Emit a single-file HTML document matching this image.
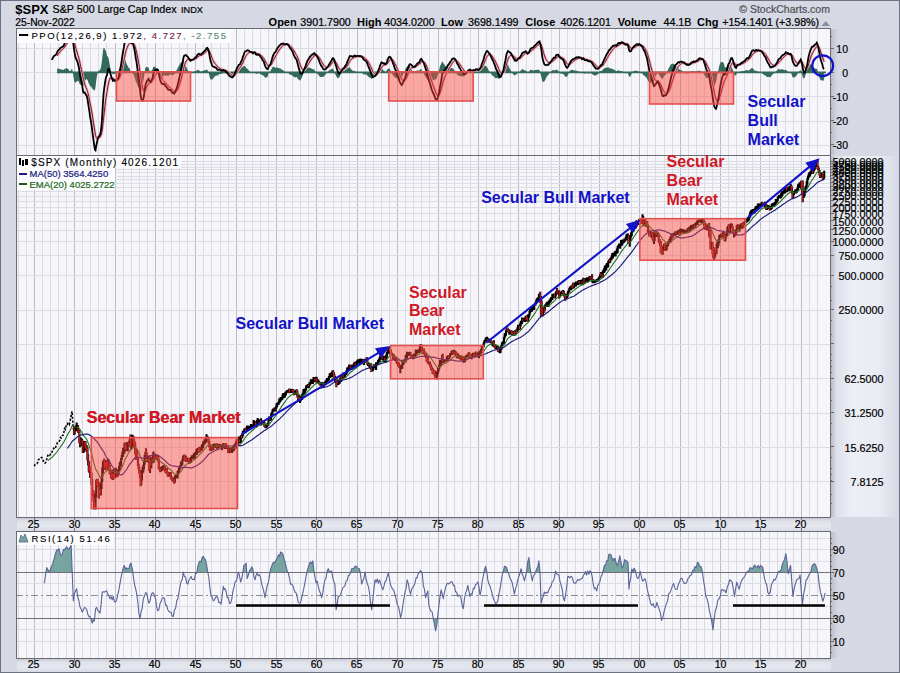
<!DOCTYPE html>
<html><head><meta charset="utf-8"><style>
html,body{margin:0;padding:0;background:#d8dbe5;}
svg{display:block;font-family:"Liberation Sans", sans-serif;}
</style></head><body>
<svg width="900" height="673" viewBox="0 0 900 673">
<defs><linearGradient id="gR" x1="0" x2="1" y1="0" y2="0"><stop offset="0" stop-color="#b8bcc8"/><stop offset="0.08" stop-color="#dfe1ea"/><stop offset="0.3" stop-color="#eceef5"/><stop offset="0.7" stop-color="#eaecf3"/><stop offset="1" stop-color="#d6d9e3"/></linearGradient><linearGradient id="gR2" x1="0" x2="1" y1="0" y2="0"><stop offset="0" stop-color="#bcbfcb"/><stop offset="0.1" stop-color="#d6d9e3"/><stop offset="1" stop-color="#d6d9e3"/></linearGradient><linearGradient id="gX" x1="0" x2="0" y1="0" y2="1"><stop offset="0" stop-color="#c8cbd6"/><stop offset="0.25" stop-color="#e0e2ea"/><stop offset="0.6" stop-color="#e6e8f0"/><stop offset="1" stop-color="#d8dbe5"/></linearGradient><clipPath id="c0"><rect x="17" y="29" width="813" height="126"/></clipPath><clipPath id="c1"><rect x="17" y="156" width="813" height="361"/></clipPath><clipPath id="c2"><rect x="17" y="532" width="813" height="126"/></clipPath><clipPath id="r70"><rect x="16" y="531" width="814" height="41.39999999999998"/></clipPath><clipPath id="r30"><rect x="16" y="618.2" width="814" height="39.799999999999955"/></clipPath></defs>
<rect x="0" y="0" width="900" height="673" fill="#d6d9e3"/>
<rect x="831" y="156" width="68" height="361" fill="url(#gR)"/>
<rect x="831" y="29" width="68" height="126" fill="url(#gR2)"/>
<rect x="831" y="532" width="68" height="126" fill="url(#gR2)"/>
<rect x="17" y="518" width="814" height="13" fill="url(#gX)"/>
<rect x="17" y="659" width="814" height="13" fill="url(#gX)"/>
<rect x="0.5" y="0.5" width="899" height="672" fill="none" stroke="#6e7180" stroke-width="1"/>
<rect x="16.5" y="28.5" width="814" height="127" fill="#f6f6fa"/>
<rect x="16.5" y="155.5" width="814" height="362" fill="#f6f6fa"/>
<rect x="16.5" y="531.5" width="814" height="127" fill="#f6f6fa"/>
<line x1="18.5" y1="28" x2="18.5" y2="155" stroke="#dadae2" stroke-width="1"/><line x1="26.5" y1="28" x2="26.5" y2="155" stroke="#dadae2" stroke-width="1"/><line x1="34.5" y1="28" x2="34.5" y2="155" stroke="#bcbcc4" stroke-width="1"/><line x1="42.5" y1="28" x2="42.5" y2="155" stroke="#dadae2" stroke-width="1"/><line x1="50.5" y1="28" x2="50.5" y2="155" stroke="#dadae2" stroke-width="1"/><line x1="58.5" y1="28" x2="58.5" y2="155" stroke="#dadae2" stroke-width="1"/><line x1="66.5" y1="28" x2="66.5" y2="155" stroke="#dadae2" stroke-width="1"/><line x1="74.5" y1="28" x2="74.5" y2="155" stroke="#bcbcc4" stroke-width="1"/><line x1="82.5" y1="28" x2="82.5" y2="155" stroke="#dadae2" stroke-width="1"/><line x1="90.5" y1="28" x2="90.5" y2="155" stroke="#dadae2" stroke-width="1"/><line x1="98.5" y1="28" x2="98.5" y2="155" stroke="#dadae2" stroke-width="1"/><line x1="106.5" y1="28" x2="106.5" y2="155" stroke="#dadae2" stroke-width="1"/><line x1="115.5" y1="28" x2="115.5" y2="155" stroke="#bcbcc4" stroke-width="1"/><line x1="123.5" y1="28" x2="123.5" y2="155" stroke="#dadae2" stroke-width="1"/><line x1="131.5" y1="28" x2="131.5" y2="155" stroke="#dadae2" stroke-width="1"/><line x1="139.5" y1="28" x2="139.5" y2="155" stroke="#dadae2" stroke-width="1"/><line x1="147.5" y1="28" x2="147.5" y2="155" stroke="#dadae2" stroke-width="1"/><line x1="155.5" y1="28" x2="155.5" y2="155" stroke="#bcbcc4" stroke-width="1"/><line x1="163.5" y1="28" x2="163.5" y2="155" stroke="#dadae2" stroke-width="1"/><line x1="171.5" y1="28" x2="171.5" y2="155" stroke="#dadae2" stroke-width="1"/><line x1="179.5" y1="28" x2="179.5" y2="155" stroke="#dadae2" stroke-width="1"/><line x1="187.5" y1="28" x2="187.5" y2="155" stroke="#dadae2" stroke-width="1"/><line x1="195.5" y1="28" x2="195.5" y2="155" stroke="#bcbcc4" stroke-width="1"/><line x1="203.5" y1="28" x2="203.5" y2="155" stroke="#dadae2" stroke-width="1"/><line x1="211.5" y1="28" x2="211.5" y2="155" stroke="#dadae2" stroke-width="1"/><line x1="220.5" y1="28" x2="220.5" y2="155" stroke="#dadae2" stroke-width="1"/><line x1="228.5" y1="28" x2="228.5" y2="155" stroke="#dadae2" stroke-width="1"/><line x1="236.5" y1="28" x2="236.5" y2="155" stroke="#bcbcc4" stroke-width="1"/><line x1="244.5" y1="28" x2="244.5" y2="155" stroke="#dadae2" stroke-width="1"/><line x1="252.5" y1="28" x2="252.5" y2="155" stroke="#dadae2" stroke-width="1"/><line x1="260.5" y1="28" x2="260.5" y2="155" stroke="#dadae2" stroke-width="1"/><line x1="268.5" y1="28" x2="268.5" y2="155" stroke="#dadae2" stroke-width="1"/><line x1="276.5" y1="28" x2="276.5" y2="155" stroke="#bcbcc4" stroke-width="1"/><line x1="284.5" y1="28" x2="284.5" y2="155" stroke="#dadae2" stroke-width="1"/><line x1="292.5" y1="28" x2="292.5" y2="155" stroke="#dadae2" stroke-width="1"/><line x1="300.5" y1="28" x2="300.5" y2="155" stroke="#dadae2" stroke-width="1"/><line x1="308.5" y1="28" x2="308.5" y2="155" stroke="#dadae2" stroke-width="1"/><line x1="316.5" y1="28" x2="316.5" y2="155" stroke="#bcbcc4" stroke-width="1"/><line x1="324.5" y1="28" x2="324.5" y2="155" stroke="#dadae2" stroke-width="1"/><line x1="333.5" y1="28" x2="333.5" y2="155" stroke="#dadae2" stroke-width="1"/><line x1="341.5" y1="28" x2="341.5" y2="155" stroke="#dadae2" stroke-width="1"/><line x1="349.5" y1="28" x2="349.5" y2="155" stroke="#dadae2" stroke-width="1"/><line x1="357.5" y1="28" x2="357.5" y2="155" stroke="#bcbcc4" stroke-width="1"/><line x1="365.5" y1="28" x2="365.5" y2="155" stroke="#dadae2" stroke-width="1"/><line x1="373.5" y1="28" x2="373.5" y2="155" stroke="#dadae2" stroke-width="1"/><line x1="381.5" y1="28" x2="381.5" y2="155" stroke="#dadae2" stroke-width="1"/><line x1="389.5" y1="28" x2="389.5" y2="155" stroke="#dadae2" stroke-width="1"/><line x1="397.5" y1="28" x2="397.5" y2="155" stroke="#bcbcc4" stroke-width="1"/><line x1="405.5" y1="28" x2="405.5" y2="155" stroke="#dadae2" stroke-width="1"/><line x1="413.5" y1="28" x2="413.5" y2="155" stroke="#dadae2" stroke-width="1"/><line x1="421.5" y1="28" x2="421.5" y2="155" stroke="#dadae2" stroke-width="1"/><line x1="429.5" y1="28" x2="429.5" y2="155" stroke="#dadae2" stroke-width="1"/><line x1="438.5" y1="28" x2="438.5" y2="155" stroke="#bcbcc4" stroke-width="1"/><line x1="446.5" y1="28" x2="446.5" y2="155" stroke="#dadae2" stroke-width="1"/><line x1="454.5" y1="28" x2="454.5" y2="155" stroke="#dadae2" stroke-width="1"/><line x1="462.5" y1="28" x2="462.5" y2="155" stroke="#dadae2" stroke-width="1"/><line x1="470.5" y1="28" x2="470.5" y2="155" stroke="#dadae2" stroke-width="1"/><line x1="478.5" y1="28" x2="478.5" y2="155" stroke="#bcbcc4" stroke-width="1"/><line x1="486.5" y1="28" x2="486.5" y2="155" stroke="#dadae2" stroke-width="1"/><line x1="494.5" y1="28" x2="494.5" y2="155" stroke="#dadae2" stroke-width="1"/><line x1="502.5" y1="28" x2="502.5" y2="155" stroke="#dadae2" stroke-width="1"/><line x1="510.5" y1="28" x2="510.5" y2="155" stroke="#dadae2" stroke-width="1"/><line x1="518.5" y1="28" x2="518.5" y2="155" stroke="#bcbcc4" stroke-width="1"/><line x1="526.5" y1="28" x2="526.5" y2="155" stroke="#dadae2" stroke-width="1"/><line x1="534.5" y1="28" x2="534.5" y2="155" stroke="#dadae2" stroke-width="1"/><line x1="542.5" y1="28" x2="542.5" y2="155" stroke="#dadae2" stroke-width="1"/><line x1="551.5" y1="28" x2="551.5" y2="155" stroke="#dadae2" stroke-width="1"/><line x1="559.5" y1="28" x2="559.5" y2="155" stroke="#bcbcc4" stroke-width="1"/><line x1="567.5" y1="28" x2="567.5" y2="155" stroke="#dadae2" stroke-width="1"/><line x1="575.5" y1="28" x2="575.5" y2="155" stroke="#dadae2" stroke-width="1"/><line x1="583.5" y1="28" x2="583.5" y2="155" stroke="#dadae2" stroke-width="1"/><line x1="591.5" y1="28" x2="591.5" y2="155" stroke="#dadae2" stroke-width="1"/><line x1="599.5" y1="28" x2="599.5" y2="155" stroke="#bcbcc4" stroke-width="1"/><line x1="607.5" y1="28" x2="607.5" y2="155" stroke="#dadae2" stroke-width="1"/><line x1="615.5" y1="28" x2="615.5" y2="155" stroke="#dadae2" stroke-width="1"/><line x1="623.5" y1="28" x2="623.5" y2="155" stroke="#dadae2" stroke-width="1"/><line x1="631.5" y1="28" x2="631.5" y2="155" stroke="#dadae2" stroke-width="1"/><line x1="639.5" y1="28" x2="639.5" y2="155" stroke="#bcbcc4" stroke-width="1"/><line x1="647.5" y1="28" x2="647.5" y2="155" stroke="#dadae2" stroke-width="1"/><line x1="655.5" y1="28" x2="655.5" y2="155" stroke="#dadae2" stroke-width="1"/><line x1="664.5" y1="28" x2="664.5" y2="155" stroke="#dadae2" stroke-width="1"/><line x1="672.5" y1="28" x2="672.5" y2="155" stroke="#dadae2" stroke-width="1"/><line x1="680.5" y1="28" x2="680.5" y2="155" stroke="#bcbcc4" stroke-width="1"/><line x1="688.5" y1="28" x2="688.5" y2="155" stroke="#dadae2" stroke-width="1"/><line x1="696.5" y1="28" x2="696.5" y2="155" stroke="#dadae2" stroke-width="1"/><line x1="704.5" y1="28" x2="704.5" y2="155" stroke="#dadae2" stroke-width="1"/><line x1="712.5" y1="28" x2="712.5" y2="155" stroke="#dadae2" stroke-width="1"/><line x1="720.5" y1="28" x2="720.5" y2="155" stroke="#bcbcc4" stroke-width="1"/><line x1="728.5" y1="28" x2="728.5" y2="155" stroke="#dadae2" stroke-width="1"/><line x1="736.5" y1="28" x2="736.5" y2="155" stroke="#dadae2" stroke-width="1"/><line x1="744.5" y1="28" x2="744.5" y2="155" stroke="#dadae2" stroke-width="1"/><line x1="752.5" y1="28" x2="752.5" y2="155" stroke="#dadae2" stroke-width="1"/><line x1="760.5" y1="28" x2="760.5" y2="155" stroke="#bcbcc4" stroke-width="1"/><line x1="769.5" y1="28" x2="769.5" y2="155" stroke="#dadae2" stroke-width="1"/><line x1="777.5" y1="28" x2="777.5" y2="155" stroke="#dadae2" stroke-width="1"/><line x1="785.5" y1="28" x2="785.5" y2="155" stroke="#dadae2" stroke-width="1"/><line x1="793.5" y1="28" x2="793.5" y2="155" stroke="#dadae2" stroke-width="1"/><line x1="801.5" y1="28" x2="801.5" y2="155" stroke="#bcbcc4" stroke-width="1"/><line x1="809.5" y1="28" x2="809.5" y2="155" stroke="#dadae2" stroke-width="1"/><line x1="817.5" y1="28" x2="817.5" y2="155" stroke="#dadae2" stroke-width="1"/><line x1="18.5" y1="155" x2="18.5" y2="517" stroke="#dadae2" stroke-width="1"/><line x1="26.5" y1="155" x2="26.5" y2="517" stroke="#dadae2" stroke-width="1"/><line x1="34.5" y1="155" x2="34.5" y2="517" stroke="#bcbcc4" stroke-width="1"/><line x1="42.5" y1="155" x2="42.5" y2="517" stroke="#dadae2" stroke-width="1"/><line x1="50.5" y1="155" x2="50.5" y2="517" stroke="#dadae2" stroke-width="1"/><line x1="58.5" y1="155" x2="58.5" y2="517" stroke="#dadae2" stroke-width="1"/><line x1="66.5" y1="155" x2="66.5" y2="517" stroke="#dadae2" stroke-width="1"/><line x1="74.5" y1="155" x2="74.5" y2="517" stroke="#bcbcc4" stroke-width="1"/><line x1="82.5" y1="155" x2="82.5" y2="517" stroke="#dadae2" stroke-width="1"/><line x1="90.5" y1="155" x2="90.5" y2="517" stroke="#dadae2" stroke-width="1"/><line x1="98.5" y1="155" x2="98.5" y2="517" stroke="#dadae2" stroke-width="1"/><line x1="106.5" y1="155" x2="106.5" y2="517" stroke="#dadae2" stroke-width="1"/><line x1="115.5" y1="155" x2="115.5" y2="517" stroke="#bcbcc4" stroke-width="1"/><line x1="123.5" y1="155" x2="123.5" y2="517" stroke="#dadae2" stroke-width="1"/><line x1="131.5" y1="155" x2="131.5" y2="517" stroke="#dadae2" stroke-width="1"/><line x1="139.5" y1="155" x2="139.5" y2="517" stroke="#dadae2" stroke-width="1"/><line x1="147.5" y1="155" x2="147.5" y2="517" stroke="#dadae2" stroke-width="1"/><line x1="155.5" y1="155" x2="155.5" y2="517" stroke="#bcbcc4" stroke-width="1"/><line x1="163.5" y1="155" x2="163.5" y2="517" stroke="#dadae2" stroke-width="1"/><line x1="171.5" y1="155" x2="171.5" y2="517" stroke="#dadae2" stroke-width="1"/><line x1="179.5" y1="155" x2="179.5" y2="517" stroke="#dadae2" stroke-width="1"/><line x1="187.5" y1="155" x2="187.5" y2="517" stroke="#dadae2" stroke-width="1"/><line x1="195.5" y1="155" x2="195.5" y2="517" stroke="#bcbcc4" stroke-width="1"/><line x1="203.5" y1="155" x2="203.5" y2="517" stroke="#dadae2" stroke-width="1"/><line x1="211.5" y1="155" x2="211.5" y2="517" stroke="#dadae2" stroke-width="1"/><line x1="220.5" y1="155" x2="220.5" y2="517" stroke="#dadae2" stroke-width="1"/><line x1="228.5" y1="155" x2="228.5" y2="517" stroke="#dadae2" stroke-width="1"/><line x1="236.5" y1="155" x2="236.5" y2="517" stroke="#bcbcc4" stroke-width="1"/><line x1="244.5" y1="155" x2="244.5" y2="517" stroke="#dadae2" stroke-width="1"/><line x1="252.5" y1="155" x2="252.5" y2="517" stroke="#dadae2" stroke-width="1"/><line x1="260.5" y1="155" x2="260.5" y2="517" stroke="#dadae2" stroke-width="1"/><line x1="268.5" y1="155" x2="268.5" y2="517" stroke="#dadae2" stroke-width="1"/><line x1="276.5" y1="155" x2="276.5" y2="517" stroke="#bcbcc4" stroke-width="1"/><line x1="284.5" y1="155" x2="284.5" y2="517" stroke="#dadae2" stroke-width="1"/><line x1="292.5" y1="155" x2="292.5" y2="517" stroke="#dadae2" stroke-width="1"/><line x1="300.5" y1="155" x2="300.5" y2="517" stroke="#dadae2" stroke-width="1"/><line x1="308.5" y1="155" x2="308.5" y2="517" stroke="#dadae2" stroke-width="1"/><line x1="316.5" y1="155" x2="316.5" y2="517" stroke="#bcbcc4" stroke-width="1"/><line x1="324.5" y1="155" x2="324.5" y2="517" stroke="#dadae2" stroke-width="1"/><line x1="333.5" y1="155" x2="333.5" y2="517" stroke="#dadae2" stroke-width="1"/><line x1="341.5" y1="155" x2="341.5" y2="517" stroke="#dadae2" stroke-width="1"/><line x1="349.5" y1="155" x2="349.5" y2="517" stroke="#dadae2" stroke-width="1"/><line x1="357.5" y1="155" x2="357.5" y2="517" stroke="#bcbcc4" stroke-width="1"/><line x1="365.5" y1="155" x2="365.5" y2="517" stroke="#dadae2" stroke-width="1"/><line x1="373.5" y1="155" x2="373.5" y2="517" stroke="#dadae2" stroke-width="1"/><line x1="381.5" y1="155" x2="381.5" y2="517" stroke="#dadae2" stroke-width="1"/><line x1="389.5" y1="155" x2="389.5" y2="517" stroke="#dadae2" stroke-width="1"/><line x1="397.5" y1="155" x2="397.5" y2="517" stroke="#bcbcc4" stroke-width="1"/><line x1="405.5" y1="155" x2="405.5" y2="517" stroke="#dadae2" stroke-width="1"/><line x1="413.5" y1="155" x2="413.5" y2="517" stroke="#dadae2" stroke-width="1"/><line x1="421.5" y1="155" x2="421.5" y2="517" stroke="#dadae2" stroke-width="1"/><line x1="429.5" y1="155" x2="429.5" y2="517" stroke="#dadae2" stroke-width="1"/><line x1="438.5" y1="155" x2="438.5" y2="517" stroke="#bcbcc4" stroke-width="1"/><line x1="446.5" y1="155" x2="446.5" y2="517" stroke="#dadae2" stroke-width="1"/><line x1="454.5" y1="155" x2="454.5" y2="517" stroke="#dadae2" stroke-width="1"/><line x1="462.5" y1="155" x2="462.5" y2="517" stroke="#dadae2" stroke-width="1"/><line x1="470.5" y1="155" x2="470.5" y2="517" stroke="#dadae2" stroke-width="1"/><line x1="478.5" y1="155" x2="478.5" y2="517" stroke="#bcbcc4" stroke-width="1"/><line x1="486.5" y1="155" x2="486.5" y2="517" stroke="#dadae2" stroke-width="1"/><line x1="494.5" y1="155" x2="494.5" y2="517" stroke="#dadae2" stroke-width="1"/><line x1="502.5" y1="155" x2="502.5" y2="517" stroke="#dadae2" stroke-width="1"/><line x1="510.5" y1="155" x2="510.5" y2="517" stroke="#dadae2" stroke-width="1"/><line x1="518.5" y1="155" x2="518.5" y2="517" stroke="#bcbcc4" stroke-width="1"/><line x1="526.5" y1="155" x2="526.5" y2="517" stroke="#dadae2" stroke-width="1"/><line x1="534.5" y1="155" x2="534.5" y2="517" stroke="#dadae2" stroke-width="1"/><line x1="542.5" y1="155" x2="542.5" y2="517" stroke="#dadae2" stroke-width="1"/><line x1="551.5" y1="155" x2="551.5" y2="517" stroke="#dadae2" stroke-width="1"/><line x1="559.5" y1="155" x2="559.5" y2="517" stroke="#bcbcc4" stroke-width="1"/><line x1="567.5" y1="155" x2="567.5" y2="517" stroke="#dadae2" stroke-width="1"/><line x1="575.5" y1="155" x2="575.5" y2="517" stroke="#dadae2" stroke-width="1"/><line x1="583.5" y1="155" x2="583.5" y2="517" stroke="#dadae2" stroke-width="1"/><line x1="591.5" y1="155" x2="591.5" y2="517" stroke="#dadae2" stroke-width="1"/><line x1="599.5" y1="155" x2="599.5" y2="517" stroke="#bcbcc4" stroke-width="1"/><line x1="607.5" y1="155" x2="607.5" y2="517" stroke="#dadae2" stroke-width="1"/><line x1="615.5" y1="155" x2="615.5" y2="517" stroke="#dadae2" stroke-width="1"/><line x1="623.5" y1="155" x2="623.5" y2="517" stroke="#dadae2" stroke-width="1"/><line x1="631.5" y1="155" x2="631.5" y2="517" stroke="#dadae2" stroke-width="1"/><line x1="639.5" y1="155" x2="639.5" y2="517" stroke="#bcbcc4" stroke-width="1"/><line x1="647.5" y1="155" x2="647.5" y2="517" stroke="#dadae2" stroke-width="1"/><line x1="655.5" y1="155" x2="655.5" y2="517" stroke="#dadae2" stroke-width="1"/><line x1="664.5" y1="155" x2="664.5" y2="517" stroke="#dadae2" stroke-width="1"/><line x1="672.5" y1="155" x2="672.5" y2="517" stroke="#dadae2" stroke-width="1"/><line x1="680.5" y1="155" x2="680.5" y2="517" stroke="#bcbcc4" stroke-width="1"/><line x1="688.5" y1="155" x2="688.5" y2="517" stroke="#dadae2" stroke-width="1"/><line x1="696.5" y1="155" x2="696.5" y2="517" stroke="#dadae2" stroke-width="1"/><line x1="704.5" y1="155" x2="704.5" y2="517" stroke="#dadae2" stroke-width="1"/><line x1="712.5" y1="155" x2="712.5" y2="517" stroke="#dadae2" stroke-width="1"/><line x1="720.5" y1="155" x2="720.5" y2="517" stroke="#bcbcc4" stroke-width="1"/><line x1="728.5" y1="155" x2="728.5" y2="517" stroke="#dadae2" stroke-width="1"/><line x1="736.5" y1="155" x2="736.5" y2="517" stroke="#dadae2" stroke-width="1"/><line x1="744.5" y1="155" x2="744.5" y2="517" stroke="#dadae2" stroke-width="1"/><line x1="752.5" y1="155" x2="752.5" y2="517" stroke="#dadae2" stroke-width="1"/><line x1="760.5" y1="155" x2="760.5" y2="517" stroke="#bcbcc4" stroke-width="1"/><line x1="769.5" y1="155" x2="769.5" y2="517" stroke="#dadae2" stroke-width="1"/><line x1="777.5" y1="155" x2="777.5" y2="517" stroke="#dadae2" stroke-width="1"/><line x1="785.5" y1="155" x2="785.5" y2="517" stroke="#dadae2" stroke-width="1"/><line x1="793.5" y1="155" x2="793.5" y2="517" stroke="#dadae2" stroke-width="1"/><line x1="801.5" y1="155" x2="801.5" y2="517" stroke="#bcbcc4" stroke-width="1"/><line x1="809.5" y1="155" x2="809.5" y2="517" stroke="#dadae2" stroke-width="1"/><line x1="817.5" y1="155" x2="817.5" y2="517" stroke="#dadae2" stroke-width="1"/><line x1="18.5" y1="531" x2="18.5" y2="658" stroke="#dadae2" stroke-width="1"/><line x1="26.5" y1="531" x2="26.5" y2="658" stroke="#dadae2" stroke-width="1"/><line x1="34.5" y1="531" x2="34.5" y2="658" stroke="#bcbcc4" stroke-width="1"/><line x1="42.5" y1="531" x2="42.5" y2="658" stroke="#dadae2" stroke-width="1"/><line x1="50.5" y1="531" x2="50.5" y2="658" stroke="#dadae2" stroke-width="1"/><line x1="58.5" y1="531" x2="58.5" y2="658" stroke="#dadae2" stroke-width="1"/><line x1="66.5" y1="531" x2="66.5" y2="658" stroke="#dadae2" stroke-width="1"/><line x1="74.5" y1="531" x2="74.5" y2="658" stroke="#bcbcc4" stroke-width="1"/><line x1="82.5" y1="531" x2="82.5" y2="658" stroke="#dadae2" stroke-width="1"/><line x1="90.5" y1="531" x2="90.5" y2="658" stroke="#dadae2" stroke-width="1"/><line x1="98.5" y1="531" x2="98.5" y2="658" stroke="#dadae2" stroke-width="1"/><line x1="106.5" y1="531" x2="106.5" y2="658" stroke="#dadae2" stroke-width="1"/><line x1="115.5" y1="531" x2="115.5" y2="658" stroke="#bcbcc4" stroke-width="1"/><line x1="123.5" y1="531" x2="123.5" y2="658" stroke="#dadae2" stroke-width="1"/><line x1="131.5" y1="531" x2="131.5" y2="658" stroke="#dadae2" stroke-width="1"/><line x1="139.5" y1="531" x2="139.5" y2="658" stroke="#dadae2" stroke-width="1"/><line x1="147.5" y1="531" x2="147.5" y2="658" stroke="#dadae2" stroke-width="1"/><line x1="155.5" y1="531" x2="155.5" y2="658" stroke="#bcbcc4" stroke-width="1"/><line x1="163.5" y1="531" x2="163.5" y2="658" stroke="#dadae2" stroke-width="1"/><line x1="171.5" y1="531" x2="171.5" y2="658" stroke="#dadae2" stroke-width="1"/><line x1="179.5" y1="531" x2="179.5" y2="658" stroke="#dadae2" stroke-width="1"/><line x1="187.5" y1="531" x2="187.5" y2="658" stroke="#dadae2" stroke-width="1"/><line x1="195.5" y1="531" x2="195.5" y2="658" stroke="#bcbcc4" stroke-width="1"/><line x1="203.5" y1="531" x2="203.5" y2="658" stroke="#dadae2" stroke-width="1"/><line x1="211.5" y1="531" x2="211.5" y2="658" stroke="#dadae2" stroke-width="1"/><line x1="220.5" y1="531" x2="220.5" y2="658" stroke="#dadae2" stroke-width="1"/><line x1="228.5" y1="531" x2="228.5" y2="658" stroke="#dadae2" stroke-width="1"/><line x1="236.5" y1="531" x2="236.5" y2="658" stroke="#bcbcc4" stroke-width="1"/><line x1="244.5" y1="531" x2="244.5" y2="658" stroke="#dadae2" stroke-width="1"/><line x1="252.5" y1="531" x2="252.5" y2="658" stroke="#dadae2" stroke-width="1"/><line x1="260.5" y1="531" x2="260.5" y2="658" stroke="#dadae2" stroke-width="1"/><line x1="268.5" y1="531" x2="268.5" y2="658" stroke="#dadae2" stroke-width="1"/><line x1="276.5" y1="531" x2="276.5" y2="658" stroke="#bcbcc4" stroke-width="1"/><line x1="284.5" y1="531" x2="284.5" y2="658" stroke="#dadae2" stroke-width="1"/><line x1="292.5" y1="531" x2="292.5" y2="658" stroke="#dadae2" stroke-width="1"/><line x1="300.5" y1="531" x2="300.5" y2="658" stroke="#dadae2" stroke-width="1"/><line x1="308.5" y1="531" x2="308.5" y2="658" stroke="#dadae2" stroke-width="1"/><line x1="316.5" y1="531" x2="316.5" y2="658" stroke="#bcbcc4" stroke-width="1"/><line x1="324.5" y1="531" x2="324.5" y2="658" stroke="#dadae2" stroke-width="1"/><line x1="333.5" y1="531" x2="333.5" y2="658" stroke="#dadae2" stroke-width="1"/><line x1="341.5" y1="531" x2="341.5" y2="658" stroke="#dadae2" stroke-width="1"/><line x1="349.5" y1="531" x2="349.5" y2="658" stroke="#dadae2" stroke-width="1"/><line x1="357.5" y1="531" x2="357.5" y2="658" stroke="#bcbcc4" stroke-width="1"/><line x1="365.5" y1="531" x2="365.5" y2="658" stroke="#dadae2" stroke-width="1"/><line x1="373.5" y1="531" x2="373.5" y2="658" stroke="#dadae2" stroke-width="1"/><line x1="381.5" y1="531" x2="381.5" y2="658" stroke="#dadae2" stroke-width="1"/><line x1="389.5" y1="531" x2="389.5" y2="658" stroke="#dadae2" stroke-width="1"/><line x1="397.5" y1="531" x2="397.5" y2="658" stroke="#bcbcc4" stroke-width="1"/><line x1="405.5" y1="531" x2="405.5" y2="658" stroke="#dadae2" stroke-width="1"/><line x1="413.5" y1="531" x2="413.5" y2="658" stroke="#dadae2" stroke-width="1"/><line x1="421.5" y1="531" x2="421.5" y2="658" stroke="#dadae2" stroke-width="1"/><line x1="429.5" y1="531" x2="429.5" y2="658" stroke="#dadae2" stroke-width="1"/><line x1="438.5" y1="531" x2="438.5" y2="658" stroke="#bcbcc4" stroke-width="1"/><line x1="446.5" y1="531" x2="446.5" y2="658" stroke="#dadae2" stroke-width="1"/><line x1="454.5" y1="531" x2="454.5" y2="658" stroke="#dadae2" stroke-width="1"/><line x1="462.5" y1="531" x2="462.5" y2="658" stroke="#dadae2" stroke-width="1"/><line x1="470.5" y1="531" x2="470.5" y2="658" stroke="#dadae2" stroke-width="1"/><line x1="478.5" y1="531" x2="478.5" y2="658" stroke="#bcbcc4" stroke-width="1"/><line x1="486.5" y1="531" x2="486.5" y2="658" stroke="#dadae2" stroke-width="1"/><line x1="494.5" y1="531" x2="494.5" y2="658" stroke="#dadae2" stroke-width="1"/><line x1="502.5" y1="531" x2="502.5" y2="658" stroke="#dadae2" stroke-width="1"/><line x1="510.5" y1="531" x2="510.5" y2="658" stroke="#dadae2" stroke-width="1"/><line x1="518.5" y1="531" x2="518.5" y2="658" stroke="#bcbcc4" stroke-width="1"/><line x1="526.5" y1="531" x2="526.5" y2="658" stroke="#dadae2" stroke-width="1"/><line x1="534.5" y1="531" x2="534.5" y2="658" stroke="#dadae2" stroke-width="1"/><line x1="542.5" y1="531" x2="542.5" y2="658" stroke="#dadae2" stroke-width="1"/><line x1="551.5" y1="531" x2="551.5" y2="658" stroke="#dadae2" stroke-width="1"/><line x1="559.5" y1="531" x2="559.5" y2="658" stroke="#bcbcc4" stroke-width="1"/><line x1="567.5" y1="531" x2="567.5" y2="658" stroke="#dadae2" stroke-width="1"/><line x1="575.5" y1="531" x2="575.5" y2="658" stroke="#dadae2" stroke-width="1"/><line x1="583.5" y1="531" x2="583.5" y2="658" stroke="#dadae2" stroke-width="1"/><line x1="591.5" y1="531" x2="591.5" y2="658" stroke="#dadae2" stroke-width="1"/><line x1="599.5" y1="531" x2="599.5" y2="658" stroke="#bcbcc4" stroke-width="1"/><line x1="607.5" y1="531" x2="607.5" y2="658" stroke="#dadae2" stroke-width="1"/><line x1="615.5" y1="531" x2="615.5" y2="658" stroke="#dadae2" stroke-width="1"/><line x1="623.5" y1="531" x2="623.5" y2="658" stroke="#dadae2" stroke-width="1"/><line x1="631.5" y1="531" x2="631.5" y2="658" stroke="#dadae2" stroke-width="1"/><line x1="639.5" y1="531" x2="639.5" y2="658" stroke="#bcbcc4" stroke-width="1"/><line x1="647.5" y1="531" x2="647.5" y2="658" stroke="#dadae2" stroke-width="1"/><line x1="655.5" y1="531" x2="655.5" y2="658" stroke="#dadae2" stroke-width="1"/><line x1="664.5" y1="531" x2="664.5" y2="658" stroke="#dadae2" stroke-width="1"/><line x1="672.5" y1="531" x2="672.5" y2="658" stroke="#dadae2" stroke-width="1"/><line x1="680.5" y1="531" x2="680.5" y2="658" stroke="#bcbcc4" stroke-width="1"/><line x1="688.5" y1="531" x2="688.5" y2="658" stroke="#dadae2" stroke-width="1"/><line x1="696.5" y1="531" x2="696.5" y2="658" stroke="#dadae2" stroke-width="1"/><line x1="704.5" y1="531" x2="704.5" y2="658" stroke="#dadae2" stroke-width="1"/><line x1="712.5" y1="531" x2="712.5" y2="658" stroke="#dadae2" stroke-width="1"/><line x1="720.5" y1="531" x2="720.5" y2="658" stroke="#bcbcc4" stroke-width="1"/><line x1="728.5" y1="531" x2="728.5" y2="658" stroke="#dadae2" stroke-width="1"/><line x1="736.5" y1="531" x2="736.5" y2="658" stroke="#dadae2" stroke-width="1"/><line x1="744.5" y1="531" x2="744.5" y2="658" stroke="#dadae2" stroke-width="1"/><line x1="752.5" y1="531" x2="752.5" y2="658" stroke="#dadae2" stroke-width="1"/><line x1="760.5" y1="531" x2="760.5" y2="658" stroke="#bcbcc4" stroke-width="1"/><line x1="769.5" y1="531" x2="769.5" y2="658" stroke="#dadae2" stroke-width="1"/><line x1="777.5" y1="531" x2="777.5" y2="658" stroke="#dadae2" stroke-width="1"/><line x1="785.5" y1="531" x2="785.5" y2="658" stroke="#dadae2" stroke-width="1"/><line x1="793.5" y1="531" x2="793.5" y2="658" stroke="#dadae2" stroke-width="1"/><line x1="801.5" y1="531" x2="801.5" y2="658" stroke="#bcbcc4" stroke-width="1"/><line x1="809.5" y1="531" x2="809.5" y2="658" stroke="#dadae2" stroke-width="1"/><line x1="817.5" y1="531" x2="817.5" y2="658" stroke="#dadae2" stroke-width="1"/>
<line x1="16" y1="48.5" x2="830" y2="48.5" stroke="#dcdce4"/><line x1="16" y1="72.5" x2="830" y2="72.5" stroke="#dcdce4"/><line x1="16" y1="96.5" x2="830" y2="96.5" stroke="#dcdce4"/><line x1="16" y1="121.5" x2="830" y2="121.5" stroke="#dcdce4"/><line x1="16" y1="145.5" x2="830" y2="145.5" stroke="#dcdce4"/><line x1="16" y1="161.5" x2="830" y2="161.5" stroke="#dcdce4"/><line x1="16" y1="164.5" x2="830" y2="164.5" stroke="#dcdce4"/><line x1="16" y1="167.5" x2="830" y2="167.5" stroke="#dcdce4"/><line x1="16" y1="169.5" x2="830" y2="169.5" stroke="#dcdce4"/><line x1="16" y1="172.5" x2="830" y2="172.5" stroke="#dcdce4"/><line x1="16" y1="176.5" x2="830" y2="176.5" stroke="#dcdce4"/><line x1="16" y1="179.5" x2="830" y2="179.5" stroke="#dcdce4"/><line x1="16" y1="183.5" x2="830" y2="183.5" stroke="#dcdce4"/><line x1="16" y1="187.5" x2="830" y2="187.5" stroke="#dcdce4"/><line x1="16" y1="191.5" x2="830" y2="191.5" stroke="#dcdce4"/><line x1="16" y1="196.5" x2="830" y2="196.5" stroke="#dcdce4"/><line x1="16" y1="201.5" x2="830" y2="201.5" stroke="#dcdce4"/><line x1="16" y1="207.5" x2="830" y2="207.5" stroke="#dcdce4"/><line x1="16" y1="213.5" x2="830" y2="213.5" stroke="#dcdce4"/><line x1="16" y1="221.5" x2="830" y2="221.5" stroke="#dcdce4"/><line x1="16" y1="230.5" x2="830" y2="230.5" stroke="#dcdce4"/><line x1="16" y1="241.5" x2="830" y2="241.5" stroke="#dcdce4"/><line x1="16" y1="255.5" x2="830" y2="255.5" stroke="#dcdce4"/><line x1="16" y1="275.5" x2="830" y2="275.5" stroke="#dcdce4"/><line x1="16" y1="310.5" x2="830" y2="310.5" stroke="#dcdce4"/><line x1="16" y1="378.5" x2="830" y2="378.5" stroke="#dcdce4"/><line x1="16" y1="413.5" x2="830" y2="413.5" stroke="#dcdce4"/><line x1="16" y1="447.5" x2="830" y2="447.5" stroke="#dcdce4"/><line x1="16" y1="481.5" x2="830" y2="481.5" stroke="#dcdce4"/><line x1="16" y1="344.5" x2="830" y2="344.5" stroke="#dcdce4"/><line x1="16" y1="538.5" x2="830" y2="538.5" stroke="#dcdce4"/><line x1="16" y1="549.5" x2="830" y2="549.5" stroke="#dcdce4"/><line x1="16" y1="561.5" x2="830" y2="561.5" stroke="#dcdce4"/><line x1="16" y1="583.5" x2="830" y2="583.5" stroke="#dcdce4"/><line x1="16" y1="606.5" x2="830" y2="606.5" stroke="#dcdce4"/><line x1="16" y1="629.5" x2="830" y2="629.5" stroke="#dcdce4"/><line x1="16" y1="641.5" x2="830" y2="641.5" stroke="#dcdce4"/>
<g clip-path="url(#c0)">
<path d="M57.2,72.4 L57.2,68.8 L57.8,68.4 L58.5,68.5 L59.2,68.9 L59.9,69.2 L60.5,68.9 L61.2,69.4 L61.9,69.6 L62.6,69.7 L63.2,70.1 L63.9,69.7 L64.6,68.7 L65.3,68.9 L65.9,68.5 L66.6,68.0 L67.3,68.4 L67.9,68.7 L68.6,69.5 L69.3,70.9 L70.0,71.3 L70.6,70.8 L71.3,69.8 L72.0,68.4 L72.7,71.3 L73.3,76.1 L74.0,80.2 L74.7,82.0 L75.3,82.7 L76.0,82.2 L76.7,81.4 L77.4,80.8 L78.0,81.2 L78.7,81.3 L79.4,83.2 L80.1,84.8 L80.7,85.1 L81.4,84.4 L82.1,84.3 L82.7,85.6 L83.4,85.8 L84.1,83.0 L84.8,81.0 L85.4,80.5 L86.1,79.6 L86.8,79.0 L87.5,80.1 L88.1,81.8 L88.8,83.5 L89.5,84.8 L90.1,86.2 L90.8,86.4 L91.5,87.0 L92.2,88.6 L92.8,89.2 L93.5,89.7 L94.2,90.3 L94.9,90.3 L95.5,87.2 L96.2,80.9 L96.9,76.6 L97.5,73.5 L98.2,71.1 L98.9,70.9 L99.6,70.1 L100.2,69.7 L100.9,67.5 L101.6,63.3 L102.3,57.5 L102.9,51.4 L103.6,47.8 L104.3,48.1 L104.9,49.5 L105.6,50.5 L106.3,52.7 L107.0,55.8 L107.6,56.4 L108.3,57.2 L109.0,60.4 L109.7,64.6 L110.3,67.8 L111.0,70.5 L111.7,73.1 L112.3,73.5 L113.0,74.6 L113.7,73.7 L114.4,74.0 L115.0,73.8 L115.7,73.2 L116.4,72.6 L117.1,72.7 L117.7,72.1 L118.4,71.0 L119.1,69.3 L119.7,67.2 L120.4,65.5 L121.1,63.6 L121.8,61.5 L122.4,60.3 L123.1,59.4 L123.8,59.2 L124.5,58.3 L125.1,59.4 L125.8,61.4 L126.5,63.5 L127.2,65.2 L127.8,65.9 L128.5,67.5 L129.2,68.5 L129.8,68.2 L130.5,71.2 L131.2,73.0 L131.9,73.1 L132.5,72.9 L133.2,73.5 L133.9,75.6 L134.6,77.4 L135.2,79.5 L135.9,82.1 L136.6,82.8 L137.2,84.4 L137.9,86.5 L138.6,88.1 L139.3,89.2 L139.9,89.9 L140.6,91.4 L141.3,90.9 L142.0,88.0 L142.6,85.4 L143.3,81.7 L144.0,77.1 L144.6,72.6 L145.3,68.0 L146.0,66.9 L146.7,66.7 L147.3,67.1 L148.0,67.4 L148.7,67.7 L149.4,70.7 L150.0,71.0 L150.7,71.8 L151.4,70.5 L152.0,70.3 L152.7,68.7 L153.4,66.8 L154.1,66.6 L154.7,66.8 L155.4,67.2 L156.1,68.0 L156.8,68.9 L157.4,69.3 L158.1,70.7 L158.8,73.9 L159.4,75.9 L160.1,77.7 L160.8,78.1 L161.5,78.2 L162.1,77.7 L162.8,76.8 L163.5,75.8 L164.2,75.1 L164.8,75.4 L165.5,75.7 L166.2,75.4 L166.8,75.5 L167.5,75.7 L168.2,75.9 L168.9,75.3 L169.5,74.9 L170.2,74.3 L170.9,74.7 L171.6,74.8 L172.2,75.2 L172.9,75.0 L173.6,74.5 L174.2,74.5 L174.9,73.2 L175.6,71.7 L176.3,70.5 L176.9,69.9 L177.6,68.1 L178.3,66.7 L179.0,65.7 L179.6,64.5 L180.3,63.4 L181.0,62.2 L181.7,62.2 L182.3,61.6 L183.0,61.0 L183.7,60.7 L184.3,62.0 L185.0,64.0 L185.7,65.4 L186.4,67.1 L187.0,68.8 L187.7,69.9 L188.4,71.1 L189.1,72.6 L189.7,73.1 L190.4,73.7 L191.1,73.1 L191.7,72.6 L192.4,72.5 L193.1,72.3 L193.8,71.7 L194.4,71.5 L195.1,71.0 L195.8,71.1 L196.5,70.8 L197.1,70.2 L197.8,69.8 L198.5,70.2 L199.1,70.2 L199.8,71.0 L200.5,71.4 L201.2,71.9 L201.8,71.1 L202.5,71.0 L203.2,70.7 L203.9,70.4 L204.5,70.2 L205.2,70.3 L205.9,70.1 L206.5,69.4 L207.2,69.7 L207.9,71.0 L208.6,72.8 L209.2,75.1 L209.9,77.7 L210.6,79.4 L211.3,79.5 L211.9,79.6 L212.6,79.3 L213.3,78.2 L213.9,77.3 L214.6,76.7 L215.3,75.9 L216.0,75.4 L216.6,75.5 L217.3,75.7 L218.0,75.4 L218.7,74.5 L219.3,74.1 L220.0,74.0 L220.7,73.9 L221.3,74.0 L222.0,73.5 L222.7,73.4 L223.4,72.8 L224.0,73.2 L224.7,72.9 L225.4,73.1 L226.1,73.8 L226.7,73.7 L227.4,73.8 L228.1,74.7 L228.7,75.1 L229.4,74.9 L230.1,75.0 L230.8,74.7 L231.4,74.5 L232.1,74.4 L232.8,73.9 L233.5,72.7 L234.1,71.6 L234.8,70.5 L235.5,70.3 L236.1,69.1 L236.8,68.0 L237.5,67.9 L238.2,68.1 L238.8,67.7 L239.5,68.6 L240.2,68.9 L240.9,67.9 L241.5,68.0 L242.2,67.5 L242.9,66.5 L243.6,66.3 L244.2,66.0 L244.9,66.1 L245.6,67.1 L246.2,67.9 L246.9,68.6 L247.6,69.0 L248.3,69.7 L248.9,70.5 L249.6,71.5 L250.3,72.1 L251.0,72.1 L251.6,72.3 L252.3,72.8 L253.0,73.3 L253.6,72.5 L254.3,72.3 L255.0,72.4 L255.7,73.7 L256.3,73.8 L257.0,73.7 L257.7,73.2 L258.4,73.2 L259.0,73.4 L259.7,73.5 L260.4,74.3 L261.0,74.3 L261.7,74.7 L262.4,75.5 L263.1,75.6 L263.7,75.6 L264.4,76.7 L265.1,77.5 L265.8,77.8 L266.4,77.6 L267.1,77.0 L267.8,76.2 L268.4,74.1 L269.1,72.4 L269.8,71.7 L270.5,71.3 L271.1,69.7 L271.8,68.4 L272.5,67.2 L273.2,66.6 L273.8,66.9 L274.5,66.9 L275.2,67.7 L275.8,67.9 L276.5,67.6 L277.2,67.4 L277.9,67.7 L278.5,68.0 L279.2,68.2 L279.9,68.4 L280.6,68.6 L281.2,69.0 L281.9,69.7 L282.6,69.9 L283.2,70.3 L283.9,71.0 L284.6,71.6 L285.3,71.7 L285.9,71.9 L286.6,71.9 L287.3,72.1 L288.0,72.5 L288.6,73.2 L289.3,74.2 L290.0,74.6 L290.6,74.7 L291.3,75.0 L292.0,75.5 L292.7,75.8 L293.3,76.5 L294.0,77.3 L294.7,77.3 L295.4,77.4 L296.0,76.9 L296.7,76.9 L297.4,78.2 L298.1,79.3 L298.7,79.6 L299.4,80.2 L300.1,80.4 L300.7,79.9 L301.4,78.5 L302.1,76.8 L302.8,75.3 L303.4,73.4 L304.1,71.9 L304.8,71.0 L305.5,70.0 L306.1,68.8 L306.8,68.0 L307.5,67.4 L308.1,67.8 L308.8,67.8 L309.5,67.7 L310.2,68.1 L310.8,68.2 L311.5,68.5 L312.2,68.8 L312.9,69.5 L313.5,69.3 L314.2,69.6 L314.9,70.6 L315.5,71.7 L316.2,72.0 L316.9,73.2 L317.6,74.0 L318.2,74.6 L318.9,75.5 L319.6,76.5 L320.3,77.0 L320.9,77.1 L321.6,76.9 L322.3,76.8 L322.9,77.0 L323.6,76.7 L324.3,76.0 L325.0,75.3 L325.6,74.4 L326.3,73.6 L327.0,72.4 L327.7,71.9 L328.3,71.3 L329.0,70.4 L329.7,70.1 L330.3,69.6 L331.0,69.5 L331.7,69.1 L332.4,68.4 L333.0,68.7 L333.7,70.1 L334.4,71.8 L335.1,74.0 L335.7,75.0 L336.4,76.4 L337.1,77.5 L337.7,78.2 L338.4,78.0 L339.1,77.7 L339.8,76.2 L340.4,74.5 L341.1,73.7 L341.8,72.6 L342.5,71.4 L343.1,71.1 L343.8,71.0 L344.5,70.6 L345.1,70.1 L345.8,69.8 L346.5,69.2 L347.2,68.6 L347.8,68.1 L348.5,67.7 L349.2,67.3 L349.9,67.3 L350.5,68.4 L351.2,69.2 L351.9,70.0 L352.6,70.7 L353.2,70.8 L353.9,70.9 L354.6,70.8 L355.2,71.4 L355.9,71.9 L356.6,71.8 L357.3,71.8 L357.9,71.9 L358.6,72.0 L359.3,72.4 L360.0,72.3 L360.6,72.3 L361.3,72.6 L362.0,73.0 L362.6,73.3 L363.3,74.3 L364.0,74.5 L364.7,74.2 L365.3,74.4 L366.0,74.4 L366.7,74.7 L367.4,75.7 L368.0,76.4 L368.7,77.0 L369.4,77.3 L370.0,77.5 L370.7,78.0 L371.4,78.7 L372.1,78.8 L372.7,78.2 L373.4,77.0 L374.1,75.7 L374.8,74.8 L375.4,74.1 L376.1,73.0 L376.8,71.9 L377.4,71.1 L378.1,70.1 L378.8,69.2 L379.5,68.4 L380.1,67.5 L380.8,67.4 L381.5,67.1 L382.2,68.3 L382.8,69.4 L383.5,70.5 L384.2,70.7 L384.8,71.7 L385.5,71.9 L386.2,71.3 L386.9,70.5 L387.5,69.1 L388.2,68.7 L388.9,68.3 L389.6,68.8 L390.2,69.7 L390.9,71.0 L391.6,72.5 L392.2,73.7 L392.9,75.2 L393.6,75.8 L394.3,76.9 L394.9,77.6 L395.6,77.5 L396.3,78.0 L397.0,78.5 L397.6,78.6 L398.3,78.9 L399.0,79.3 L399.6,79.4 L400.3,79.2 L401.0,78.8 L401.7,78.2 L402.3,76.4 L403.0,74.3 L403.7,72.9 L404.4,71.5 L405.0,70.3 L405.7,68.6 L406.4,67.8 L407.0,66.7 L407.7,66.1 L408.4,66.0 L409.1,66.1 L409.7,66.4 L410.4,67.5 L411.1,69.1 L411.8,70.1 L412.4,71.2 L413.1,72.1 L413.8,72.0 L414.5,71.8 L415.1,71.9 L415.8,71.0 L416.5,70.8 L417.1,70.4 L417.8,70.5 L418.5,70.4 L419.2,70.7 L419.8,69.7 L420.5,68.9 L421.2,69.3 L421.9,70.5 L422.5,72.1 L423.2,72.6 L423.9,73.8 L424.5,75.0 L425.2,76.2 L425.9,77.2 L426.6,78.4 L427.2,79.0 L427.9,80.0 L428.6,80.3 L429.3,80.3 L429.9,80.2 L430.6,80.4 L431.3,80.7 L431.9,80.6 L432.6,80.7 L433.3,80.0 L434.0,79.6 L434.6,79.6 L435.3,79.7 L436.0,79.3 L436.7,78.2 L437.3,76.4 L438.0,74.0 L438.7,71.4 L439.3,69.0 L440.0,66.2 L440.7,64.8 L441.4,63.5 L442.0,61.3 L442.7,62.0 L443.4,63.0 L444.1,63.9 L444.7,65.0 L445.4,65.9 L446.1,66.7 L446.7,67.0 L447.4,67.2 L448.1,67.0 L448.8,67.7 L449.4,68.0 L450.1,67.9 L450.8,68.0 L451.5,68.1 L452.1,67.9 L452.8,68.6 L453.5,69.1 L454.1,69.8 L454.8,70.7 L455.5,71.7 L456.2,72.7 L456.8,74.1 L457.5,74.9 L458.2,75.2 L458.9,75.8 L459.5,76.1 L460.2,76.1 L460.9,76.5 L461.5,76.5 L462.2,76.0 L462.9,76.2 L463.6,76.4 L464.2,76.2 L464.9,75.2 L465.6,74.3 L466.3,73.2 L466.9,72.6 L467.6,71.9 L468.3,71.1 L469.0,71.2 L469.6,71.0 L470.3,71.3 L471.0,72.3 L471.6,72.3 L472.3,72.3 L473.0,72.1 L473.7,71.9 L474.3,72.3 L475.0,72.2 L475.7,71.5 L476.4,71.5 L477.0,71.8 L477.7,72.2 L478.4,72.5 L479.0,72.3 L479.7,71.5 L480.4,71.0 L481.1,70.3 L481.7,68.8 L482.4,68.2 L483.1,67.8 L483.8,66.9 L484.4,65.9 L485.1,65.7 L485.8,65.9 L486.4,66.2 L487.1,67.0 L487.8,68.6 L488.5,69.9 L489.1,71.2 L489.8,72.1 L490.5,73.1 L491.2,74.1 L491.8,75.1 L492.5,75.6 L493.2,75.9 L493.8,76.7 L494.5,77.1 L495.2,77.9 L495.9,78.3 L496.5,78.3 L497.2,78.0 L497.9,78.3 L498.6,78.5 L499.2,78.5 L499.9,78.3 L500.6,76.9 L501.2,75.3 L501.9,73.2 L502.6,71.5 L503.3,70.2 L503.9,68.3 L504.6,66.3 L505.3,65.0 L506.0,63.5 L506.6,62.7 L507.3,63.3 L508.0,64.2 L508.6,66.1 L509.3,67.8 L510.0,69.2 L510.7,70.1 L511.3,71.4 L512.0,72.5 L512.7,73.7 L513.4,74.5 L514.0,74.7 L514.7,75.6 L515.4,74.8 L516.0,74.7 L516.7,74.1 L517.4,73.3 L518.1,72.1 L518.7,71.7 L519.4,71.9 L520.1,71.2 L520.8,70.5 L521.4,70.0 L522.1,69.1 L522.8,69.3 L523.4,69.8 L524.1,70.0 L524.8,70.4 L525.5,70.3 L526.1,71.2 L526.8,71.8 L527.5,73.0 L528.2,72.4 L528.8,71.9 L529.5,71.0 L530.2,69.8 L530.9,69.7 L531.5,69.9 L532.2,70.1 L532.9,70.4 L533.5,70.6 L534.2,70.2 L534.9,70.0 L535.6,70.0 L536.2,70.0 L536.9,69.8 L537.6,69.7 L538.3,70.0 L538.9,69.8 L539.6,70.2 L540.3,72.7 L540.9,74.9 L541.6,78.0 L542.3,81.5 L543.0,82.0 L543.6,81.8 L544.3,81.7 L545.0,80.2 L545.7,78.9 L546.3,77.5 L547.0,76.3 L547.7,75.4 L548.3,75.0 L549.0,73.7 L549.7,72.8 L550.4,72.2 L551.0,71.4 L551.7,70.9 L552.4,70.2 L553.1,70.1 L553.7,69.9 L554.4,70.5 L555.1,70.4 L555.7,69.9 L556.4,69.4 L557.1,69.8 L557.8,70.4 L558.4,70.7 L559.1,72.5 L559.8,73.3 L560.5,73.4 L561.1,73.7 L561.8,73.6 L562.5,73.9 L563.1,73.8 L563.8,74.6 L564.5,75.7 L565.2,76.6 L565.8,76.8 L566.5,76.9 L567.2,76.3 L567.9,74.9 L568.5,73.7 L569.2,72.1 L569.9,70.9 L570.5,70.3 L571.2,69.8 L571.9,70.1 L572.6,69.8 L573.2,70.2 L573.9,70.4 L574.6,70.5 L575.3,70.6 L575.9,70.5 L576.6,70.7 L577.3,71.2 L577.9,71.4 L578.6,71.2 L579.3,71.7 L580.0,72.1 L580.6,72.2 L581.3,72.5 L582.0,73.4 L582.7,72.9 L583.3,72.4 L584.0,73.4 L584.7,73.7 L585.4,73.6 L586.0,73.3 L586.7,73.0 L587.4,73.2 L588.0,73.6 L588.7,73.5 L589.4,73.0 L590.1,73.2 L590.7,73.4 L591.4,73.3 L592.1,74.1 L592.8,74.5 L593.4,75.1 L594.1,75.2 L594.8,75.4 L595.4,75.5 L596.1,75.3 L596.8,74.8 L597.5,74.5 L598.1,73.9 L598.8,73.2 L599.5,72.4 L600.2,71.3 L600.8,71.1 L601.5,70.7 L602.2,71.0 L602.8,69.6 L603.5,69.1 L604.2,68.6 L604.9,67.9 L605.5,68.0 L606.2,67.6 L606.9,67.3 L607.6,67.8 L608.2,67.7 L608.9,67.3 L609.6,68.2 L610.2,68.2 L610.9,68.4 L611.6,68.6 L612.3,68.9 L612.9,68.9 L613.6,69.5 L614.3,69.7 L615.0,70.4 L615.6,70.6 L616.3,71.1 L617.0,71.2 L617.6,70.5 L618.3,70.3 L619.0,70.4 L619.7,70.9 L620.3,71.1 L621.0,71.1 L621.7,71.1 L622.4,71.5 L623.0,71.9 L623.7,72.7 L624.4,72.7 L625.0,73.0 L625.7,73.4 L626.4,73.0 L627.1,72.9 L627.7,72.9 L628.4,74.7 L629.1,76.7 L629.8,76.8 L630.4,75.9 L631.1,75.0 L631.8,73.1 L632.4,71.8 L633.1,71.5 L633.8,70.9 L634.5,70.8 L635.1,70.9 L635.8,70.7 L636.5,70.4 L637.2,71.0 L637.8,71.2 L638.5,71.8 L639.2,71.3 L639.8,72.0 L640.5,72.2 L641.2,73.2 L641.9,73.6 L642.5,73.3 L643.2,74.9 L643.9,75.6 L644.6,75.7 L645.2,76.3 L645.9,77.5 L646.6,77.8 L647.3,78.9 L647.9,80.7 L648.6,81.4 L649.3,82.7 L649.9,82.8 L650.6,83.0 L651.3,82.8 L652.0,82.0 L652.6,81.6 L653.3,81.7 L654.0,81.3 L654.7,79.2 L655.3,76.7 L656.0,75.5 L656.7,74.0 L657.3,72.9 L658.0,72.6 L658.7,74.1 L659.4,75.3 L660.0,76.2 L660.7,77.2 L661.4,78.1 L662.1,79.4 L662.7,79.0 L663.4,77.6 L664.1,75.9 L664.7,75.4 L665.4,75.0 L666.1,74.2 L666.8,72.6 L667.4,71.3 L668.1,69.4 L668.8,68.2 L669.5,66.8 L670.1,65.7 L670.8,64.5 L671.5,63.9 L672.1,64.1 L672.8,63.6 L673.5,63.7 L674.2,64.3 L674.8,64.9 L675.5,65.2 L676.2,66.2 L676.9,67.0 L677.5,67.4 L678.2,67.8 L678.9,68.5 L679.5,69.8 L680.2,69.9 L680.9,70.1 L681.6,70.6 L682.2,71.1 L682.9,71.4 L683.6,71.9 L684.3,72.5 L684.9,73.0 L685.6,73.2 L686.3,73.3 L686.9,73.6 L687.6,73.2 L688.3,73.3 L689.0,72.7 L689.6,72.6 L690.3,72.1 L691.0,71.3 L691.7,71.1 L692.3,71.3 L693.0,71.2 L693.7,71.1 L694.3,71.6 L695.0,71.8 L695.7,71.5 L696.4,71.4 L697.0,71.3 L697.7,71.0 L698.4,70.8 L699.1,70.6 L699.7,70.7 L700.4,71.2 L701.1,71.5 L701.8,71.9 L702.4,72.2 L703.1,72.6 L703.8,73.9 L704.4,75.1 L705.1,76.1 L705.8,77.4 L706.5,78.1 L707.1,78.1 L707.8,78.1 L708.5,77.1 L709.2,79.1 L709.8,80.5 L710.5,82.5 L711.2,83.3 L711.8,83.4 L712.5,85.3 L713.2,86.5 L713.9,86.8 L714.5,86.0 L715.2,83.9 L715.9,82.3 L716.6,79.0 L717.2,75.4 L717.9,72.2 L718.6,69.4 L719.2,66.3 L719.9,64.1 L720.6,62.5 L721.3,61.9 L721.9,62.3 L722.6,62.1 L723.3,62.5 L724.0,63.8 L724.6,66.4 L725.3,67.5 L726.0,67.4 L726.6,67.0 L727.3,66.0 L728.0,64.7 L728.7,64.9 L729.3,65.8 L730.0,65.8 L730.7,65.4 L731.4,65.8 L732.0,67.2 L732.7,69.5 L733.4,72.0 L734.0,73.8 L734.7,75.1 L735.4,75.7 L736.1,75.2 L736.7,73.5 L737.4,72.1 L738.1,72.0 L738.8,72.1 L739.4,71.9 L740.1,71.9 L740.8,71.2 L741.4,71.1 L742.1,71.4 L742.8,70.9 L743.5,71.0 L744.1,70.9 L744.8,70.7 L745.5,70.5 L746.2,70.1 L746.8,70.0 L747.5,70.3 L748.2,70.7 L748.8,70.5 L749.5,70.1 L750.2,69.4 L750.9,68.8 L751.5,68.2 L752.2,68.1 L752.9,68.6 L753.6,69.3 L754.2,70.4 L754.9,70.8 L755.6,70.8 L756.3,70.8 L756.9,71.2 L757.6,71.7 L758.3,71.7 L758.9,72.0 L759.6,72.2 L760.3,72.4 L761.0,72.8 L761.6,72.8 L762.3,73.5 L763.0,74.1 L763.7,74.7 L764.3,75.2 L765.0,75.2 L765.7,75.4 L766.3,76.4 L767.0,77.0 L767.7,77.1 L768.4,77.1 L769.0,76.8 L769.7,77.3 L770.4,77.2 L771.1,76.4 L771.7,75.2 L772.4,74.4 L773.1,74.0 L773.7,73.5 L774.4,73.0 L775.1,72.6 L775.8,71.4 L776.4,71.0 L777.1,70.6 L777.8,69.5 L778.5,69.0 L779.1,69.0 L779.8,69.5 L780.5,69.7 L781.1,69.3 L781.8,69.3 L782.5,69.2 L783.2,69.6 L783.8,69.9 L784.5,70.3 L785.2,69.9 L785.9,69.5 L786.5,70.5 L787.2,71.0 L787.9,71.4 L788.5,72.1 L789.2,72.6 L789.9,72.7 L790.6,72.3 L791.2,73.2 L791.9,75.0 L792.6,77.3 L793.3,77.6 L793.9,77.6 L794.6,77.3 L795.3,77.0 L795.9,76.1 L796.6,75.4 L797.3,74.2 L798.0,73.0 L798.6,72.0 L799.3,71.0 L800.0,70.7 L800.7,70.0 L801.3,71.5 L802.0,74.3 L802.7,76.8 L803.3,78.4 L804.0,78.5 L804.7,77.4 L805.4,75.3 L806.0,73.5 L806.7,71.3 L807.4,68.4 L808.1,66.2 L808.7,64.7 L809.4,64.1 L810.1,64.1 L810.7,64.4 L811.4,64.6 L812.1,65.2 L812.8,66.8 L813.4,67.4 L814.1,68.1 L814.8,68.2 L815.5,68.7 L816.1,69.0 L816.8,68.8 L817.5,70.8 L818.2,73.1 L818.8,75.5 L819.5,77.8 L820.2,79.6 L820.8,80.4 L821.5,80.3 L822.2,80.2 L822.9,81.0 L823.5,80.6 L824.2,78.8 L824.2,72.4 Z" fill="#346a5a" stroke="none"/>
<line x1="57" y1="72.4" x2="826" y2="72.4" stroke="#346a5a" stroke-width="1.6"/>
<path d="M57.2,55.9 L57.8,54.9 L58.5,53.9 L59.2,53.0 L59.9,52.2 L60.5,51.3 L61.2,50.6 L61.9,49.9 L62.6,49.2 L63.2,48.6 L63.9,48.0 L64.6,47.0 L65.3,46.2 L65.9,45.2 L66.6,44.1 L67.3,43.1 L67.9,42.1 L68.6,41.4 L69.3,41.1 L70.0,40.8 L70.6,40.4 L71.3,39.7 L72.0,38.7 L72.7,38.4 L73.3,39.4 L74.0,41.3 L74.7,43.7 L75.3,46.3 L76.0,48.7 L76.7,51.0 L77.4,53.1 L78.0,55.3 L78.7,57.5 L79.4,60.2 L80.1,63.3 L80.7,66.5 L81.4,69.5 L82.1,72.5 L82.7,75.8 L83.4,79.1 L84.1,81.7 L84.8,83.9 L85.4,85.9 L86.1,87.7 L86.8,89.4 L87.5,91.3 L88.1,93.7 L88.8,96.4 L89.5,99.5 L90.1,103.0 L90.8,106.5 L91.5,110.1 L92.2,114.2 L92.8,118.4 L93.5,122.7 L94.2,127.2 L94.9,131.6 L95.5,135.3 L96.2,137.5 L96.9,138.5 L97.5,138.8 L98.2,138.5 L98.9,138.1 L99.6,137.5 L100.2,136.9 L100.9,135.7 L101.6,133.4 L102.3,129.7 L102.9,124.4 L103.6,118.3 L104.3,112.2 L104.9,106.5 L105.6,101.0 L106.3,96.0 L107.0,91.9 L107.6,87.9 L108.3,84.1 L109.0,81.1 L109.7,79.1 L110.3,78.0 L111.0,77.5 L111.7,77.7 L112.3,78.0 L113.0,78.5 L113.7,78.8 L114.4,79.2 L115.0,79.6 L115.7,79.8 L116.4,79.8 L117.1,79.9 L117.7,79.8 L118.4,79.5 L119.1,78.7 L119.7,77.4 L120.4,75.7 L121.1,73.4 L121.8,70.7 L122.4,67.7 L123.1,64.5 L123.8,61.2 L124.5,57.6 L125.1,54.4 L125.8,51.6 L126.5,49.4 L127.2,47.6 L127.8,46.0 L128.5,44.8 L129.2,43.8 L129.8,42.7 L130.5,42.4 L131.2,42.6 L131.9,42.8 L132.5,42.9 L133.2,43.2 L133.9,44.0 L134.6,45.3 L135.2,47.0 L135.9,49.5 L136.6,52.1 L137.2,55.1 L137.9,58.6 L138.6,62.5 L139.3,66.7 L139.9,71.1 L140.6,75.8 L141.3,80.5 L142.0,84.4 L142.6,87.6 L143.3,89.9 L144.0,91.1 L144.6,91.2 L145.3,90.1 L146.0,88.7 L146.7,87.2 L147.3,85.9 L148.0,84.7 L148.7,83.5 L149.4,83.1 L150.0,82.7 L150.7,82.6 L151.4,82.1 L152.0,81.6 L152.7,80.6 L153.4,79.2 L154.1,77.8 L154.7,76.4 L155.4,75.1 L156.1,74.0 L156.8,73.1 L157.4,72.3 L158.1,71.9 L158.8,72.3 L159.4,73.2 L160.1,74.5 L160.8,75.9 L161.5,77.3 L162.1,78.7 L162.8,79.8 L163.5,80.6 L164.2,81.3 L164.8,82.0 L165.5,82.9 L166.2,83.6 L166.8,84.4 L167.5,85.2 L168.2,86.1 L168.9,86.8 L169.5,87.5 L170.2,87.9 L170.9,88.5 L171.6,89.1 L172.2,89.8 L172.9,90.5 L173.6,91.0 L174.2,91.5 L174.9,91.7 L175.6,91.6 L176.3,91.1 L176.9,90.5 L177.6,89.4 L178.3,88.0 L179.0,86.3 L179.6,84.3 L180.3,82.1 L181.0,79.5 L181.7,77.0 L182.3,74.3 L183.0,71.5 L183.7,68.5 L184.3,65.9 L185.0,63.8 L185.7,62.1 L186.4,60.8 L187.0,59.9 L187.7,59.2 L188.4,58.9 L189.1,59.0 L189.7,59.1 L190.4,59.5 L191.1,59.6 L191.7,59.7 L192.4,59.7 L193.1,59.7 L193.8,59.5 L194.4,59.3 L195.1,59.0 L195.8,58.7 L196.5,58.2 L197.1,57.7 L197.8,57.0 L198.5,56.5 L199.1,55.9 L199.8,55.6 L200.5,55.3 L201.2,55.2 L201.8,54.9 L202.5,54.5 L203.2,54.1 L203.9,53.6 L204.5,53.1 L205.2,52.5 L205.9,51.9 L206.5,51.2 L207.2,50.5 L207.9,50.2 L208.6,50.3 L209.2,50.9 L209.9,52.3 L210.6,54.0 L211.3,55.8 L211.9,57.6 L212.6,59.3 L213.3,60.8 L213.9,62.0 L214.6,63.0 L215.3,63.9 L216.0,64.7 L216.6,65.5 L217.3,66.3 L218.0,67.0 L218.7,67.5 L219.3,68.0 L220.0,68.4 L220.7,68.7 L221.3,69.1 L222.0,69.4 L222.7,69.7 L223.4,69.8 L224.0,70.0 L224.7,70.1 L225.4,70.3 L226.1,70.6 L226.7,70.9 L227.4,71.3 L228.1,71.9 L228.7,72.5 L229.4,73.2 L230.1,73.8 L230.8,74.4 L231.4,74.9 L232.1,75.4 L232.8,75.8 L233.5,75.9 L234.1,75.7 L234.8,75.2 L235.5,74.7 L236.1,73.8 L236.8,72.7 L237.5,71.6 L238.2,70.5 L238.8,69.4 L239.5,68.4 L240.2,67.5 L240.9,66.4 L241.5,65.3 L242.2,64.1 L242.9,62.6 L243.6,61.1 L244.2,59.5 L244.9,58.0 L245.6,56.6 L246.2,55.5 L246.9,54.5 L247.6,53.7 L248.3,53.0 L248.9,52.6 L249.6,52.3 L250.3,52.2 L251.0,52.2 L251.6,52.1 L252.3,52.2 L253.0,52.5 L253.6,52.5 L254.3,52.5 L255.0,52.5 L255.7,52.8 L256.3,53.2 L257.0,53.5 L257.7,53.7 L258.4,53.9 L259.0,54.1 L259.7,54.4 L260.4,54.9 L261.0,55.3 L261.7,55.9 L262.4,56.7 L263.1,57.5 L263.7,58.3 L264.4,59.4 L265.1,60.7 L265.8,62.0 L266.4,63.3 L267.1,64.4 L267.8,65.4 L268.4,65.8 L269.1,65.8 L269.8,65.7 L270.5,65.4 L271.1,64.7 L271.8,63.7 L272.5,62.4 L273.2,60.9 L273.8,59.6 L274.5,58.2 L275.2,57.0 L275.8,55.9 L276.5,54.7 L277.2,53.5 L277.9,52.3 L278.5,51.2 L279.2,50.1 L279.9,49.1 L280.6,48.2 L281.2,47.3 L281.9,46.7 L282.6,46.0 L283.2,45.5 L283.9,45.2 L284.6,45.0 L285.3,44.8 L285.9,44.7 L286.6,44.6 L287.3,44.5 L288.0,44.5 L288.6,44.7 L289.3,45.1 L290.0,45.7 L290.6,46.3 L291.3,46.9 L292.0,47.7 L292.7,48.6 L293.3,49.6 L294.0,50.8 L294.7,52.0 L295.4,53.3 L296.0,54.4 L296.7,55.5 L297.4,57.0 L298.1,58.7 L298.7,60.5 L299.4,62.4 L300.1,64.4 L300.7,66.3 L301.4,67.8 L302.1,68.9 L302.8,69.6 L303.4,69.9 L304.1,69.8 L304.8,69.4 L305.5,68.8 L306.1,67.9 L306.8,66.8 L307.5,65.6 L308.1,64.4 L308.8,63.3 L309.5,62.1 L310.2,61.0 L310.8,60.0 L311.5,59.0 L312.2,58.1 L312.9,57.4 L313.5,56.7 L314.2,55.9 L314.9,55.5 L315.5,55.3 L316.2,55.2 L316.9,55.4 L317.6,55.8 L318.2,56.4 L318.9,57.2 L319.6,58.2 L320.3,59.3 L320.9,60.5 L321.6,61.6 L322.3,62.8 L322.9,63.9 L323.6,65.0 L324.3,65.9 L325.0,66.6 L325.6,67.1 L326.3,67.4 L327.0,67.4 L327.7,67.3 L328.3,67.0 L329.0,66.5 L329.7,66.0 L330.3,65.2 L331.0,64.5 L331.7,63.7 L332.4,62.7 L333.0,61.8 L333.7,61.2 L334.4,61.0 L335.1,61.4 L335.7,62.1 L336.4,63.1 L337.1,64.3 L337.7,65.8 L338.4,67.2 L339.1,68.5 L339.8,69.5 L340.4,70.0 L341.1,70.3 L341.8,70.4 L342.5,70.1 L343.1,69.8 L343.8,69.4 L344.5,69.0 L345.1,68.4 L345.8,67.8 L346.5,67.0 L347.2,66.0 L347.8,65.0 L348.5,63.8 L349.2,62.5 L349.9,61.2 L350.5,60.2 L351.2,59.4 L351.9,58.8 L352.6,58.4 L353.2,58.0 L353.9,57.6 L354.6,57.2 L355.2,57.0 L355.9,56.8 L356.6,56.7 L357.3,56.5 L357.9,56.4 L358.6,56.3 L359.3,56.3 L360.0,56.3 L360.6,56.2 L361.3,56.3 L362.0,56.4 L362.6,56.7 L363.3,57.1 L364.0,57.7 L364.7,58.1 L365.3,58.6 L366.0,59.1 L366.7,59.7 L367.4,60.5 L368.0,61.5 L368.7,62.7 L369.4,63.9 L370.0,65.2 L370.7,66.6 L371.4,68.1 L372.1,69.7 L372.7,71.2 L373.4,72.3 L374.1,73.2 L374.8,73.8 L375.4,74.2 L376.1,74.3 L376.8,74.2 L377.4,73.9 L378.1,73.3 L378.8,72.5 L379.5,71.5 L380.1,70.3 L380.8,69.0 L381.5,67.7 L382.2,66.7 L382.8,65.9 L383.5,65.5 L384.2,65.1 L384.8,64.9 L385.5,64.7 L386.2,64.5 L386.9,64.0 L387.5,63.2 L388.2,62.2 L388.9,61.2 L389.6,60.3 L390.2,59.6 L390.9,59.3 L391.6,59.3 L392.2,59.6 L392.9,60.3 L393.6,61.2 L394.3,62.3 L394.9,63.6 L395.6,64.9 L396.3,66.3 L397.0,67.8 L397.6,69.4 L398.3,71.0 L399.0,72.7 L399.6,74.5 L400.3,76.2 L401.0,77.8 L401.7,79.2 L402.3,80.2 L403.0,80.7 L403.7,80.8 L404.4,80.6 L405.0,80.1 L405.7,79.2 L406.4,78.0 L407.0,76.6 L407.7,75.0 L408.4,73.4 L409.1,71.8 L409.7,70.3 L410.4,69.1 L411.1,68.3 L411.8,67.7 L412.4,67.4 L413.1,67.3 L413.8,67.2 L414.5,67.1 L415.1,67.0 L415.8,66.6 L416.5,66.2 L417.1,65.7 L417.8,65.3 L418.5,64.7 L419.2,64.3 L419.8,63.7 L420.5,62.8 L421.2,62.0 L421.9,61.5 L422.5,61.5 L423.2,61.5 L423.9,61.9 L424.5,62.5 L425.2,63.5 L425.9,64.6 L426.6,66.1 L427.2,67.8 L427.9,69.7 L428.6,71.7 L429.3,73.6 L429.9,75.6 L430.6,77.6 L431.3,79.7 L431.9,81.7 L432.6,83.8 L433.3,85.7 L434.0,87.5 L434.6,89.3 L435.3,91.1 L436.0,92.8 L436.7,94.3 L437.3,95.3 L438.0,95.6 L438.7,95.4 L439.3,94.5 L440.0,93.0 L440.7,91.1 L441.4,88.9 L442.0,86.1 L442.7,83.5 L443.4,81.2 L444.1,79.0 L444.7,77.2 L445.4,75.6 L446.1,74.1 L446.7,72.8 L447.4,71.5 L448.1,70.1 L448.8,69.0 L449.4,67.9 L450.1,66.7 L450.8,65.6 L451.5,64.6 L452.1,63.4 L452.8,62.5 L453.5,61.7 L454.1,61.0 L454.8,60.6 L455.5,60.4 L456.2,60.5 L456.8,60.9 L457.5,61.5 L458.2,62.2 L458.9,63.1 L459.5,64.0 L460.2,64.9 L460.9,66.0 L461.5,67.0 L462.2,67.9 L462.9,68.8 L463.6,69.8 L464.2,70.8 L464.9,71.5 L465.6,71.9 L466.3,72.1 L466.9,72.2 L467.6,72.1 L468.3,71.7 L469.0,71.4 L469.6,71.1 L470.3,70.8 L471.0,70.8 L471.6,70.7 L472.3,70.7 L473.0,70.6 L473.7,70.5 L474.3,70.5 L475.0,70.4 L475.7,70.2 L476.4,70.0 L477.0,69.8 L477.7,69.8 L478.4,69.8 L479.0,69.8 L479.7,69.6 L480.4,69.2 L481.1,68.7 L481.7,67.8 L482.4,66.8 L483.1,65.6 L483.8,64.2 L484.4,62.6 L485.1,60.9 L485.8,59.3 L486.4,57.7 L487.1,56.4 L487.8,55.4 L488.5,54.8 L489.1,54.5 L489.8,54.4 L490.5,54.6 L491.2,55.0 L491.8,55.7 L492.5,56.5 L493.2,57.4 L493.8,58.5 L494.5,59.7 L495.2,61.0 L495.9,62.5 L496.5,64.0 L497.2,65.4 L497.9,66.9 L498.6,68.4 L499.2,70.0 L499.9,71.4 L500.6,72.6 L501.2,73.3 L501.9,73.5 L502.6,73.3 L503.3,72.7 L503.9,71.7 L504.6,70.2 L505.3,68.3 L506.0,66.1 L506.6,63.7 L507.3,61.4 L508.0,59.4 L508.6,57.8 L509.3,56.6 L510.0,55.8 L510.7,55.3 L511.3,55.0 L512.0,55.0 L512.7,55.4 L513.4,55.9 L514.0,56.5 L514.7,57.3 L515.4,57.9 L516.0,58.4 L516.7,58.9 L517.4,59.1 L518.1,59.0 L518.7,58.8 L519.4,58.7 L520.1,58.4 L520.8,57.9 L521.4,57.3 L522.1,56.5 L522.8,55.7 L523.4,55.0 L524.1,54.4 L524.8,53.9 L525.5,53.4 L526.1,53.1 L526.8,52.9 L527.5,53.1 L528.2,53.1 L528.8,52.9 L529.5,52.6 L530.2,52.0 L530.9,51.3 L531.5,50.7 L532.2,50.1 L532.9,49.6 L533.5,49.1 L534.2,48.6 L534.9,48.0 L535.6,47.4 L536.2,46.8 L536.9,46.1 L537.6,45.4 L538.3,44.8 L538.9,44.2 L539.6,43.6 L540.3,43.7 L540.9,44.3 L541.6,45.7 L542.3,48.0 L543.0,50.4 L543.6,52.7 L544.3,55.1 L545.0,57.0 L545.7,58.6 L546.3,59.9 L547.0,60.9 L547.7,61.6 L548.3,62.3 L549.0,62.6 L549.7,62.7 L550.4,62.7 L551.0,62.4 L551.7,62.0 L552.4,61.5 L553.1,60.9 L553.7,60.3 L554.4,59.8 L555.1,59.3 L555.7,58.7 L556.4,57.9 L557.1,57.3 L557.8,56.8 L558.4,56.4 L559.1,56.4 L559.8,56.6 L560.5,56.9 L561.1,57.2 L561.8,57.5 L562.5,57.9 L563.1,58.2 L563.8,58.8 L564.5,59.6 L565.2,60.6 L565.8,61.7 L566.5,62.9 L567.2,63.8 L567.9,64.5 L568.5,64.8 L569.2,64.7 L569.9,64.3 L570.5,63.8 L571.2,63.2 L571.9,62.6 L572.6,61.9 L573.2,61.4 L573.9,60.9 L574.6,60.4 L575.3,60.0 L575.9,59.5 L576.6,59.1 L577.3,58.8 L577.9,58.5 L578.6,58.2 L579.3,58.0 L580.0,57.9 L580.6,57.9 L581.3,57.9 L582.0,58.2 L582.7,58.3 L583.3,58.3 L584.0,58.5 L584.7,58.8 L585.4,59.1 L586.0,59.4 L586.7,59.5 L587.4,59.7 L588.0,60.0 L588.7,60.3 L589.4,60.4 L590.1,60.6 L590.7,60.9 L591.4,61.1 L592.1,61.5 L592.8,62.0 L593.4,62.7 L594.1,63.4 L594.8,64.2 L595.4,65.0 L596.1,65.7 L596.8,66.3 L597.5,66.8 L598.1,67.2 L598.8,67.4 L599.5,67.4 L600.2,67.1 L600.8,66.7 L601.5,66.3 L602.2,66.0 L602.8,65.3 L603.5,64.5 L604.2,63.5 L604.9,62.4 L605.5,61.3 L606.2,60.1 L606.9,58.8 L607.6,57.7 L608.2,56.5 L608.9,55.2 L609.6,54.2 L610.2,53.2 L610.9,52.2 L611.6,51.2 L612.3,50.3 L612.9,49.4 L613.6,48.7 L614.3,48.0 L615.0,47.5 L615.6,47.1 L616.3,46.8 L617.0,46.5 L617.6,46.0 L618.3,45.5 L619.0,45.0 L619.7,44.6 L620.3,44.3 L621.0,43.9 L621.7,43.6 L622.4,43.4 L623.0,43.3 L623.7,43.3 L624.4,43.4 L625.0,43.6 L625.7,43.8 L626.4,44.0 L627.1,44.1 L627.7,44.2 L628.4,44.8 L629.1,45.8 L629.8,46.9 L630.4,47.8 L631.1,48.5 L631.8,48.6 L632.4,48.5 L633.1,48.3 L633.8,47.9 L634.5,47.5 L635.1,47.1 L635.8,46.7 L636.5,46.2 L637.2,45.8 L637.8,45.5 L638.5,45.4 L639.2,45.1 L639.8,45.0 L640.5,45.0 L641.2,45.2 L641.9,45.5 L642.5,45.7 L643.2,46.3 L643.9,47.1 L644.6,47.9 L645.2,48.9 L645.9,50.2 L646.6,51.5 L647.3,53.2 L647.9,55.2 L648.6,57.5 L649.3,60.0 L649.9,62.6 L650.6,65.3 L651.3,67.9 L652.0,70.3 L652.6,72.6 L653.3,74.9 L654.0,77.2 L654.7,78.8 L655.3,79.9 L656.0,80.7 L656.7,81.1 L657.3,81.2 L658.0,81.3 L658.7,81.7 L659.4,82.4 L660.0,83.4 L660.7,84.6 L661.4,86.0 L662.1,87.8 L662.7,89.4 L663.4,90.7 L664.1,91.6 L664.7,92.4 L665.4,93.0 L666.1,93.5 L666.8,93.5 L667.4,93.2 L668.1,92.5 L668.8,91.5 L669.5,90.0 L670.1,88.4 L670.8,86.4 L671.5,84.2 L672.1,82.2 L672.8,80.0 L673.5,77.8 L674.2,75.8 L674.8,73.9 L675.5,72.1 L676.2,70.5 L676.9,69.2 L677.5,67.9 L678.2,66.8 L678.9,65.8 L679.5,65.2 L680.2,64.5 L680.9,64.0 L681.6,63.5 L682.2,63.2 L682.9,62.9 L683.6,62.8 L684.3,62.9 L684.9,63.0 L685.6,63.2 L686.3,63.4 L686.9,63.7 L687.6,63.9 L688.3,64.1 L689.0,64.2 L689.6,64.3 L690.3,64.2 L691.0,63.9 L691.7,63.6 L692.3,63.3 L693.0,63.0 L693.7,62.7 L694.3,62.5 L695.0,62.4 L695.7,62.1 L696.4,61.9 L697.0,61.6 L697.7,61.3 L698.4,60.9 L699.1,60.4 L699.7,60.0 L700.4,59.7 L701.1,59.5 L701.8,59.3 L702.4,59.3 L703.1,59.3 L703.8,59.7 L704.4,60.4 L705.1,61.3 L705.8,62.5 L706.5,64.0 L707.1,65.4 L707.8,66.8 L708.5,68.0 L709.2,69.7 L709.8,71.7 L710.5,74.2 L711.2,76.9 L711.8,79.7 L712.5,82.9 L713.2,86.4 L713.9,90.0 L714.5,93.5 L715.2,96.3 L715.9,98.8 L716.6,100.5 L717.2,101.2 L717.9,101.2 L718.6,100.4 L719.2,98.9 L719.9,96.8 L720.6,94.3 L721.3,91.7 L721.9,89.2 L722.6,86.6 L723.3,84.1 L724.0,82.0 L724.6,80.5 L725.3,79.2 L726.0,78.0 L726.6,76.6 L727.3,75.0 L728.0,73.1 L728.7,71.2 L729.3,69.6 L730.0,67.9 L730.7,66.2 L731.4,64.5 L732.0,63.2 L732.7,62.5 L733.4,62.4 L734.0,62.7 L734.7,63.4 L735.4,64.3 L736.1,65.0 L736.7,65.3 L737.4,65.2 L738.1,65.1 L738.8,65.0 L739.4,64.9 L740.1,64.7 L740.8,64.5 L741.4,64.1 L742.1,63.9 L742.8,63.5 L743.5,63.1 L744.1,62.8 L744.8,62.4 L745.5,61.9 L746.2,61.3 L746.8,60.7 L747.5,60.2 L748.2,59.8 L748.8,59.3 L749.5,58.7 L750.2,58.0 L750.9,57.1 L751.5,56.1 L752.2,55.0 L752.9,54.0 L753.6,53.3 L754.2,52.8 L754.9,52.4 L755.6,52.0 L756.3,51.6 L756.9,51.3 L757.6,51.1 L758.3,50.9 L758.9,50.8 L759.6,50.8 L760.3,50.8 L761.0,50.9 L761.6,51.0 L762.3,51.3 L763.0,51.7 L763.7,52.3 L764.3,53.0 L765.0,53.7 L765.7,54.4 L766.3,55.4 L767.0,56.6 L767.7,57.8 L768.4,58.9 L769.0,60.0 L769.7,61.3 L770.4,62.5 L771.1,63.5 L771.7,64.2 L772.4,64.7 L773.1,65.1 L773.7,65.3 L774.4,65.5 L775.1,65.5 L775.8,65.3 L776.4,64.9 L777.1,64.5 L777.8,63.8 L778.5,62.9 L779.1,62.1 L779.8,61.4 L780.5,60.7 L781.1,59.9 L781.8,59.1 L782.5,58.3 L783.2,57.6 L783.8,57.0 L784.5,56.5 L785.2,55.8 L785.9,55.1 L786.5,54.6 L787.2,54.3 L787.9,54.1 L788.5,54.0 L789.2,54.0 L789.9,54.1 L790.6,54.1 L791.2,54.3 L791.9,54.9 L792.6,56.1 L793.3,57.4 L793.9,58.8 L794.6,60.0 L795.3,61.1 L795.9,62.0 L796.6,62.8 L797.3,63.3 L798.0,63.4 L798.6,63.3 L799.3,62.9 L800.0,62.5 L800.7,61.9 L801.3,61.7 L802.0,62.2 L802.7,63.3 L803.3,64.8 L804.0,66.3 L804.7,67.5 L805.4,68.3 L806.0,68.5 L806.7,68.3 L807.4,67.3 L808.1,65.7 L808.7,63.8 L809.4,61.7 L810.1,59.6 L810.7,57.6 L811.4,55.7 L812.1,53.9 L812.8,52.5 L813.4,51.2 L814.1,50.1 L814.8,49.1 L815.5,48.1 L816.1,47.3 L816.8,46.4 L817.5,46.0 L818.2,46.2 L818.8,46.9 L819.5,48.3 L820.2,50.1 L820.8,52.1 L821.5,54.1 L822.2,56.0 L822.9,58.2 L823.5,60.2 L824.2,61.8" fill="none" stroke="#f0b0b8" stroke-width="2.6"/>
<path d="M57.2,55.9 L57.8,54.9 L58.5,53.9 L59.2,53.0 L59.9,52.2 L60.5,51.3 L61.2,50.6 L61.9,49.9 L62.6,49.2 L63.2,48.6 L63.9,48.0 L64.6,47.0 L65.3,46.2 L65.9,45.2 L66.6,44.1 L67.3,43.1 L67.9,42.1 L68.6,41.4 L69.3,41.1 L70.0,40.8 L70.6,40.4 L71.3,39.7 L72.0,38.7 L72.7,38.4 L73.3,39.4 L74.0,41.3 L74.7,43.7 L75.3,46.3 L76.0,48.7 L76.7,51.0 L77.4,53.1 L78.0,55.3 L78.7,57.5 L79.4,60.2 L80.1,63.3 L80.7,66.5 L81.4,69.5 L82.1,72.5 L82.7,75.8 L83.4,79.1 L84.1,81.7 L84.8,83.9 L85.4,85.9 L86.1,87.7 L86.8,89.4 L87.5,91.3 L88.1,93.7 L88.8,96.4 L89.5,99.5 L90.1,103.0 L90.8,106.5 L91.5,110.1 L92.2,114.2 L92.8,118.4 L93.5,122.7 L94.2,127.2 L94.9,131.6 L95.5,135.3 L96.2,137.5 L96.9,138.5 L97.5,138.8 L98.2,138.5 L98.9,138.1 L99.6,137.5 L100.2,136.9 L100.9,135.7 L101.6,133.4 L102.3,129.7 L102.9,124.4 L103.6,118.3 L104.3,112.2 L104.9,106.5 L105.6,101.0 L106.3,96.0 L107.0,91.9 L107.6,87.9 L108.3,84.1 L109.0,81.1 L109.7,79.1 L110.3,78.0 L111.0,77.5 L111.7,77.7 L112.3,78.0 L113.0,78.5 L113.7,78.8 L114.4,79.2 L115.0,79.6 L115.7,79.8 L116.4,79.8 L117.1,79.9 L117.7,79.8 L118.4,79.5 L119.1,78.7 L119.7,77.4 L120.4,75.7 L121.1,73.4 L121.8,70.7 L122.4,67.7 L123.1,64.5 L123.8,61.2 L124.5,57.6 L125.1,54.4 L125.8,51.6 L126.5,49.4 L127.2,47.6 L127.8,46.0 L128.5,44.8 L129.2,43.8 L129.8,42.7 L130.5,42.4 L131.2,42.6 L131.9,42.8 L132.5,42.9 L133.2,43.2 L133.9,44.0 L134.6,45.3 L135.2,47.0 L135.9,49.5 L136.6,52.1 L137.2,55.1 L137.9,58.6 L138.6,62.5 L139.3,66.7 L139.9,71.1 L140.6,75.8 L141.3,80.5 L142.0,84.4 L142.6,87.6 L143.3,89.9 L144.0,91.1 L144.6,91.2 L145.3,90.1 L146.0,88.7 L146.7,87.2 L147.3,85.9 L148.0,84.7 L148.7,83.5 L149.4,83.1 L150.0,82.7 L150.7,82.6 L151.4,82.1 L152.0,81.6 L152.7,80.6 L153.4,79.2 L154.1,77.8 L154.7,76.4 L155.4,75.1 L156.1,74.0 L156.8,73.1 L157.4,72.3 L158.1,71.9 L158.8,72.3 L159.4,73.2 L160.1,74.5 L160.8,75.9 L161.5,77.3 L162.1,78.7 L162.8,79.8 L163.5,80.6 L164.2,81.3 L164.8,82.0 L165.5,82.9 L166.2,83.6 L166.8,84.4 L167.5,85.2 L168.2,86.1 L168.9,86.8 L169.5,87.5 L170.2,87.9 L170.9,88.5 L171.6,89.1 L172.2,89.8 L172.9,90.5 L173.6,91.0 L174.2,91.5 L174.9,91.7 L175.6,91.6 L176.3,91.1 L176.9,90.5 L177.6,89.4 L178.3,88.0 L179.0,86.3 L179.6,84.3 L180.3,82.1 L181.0,79.5 L181.7,77.0 L182.3,74.3 L183.0,71.5 L183.7,68.5 L184.3,65.9 L185.0,63.8 L185.7,62.1 L186.4,60.8 L187.0,59.9 L187.7,59.2 L188.4,58.9 L189.1,59.0 L189.7,59.1 L190.4,59.5 L191.1,59.6 L191.7,59.7 L192.4,59.7 L193.1,59.7 L193.8,59.5 L194.4,59.3 L195.1,59.0 L195.8,58.7 L196.5,58.2 L197.1,57.7 L197.8,57.0 L198.5,56.5 L199.1,55.9 L199.8,55.6 L200.5,55.3 L201.2,55.2 L201.8,54.9 L202.5,54.5 L203.2,54.1 L203.9,53.6 L204.5,53.1 L205.2,52.5 L205.9,51.9 L206.5,51.2 L207.2,50.5 L207.9,50.2 L208.6,50.3 L209.2,50.9 L209.9,52.3 L210.6,54.0 L211.3,55.8 L211.9,57.6 L212.6,59.3 L213.3,60.8 L213.9,62.0 L214.6,63.0 L215.3,63.9 L216.0,64.7 L216.6,65.5 L217.3,66.3 L218.0,67.0 L218.7,67.5 L219.3,68.0 L220.0,68.4 L220.7,68.7 L221.3,69.1 L222.0,69.4 L222.7,69.7 L223.4,69.8 L224.0,70.0 L224.7,70.1 L225.4,70.3 L226.1,70.6 L226.7,70.9 L227.4,71.3 L228.1,71.9 L228.7,72.5 L229.4,73.2 L230.1,73.8 L230.8,74.4 L231.4,74.9 L232.1,75.4 L232.8,75.8 L233.5,75.9 L234.1,75.7 L234.8,75.2 L235.5,74.7 L236.1,73.8 L236.8,72.7 L237.5,71.6 L238.2,70.5 L238.8,69.4 L239.5,68.4 L240.2,67.5 L240.9,66.4 L241.5,65.3 L242.2,64.1 L242.9,62.6 L243.6,61.1 L244.2,59.5 L244.9,58.0 L245.6,56.6 L246.2,55.5 L246.9,54.5 L247.6,53.7 L248.3,53.0 L248.9,52.6 L249.6,52.3 L250.3,52.2 L251.0,52.2 L251.6,52.1 L252.3,52.2 L253.0,52.5 L253.6,52.5 L254.3,52.5 L255.0,52.5 L255.7,52.8 L256.3,53.2 L257.0,53.5 L257.7,53.7 L258.4,53.9 L259.0,54.1 L259.7,54.4 L260.4,54.9 L261.0,55.3 L261.7,55.9 L262.4,56.7 L263.1,57.5 L263.7,58.3 L264.4,59.4 L265.1,60.7 L265.8,62.0 L266.4,63.3 L267.1,64.4 L267.8,65.4 L268.4,65.8 L269.1,65.8 L269.8,65.7 L270.5,65.4 L271.1,64.7 L271.8,63.7 L272.5,62.4 L273.2,60.9 L273.8,59.6 L274.5,58.2 L275.2,57.0 L275.8,55.9 L276.5,54.7 L277.2,53.5 L277.9,52.3 L278.5,51.2 L279.2,50.1 L279.9,49.1 L280.6,48.2 L281.2,47.3 L281.9,46.7 L282.6,46.0 L283.2,45.5 L283.9,45.2 L284.6,45.0 L285.3,44.8 L285.9,44.7 L286.6,44.6 L287.3,44.5 L288.0,44.5 L288.6,44.7 L289.3,45.1 L290.0,45.7 L290.6,46.3 L291.3,46.9 L292.0,47.7 L292.7,48.6 L293.3,49.6 L294.0,50.8 L294.7,52.0 L295.4,53.3 L296.0,54.4 L296.7,55.5 L297.4,57.0 L298.1,58.7 L298.7,60.5 L299.4,62.4 L300.1,64.4 L300.7,66.3 L301.4,67.8 L302.1,68.9 L302.8,69.6 L303.4,69.9 L304.1,69.8 L304.8,69.4 L305.5,68.8 L306.1,67.9 L306.8,66.8 L307.5,65.6 L308.1,64.4 L308.8,63.3 L309.5,62.1 L310.2,61.0 L310.8,60.0 L311.5,59.0 L312.2,58.1 L312.9,57.4 L313.5,56.7 L314.2,55.9 L314.9,55.5 L315.5,55.3 L316.2,55.2 L316.9,55.4 L317.6,55.8 L318.2,56.4 L318.9,57.2 L319.6,58.2 L320.3,59.3 L320.9,60.5 L321.6,61.6 L322.3,62.8 L322.9,63.9 L323.6,65.0 L324.3,65.9 L325.0,66.6 L325.6,67.1 L326.3,67.4 L327.0,67.4 L327.7,67.3 L328.3,67.0 L329.0,66.5 L329.7,66.0 L330.3,65.2 L331.0,64.5 L331.7,63.7 L332.4,62.7 L333.0,61.8 L333.7,61.2 L334.4,61.0 L335.1,61.4 L335.7,62.1 L336.4,63.1 L337.1,64.3 L337.7,65.8 L338.4,67.2 L339.1,68.5 L339.8,69.5 L340.4,70.0 L341.1,70.3 L341.8,70.4 L342.5,70.1 L343.1,69.8 L343.8,69.4 L344.5,69.0 L345.1,68.4 L345.8,67.8 L346.5,67.0 L347.2,66.0 L347.8,65.0 L348.5,63.8 L349.2,62.5 L349.9,61.2 L350.5,60.2 L351.2,59.4 L351.9,58.8 L352.6,58.4 L353.2,58.0 L353.9,57.6 L354.6,57.2 L355.2,57.0 L355.9,56.8 L356.6,56.7 L357.3,56.5 L357.9,56.4 L358.6,56.3 L359.3,56.3 L360.0,56.3 L360.6,56.2 L361.3,56.3 L362.0,56.4 L362.6,56.7 L363.3,57.1 L364.0,57.7 L364.7,58.1 L365.3,58.6 L366.0,59.1 L366.7,59.7 L367.4,60.5 L368.0,61.5 L368.7,62.7 L369.4,63.9 L370.0,65.2 L370.7,66.6 L371.4,68.1 L372.1,69.7 L372.7,71.2 L373.4,72.3 L374.1,73.2 L374.8,73.8 L375.4,74.2 L376.1,74.3 L376.8,74.2 L377.4,73.9 L378.1,73.3 L378.8,72.5 L379.5,71.5 L380.1,70.3 L380.8,69.0 L381.5,67.7 L382.2,66.7 L382.8,65.9 L383.5,65.5 L384.2,65.1 L384.8,64.9 L385.5,64.7 L386.2,64.5 L386.9,64.0 L387.5,63.2 L388.2,62.2 L388.9,61.2 L389.6,60.3 L390.2,59.6 L390.9,59.3 L391.6,59.3 L392.2,59.6 L392.9,60.3 L393.6,61.2 L394.3,62.3 L394.9,63.6 L395.6,64.9 L396.3,66.3 L397.0,67.8 L397.6,69.4 L398.3,71.0 L399.0,72.7 L399.6,74.5 L400.3,76.2 L401.0,77.8 L401.7,79.2 L402.3,80.2 L403.0,80.7 L403.7,80.8 L404.4,80.6 L405.0,80.1 L405.7,79.2 L406.4,78.0 L407.0,76.6 L407.7,75.0 L408.4,73.4 L409.1,71.8 L409.7,70.3 L410.4,69.1 L411.1,68.3 L411.8,67.7 L412.4,67.4 L413.1,67.3 L413.8,67.2 L414.5,67.1 L415.1,67.0 L415.8,66.6 L416.5,66.2 L417.1,65.7 L417.8,65.3 L418.5,64.7 L419.2,64.3 L419.8,63.7 L420.5,62.8 L421.2,62.0 L421.9,61.5 L422.5,61.5 L423.2,61.5 L423.9,61.9 L424.5,62.5 L425.2,63.5 L425.9,64.6 L426.6,66.1 L427.2,67.8 L427.9,69.7 L428.6,71.7 L429.3,73.6 L429.9,75.6 L430.6,77.6 L431.3,79.7 L431.9,81.7 L432.6,83.8 L433.3,85.7 L434.0,87.5 L434.6,89.3 L435.3,91.1 L436.0,92.8 L436.7,94.3 L437.3,95.3 L438.0,95.6 L438.7,95.4 L439.3,94.5 L440.0,93.0 L440.7,91.1 L441.4,88.9 L442.0,86.1 L442.7,83.5 L443.4,81.2 L444.1,79.0 L444.7,77.2 L445.4,75.6 L446.1,74.1 L446.7,72.8 L447.4,71.5 L448.1,70.1 L448.8,69.0 L449.4,67.9 L450.1,66.7 L450.8,65.6 L451.5,64.6 L452.1,63.4 L452.8,62.5 L453.5,61.7 L454.1,61.0 L454.8,60.6 L455.5,60.4 L456.2,60.5 L456.8,60.9 L457.5,61.5 L458.2,62.2 L458.9,63.1 L459.5,64.0 L460.2,64.9 L460.9,66.0 L461.5,67.0 L462.2,67.9 L462.9,68.8 L463.6,69.8 L464.2,70.8 L464.9,71.5 L465.6,71.9 L466.3,72.1 L466.9,72.2 L467.6,72.1 L468.3,71.7 L469.0,71.4 L469.6,71.1 L470.3,70.8 L471.0,70.8 L471.6,70.7 L472.3,70.7 L473.0,70.6 L473.7,70.5 L474.3,70.5 L475.0,70.4 L475.7,70.2 L476.4,70.0 L477.0,69.8 L477.7,69.8 L478.4,69.8 L479.0,69.8 L479.7,69.6 L480.4,69.2 L481.1,68.7 L481.7,67.8 L482.4,66.8 L483.1,65.6 L483.8,64.2 L484.4,62.6 L485.1,60.9 L485.8,59.3 L486.4,57.7 L487.1,56.4 L487.8,55.4 L488.5,54.8 L489.1,54.5 L489.8,54.4 L490.5,54.6 L491.2,55.0 L491.8,55.7 L492.5,56.5 L493.2,57.4 L493.8,58.5 L494.5,59.7 L495.2,61.0 L495.9,62.5 L496.5,64.0 L497.2,65.4 L497.9,66.9 L498.6,68.4 L499.2,70.0 L499.9,71.4 L500.6,72.6 L501.2,73.3 L501.9,73.5 L502.6,73.3 L503.3,72.7 L503.9,71.7 L504.6,70.2 L505.3,68.3 L506.0,66.1 L506.6,63.7 L507.3,61.4 L508.0,59.4 L508.6,57.8 L509.3,56.6 L510.0,55.8 L510.7,55.3 L511.3,55.0 L512.0,55.0 L512.7,55.4 L513.4,55.9 L514.0,56.5 L514.7,57.3 L515.4,57.9 L516.0,58.4 L516.7,58.9 L517.4,59.1 L518.1,59.0 L518.7,58.8 L519.4,58.7 L520.1,58.4 L520.8,57.9 L521.4,57.3 L522.1,56.5 L522.8,55.7 L523.4,55.0 L524.1,54.4 L524.8,53.9 L525.5,53.4 L526.1,53.1 L526.8,52.9 L527.5,53.1 L528.2,53.1 L528.8,52.9 L529.5,52.6 L530.2,52.0 L530.9,51.3 L531.5,50.7 L532.2,50.1 L532.9,49.6 L533.5,49.1 L534.2,48.6 L534.9,48.0 L535.6,47.4 L536.2,46.8 L536.9,46.1 L537.6,45.4 L538.3,44.8 L538.9,44.2 L539.6,43.6 L540.3,43.7 L540.9,44.3 L541.6,45.7 L542.3,48.0 L543.0,50.4 L543.6,52.7 L544.3,55.1 L545.0,57.0 L545.7,58.6 L546.3,59.9 L547.0,60.9 L547.7,61.6 L548.3,62.3 L549.0,62.6 L549.7,62.7 L550.4,62.7 L551.0,62.4 L551.7,62.0 L552.4,61.5 L553.1,60.9 L553.7,60.3 L554.4,59.8 L555.1,59.3 L555.7,58.7 L556.4,57.9 L557.1,57.3 L557.8,56.8 L558.4,56.4 L559.1,56.4 L559.8,56.6 L560.5,56.9 L561.1,57.2 L561.8,57.5 L562.5,57.9 L563.1,58.2 L563.8,58.8 L564.5,59.6 L565.2,60.6 L565.8,61.7 L566.5,62.9 L567.2,63.8 L567.9,64.5 L568.5,64.8 L569.2,64.7 L569.9,64.3 L570.5,63.8 L571.2,63.2 L571.9,62.6 L572.6,61.9 L573.2,61.4 L573.9,60.9 L574.6,60.4 L575.3,60.0 L575.9,59.5 L576.6,59.1 L577.3,58.8 L577.9,58.5 L578.6,58.2 L579.3,58.0 L580.0,57.9 L580.6,57.9 L581.3,57.9 L582.0,58.2 L582.7,58.3 L583.3,58.3 L584.0,58.5 L584.7,58.8 L585.4,59.1 L586.0,59.4 L586.7,59.5 L587.4,59.7 L588.0,60.0 L588.7,60.3 L589.4,60.4 L590.1,60.6 L590.7,60.9 L591.4,61.1 L592.1,61.5 L592.8,62.0 L593.4,62.7 L594.1,63.4 L594.8,64.2 L595.4,65.0 L596.1,65.7 L596.8,66.3 L597.5,66.8 L598.1,67.2 L598.8,67.4 L599.5,67.4 L600.2,67.1 L600.8,66.7 L601.5,66.3 L602.2,66.0 L602.8,65.3 L603.5,64.5 L604.2,63.5 L604.9,62.4 L605.5,61.3 L606.2,60.1 L606.9,58.8 L607.6,57.7 L608.2,56.5 L608.9,55.2 L609.6,54.2 L610.2,53.2 L610.9,52.2 L611.6,51.2 L612.3,50.3 L612.9,49.4 L613.6,48.7 L614.3,48.0 L615.0,47.5 L615.6,47.1 L616.3,46.8 L617.0,46.5 L617.6,46.0 L618.3,45.5 L619.0,45.0 L619.7,44.6 L620.3,44.3 L621.0,43.9 L621.7,43.6 L622.4,43.4 L623.0,43.3 L623.7,43.3 L624.4,43.4 L625.0,43.6 L625.7,43.8 L626.4,44.0 L627.1,44.1 L627.7,44.2 L628.4,44.8 L629.1,45.8 L629.8,46.9 L630.4,47.8 L631.1,48.5 L631.8,48.6 L632.4,48.5 L633.1,48.3 L633.8,47.9 L634.5,47.5 L635.1,47.1 L635.8,46.7 L636.5,46.2 L637.2,45.8 L637.8,45.5 L638.5,45.4 L639.2,45.1 L639.8,45.0 L640.5,45.0 L641.2,45.2 L641.9,45.5 L642.5,45.7 L643.2,46.3 L643.9,47.1 L644.6,47.9 L645.2,48.9 L645.9,50.2 L646.6,51.5 L647.3,53.2 L647.9,55.2 L648.6,57.5 L649.3,60.0 L649.9,62.6 L650.6,65.3 L651.3,67.9 L652.0,70.3 L652.6,72.6 L653.3,74.9 L654.0,77.2 L654.7,78.8 L655.3,79.9 L656.0,80.7 L656.7,81.1 L657.3,81.2 L658.0,81.3 L658.7,81.7 L659.4,82.4 L660.0,83.4 L660.7,84.6 L661.4,86.0 L662.1,87.8 L662.7,89.4 L663.4,90.7 L664.1,91.6 L664.7,92.4 L665.4,93.0 L666.1,93.5 L666.8,93.5 L667.4,93.2 L668.1,92.5 L668.8,91.5 L669.5,90.0 L670.1,88.4 L670.8,86.4 L671.5,84.2 L672.1,82.2 L672.8,80.0 L673.5,77.8 L674.2,75.8 L674.8,73.9 L675.5,72.1 L676.2,70.5 L676.9,69.2 L677.5,67.9 L678.2,66.8 L678.9,65.8 L679.5,65.2 L680.2,64.5 L680.9,64.0 L681.6,63.5 L682.2,63.2 L682.9,62.9 L683.6,62.8 L684.3,62.9 L684.9,63.0 L685.6,63.2 L686.3,63.4 L686.9,63.7 L687.6,63.9 L688.3,64.1 L689.0,64.2 L689.6,64.3 L690.3,64.2 L691.0,63.9 L691.7,63.6 L692.3,63.3 L693.0,63.0 L693.7,62.7 L694.3,62.5 L695.0,62.4 L695.7,62.1 L696.4,61.9 L697.0,61.6 L697.7,61.3 L698.4,60.9 L699.1,60.4 L699.7,60.0 L700.4,59.7 L701.1,59.5 L701.8,59.3 L702.4,59.3 L703.1,59.3 L703.8,59.7 L704.4,60.4 L705.1,61.3 L705.8,62.5 L706.5,64.0 L707.1,65.4 L707.8,66.8 L708.5,68.0 L709.2,69.7 L709.8,71.7 L710.5,74.2 L711.2,76.9 L711.8,79.7 L712.5,82.9 L713.2,86.4 L713.9,90.0 L714.5,93.5 L715.2,96.3 L715.9,98.8 L716.6,100.5 L717.2,101.2 L717.9,101.2 L718.6,100.4 L719.2,98.9 L719.9,96.8 L720.6,94.3 L721.3,91.7 L721.9,89.2 L722.6,86.6 L723.3,84.1 L724.0,82.0 L724.6,80.5 L725.3,79.2 L726.0,78.0 L726.6,76.6 L727.3,75.0 L728.0,73.1 L728.7,71.2 L729.3,69.6 L730.0,67.9 L730.7,66.2 L731.4,64.5 L732.0,63.2 L732.7,62.5 L733.4,62.4 L734.0,62.7 L734.7,63.4 L735.4,64.3 L736.1,65.0 L736.7,65.3 L737.4,65.2 L738.1,65.1 L738.8,65.0 L739.4,64.9 L740.1,64.7 L740.8,64.5 L741.4,64.1 L742.1,63.9 L742.8,63.5 L743.5,63.1 L744.1,62.8 L744.8,62.4 L745.5,61.9 L746.2,61.3 L746.8,60.7 L747.5,60.2 L748.2,59.8 L748.8,59.3 L749.5,58.7 L750.2,58.0 L750.9,57.1 L751.5,56.1 L752.2,55.0 L752.9,54.0 L753.6,53.3 L754.2,52.8 L754.9,52.4 L755.6,52.0 L756.3,51.6 L756.9,51.3 L757.6,51.1 L758.3,50.9 L758.9,50.8 L759.6,50.8 L760.3,50.8 L761.0,50.9 L761.6,51.0 L762.3,51.3 L763.0,51.7 L763.7,52.3 L764.3,53.0 L765.0,53.7 L765.7,54.4 L766.3,55.4 L767.0,56.6 L767.7,57.8 L768.4,58.9 L769.0,60.0 L769.7,61.3 L770.4,62.5 L771.1,63.5 L771.7,64.2 L772.4,64.7 L773.1,65.1 L773.7,65.3 L774.4,65.5 L775.1,65.5 L775.8,65.3 L776.4,64.9 L777.1,64.5 L777.8,63.8 L778.5,62.9 L779.1,62.1 L779.8,61.4 L780.5,60.7 L781.1,59.9 L781.8,59.1 L782.5,58.3 L783.2,57.6 L783.8,57.0 L784.5,56.5 L785.2,55.8 L785.9,55.1 L786.5,54.6 L787.2,54.3 L787.9,54.1 L788.5,54.0 L789.2,54.0 L789.9,54.1 L790.6,54.1 L791.2,54.3 L791.9,54.9 L792.6,56.1 L793.3,57.4 L793.9,58.8 L794.6,60.0 L795.3,61.1 L795.9,62.0 L796.6,62.8 L797.3,63.3 L798.0,63.4 L798.6,63.3 L799.3,62.9 L800.0,62.5 L800.7,61.9 L801.3,61.7 L802.0,62.2 L802.7,63.3 L803.3,64.8 L804.0,66.3 L804.7,67.5 L805.4,68.3 L806.0,68.5 L806.7,68.3 L807.4,67.3 L808.1,65.7 L808.7,63.8 L809.4,61.7 L810.1,59.6 L810.7,57.6 L811.4,55.7 L812.1,53.9 L812.8,52.5 L813.4,51.2 L814.1,50.1 L814.8,49.1 L815.5,48.1 L816.1,47.3 L816.8,46.4 L817.5,46.0 L818.2,46.2 L818.8,46.9 L819.5,48.3 L820.2,50.1 L820.8,52.1 L821.5,54.1 L822.2,56.0 L822.9,58.2 L823.5,60.2 L824.2,61.8" fill="none" stroke="#7a1030" stroke-width="1"/>
<path d="M51.8,59.9 L52.5,58.5 L53.1,57.4 L53.8,56.2 L54.5,55.8 L55.2,55.4 L55.8,54.7 L56.5,53.7 L57.2,52.2 L57.8,50.9 L58.5,50.0 L59.2,49.5 L59.9,49.0 L60.5,47.8 L61.2,47.5 L61.9,47.0 L62.6,46.5 L63.2,46.4 L63.9,45.3 L64.6,43.3 L65.3,42.6 L65.9,41.3 L66.6,39.6 L67.3,39.0 L67.9,38.5 L68.6,38.5 L69.3,39.6 L70.0,39.7 L70.6,38.8 L71.3,37.1 L72.0,34.7 L72.7,37.3 L73.3,43.1 L74.0,49.2 L74.7,53.3 L75.3,56.6 L76.0,58.5 L76.7,60.0 L77.4,61.5 L78.0,64.1 L78.7,66.4 L79.4,71.0 L80.1,75.7 L80.7,79.1 L81.4,81.5 L82.1,84.3 L82.7,89.0 L83.4,92.5 L84.1,92.3 L84.8,92.5 L85.4,94.1 L86.1,94.9 L86.8,96.0 L87.5,99.0 L88.1,103.0 L88.8,107.6 L89.5,111.9 L90.1,116.8 L90.8,120.4 L91.5,124.7 L92.2,130.3 L92.8,135.1 L93.5,140.0 L94.2,145.1 L94.9,149.5 L95.5,150.2 L96.2,146.0 L96.9,142.7 L97.5,139.9 L98.2,137.1 L98.9,136.6 L99.6,135.3 L100.2,134.2 L100.9,130.8 L101.6,124.3 L102.3,114.7 L102.9,103.4 L103.6,93.7 L104.3,87.8 L104.9,83.6 L105.6,79.1 L106.3,76.3 L107.0,75.3 L107.6,71.8 L108.3,68.9 L109.0,69.1 L109.7,71.3 L110.3,73.3 L111.0,75.6 L111.7,78.3 L112.3,79.1 L113.0,80.7 L113.7,80.1 L114.4,80.8 L115.0,81.0 L115.7,80.5 L116.4,80.0 L117.1,80.2 L117.7,79.5 L118.4,78.0 L119.1,75.6 L119.7,72.1 L120.4,68.7 L121.1,64.6 L121.8,59.8 L122.4,55.7 L123.1,51.5 L123.8,48.0 L124.5,43.6 L125.1,41.4 L125.8,40.7 L126.5,40.6 L127.2,40.4 L127.8,39.5 L128.5,39.8 L129.2,39.9 L129.8,38.6 L130.5,41.2 L131.2,43.2 L131.9,43.5 L132.5,43.4 L133.2,44.3 L133.9,47.2 L134.6,50.3 L135.2,54.2 L135.9,59.1 L136.6,62.4 L137.2,67.1 L137.9,72.7 L138.6,78.2 L139.3,83.5 L139.9,88.6 L140.6,94.9 L141.3,99.0 L142.0,99.9 L142.6,100.6 L143.3,99.3 L144.0,95.8 L144.6,91.3 L145.3,85.6 L146.0,83.2 L146.7,81.5 L147.3,80.6 L148.0,79.6 L148.7,78.8 L149.4,81.3 L150.0,81.4 L150.7,81.9 L151.4,80.2 L152.0,79.4 L152.7,77.0 L153.4,73.6 L154.1,71.9 L154.7,70.8 L155.4,69.9 L156.1,69.5 L156.8,69.6 L157.4,69.3 L158.1,70.2 L158.8,73.8 L159.4,76.6 L160.1,79.7 L160.8,81.6 L161.5,83.1 L162.1,84.0 L162.8,84.1 L163.5,84.0 L164.2,84.0 L164.8,85.0 L165.5,86.2 L166.2,86.6 L166.8,87.5 L167.5,88.5 L168.2,89.7 L168.9,89.8 L169.5,89.9 L170.2,89.9 L170.9,90.8 L171.6,91.6 L172.2,92.7 L172.9,93.1 L173.6,93.1 L174.2,93.6 L174.9,92.6 L175.6,90.9 L176.3,89.2 L176.9,88.0 L177.6,85.1 L178.3,82.3 L179.0,79.6 L179.6,76.4 L180.3,73.1 L181.0,69.4 L181.7,66.8 L182.3,63.5 L183.0,60.1 L183.7,56.8 L184.3,55.5 L185.0,55.4 L185.7,55.1 L186.4,55.5 L187.0,56.3 L187.7,56.7 L188.4,57.6 L189.1,59.2 L189.7,59.8 L190.4,60.8 L191.1,60.4 L191.7,59.9 L192.4,59.9 L193.1,59.6 L193.8,58.9 L194.4,58.5 L195.1,57.6 L195.8,57.4 L196.5,56.6 L197.1,55.5 L197.8,54.4 L198.5,54.3 L199.1,53.7 L199.8,54.2 L200.5,54.3 L201.2,54.6 L201.8,53.5 L202.5,53.2 L203.2,52.4 L203.9,51.7 L204.5,50.9 L205.2,50.4 L205.9,49.6 L206.5,48.1 L207.2,47.8 L207.9,48.8 L208.6,50.6 L209.2,53.6 L209.9,57.6 L210.6,61.1 L211.3,62.9 L211.9,64.8 L212.6,66.2 L213.3,66.6 L213.9,66.8 L214.6,67.3 L215.3,67.4 L216.0,67.7 L216.6,68.5 L217.3,69.5 L218.0,70.0 L218.7,69.6 L219.3,69.7 L220.0,70.0 L220.7,70.2 L221.3,70.7 L222.0,70.5 L222.7,70.7 L223.4,70.2 L224.0,70.7 L224.7,70.6 L225.4,71.0 L226.1,72.0 L226.7,72.2 L227.4,72.7 L228.1,74.2 L228.7,75.2 L229.4,75.7 L230.1,76.4 L230.8,76.7 L231.4,77.1 L232.1,77.5 L232.8,77.3 L233.5,76.2 L234.1,74.8 L234.8,73.3 L235.5,72.6 L236.1,70.5 L236.8,68.3 L237.5,67.1 L238.2,66.3 L238.8,64.7 L239.5,64.6 L240.2,64.0 L240.9,62.0 L241.5,61.0 L242.2,59.3 L242.9,56.8 L243.6,55.0 L244.2,53.2 L244.9,51.6 L245.6,51.3 L246.2,51.0 L246.9,50.7 L247.6,50.3 L248.3,50.4 L248.9,50.7 L249.6,51.4 L250.3,51.9 L251.0,51.8 L251.6,52.0 L252.3,52.7 L253.0,53.4 L253.6,52.6 L254.3,52.3 L255.0,52.5 L255.7,54.1 L256.3,54.6 L257.0,54.8 L257.7,54.5 L258.4,54.6 L259.0,55.2 L259.7,55.5 L260.4,56.7 L261.0,57.3 L261.7,58.2 L262.4,59.7 L263.1,60.7 L263.7,61.5 L264.4,63.7 L265.1,65.8 L265.8,67.4 L266.4,68.5 L267.1,69.0 L267.8,69.2 L268.4,67.5 L269.1,65.8 L269.8,65.0 L270.5,64.2 L271.1,62.0 L271.8,59.7 L272.5,57.2 L273.2,55.2 L273.8,54.1 L274.5,52.7 L275.2,52.3 L275.8,51.4 L276.5,50.0 L277.2,48.4 L277.9,47.6 L278.5,46.8 L279.2,45.9 L279.9,45.1 L280.6,44.4 L281.2,44.0 L281.9,44.0 L282.6,43.5 L283.2,43.4 L283.9,43.8 L284.6,44.1 L285.3,44.2 L285.9,44.2 L286.6,44.0 L287.3,44.2 L288.0,44.6 L288.6,45.4 L289.3,46.9 L290.0,47.9 L290.6,48.6 L291.3,49.5 L292.0,50.8 L292.7,52.0 L293.3,53.7 L294.0,55.7 L294.7,56.9 L295.4,58.2 L296.0,58.9 L296.7,60.1 L297.4,62.8 L298.1,65.6 L298.7,67.7 L299.4,70.2 L300.1,72.4 L300.7,73.8 L301.4,73.9 L302.1,73.3 L302.8,72.5 L303.4,70.9 L304.1,69.3 L304.8,68.0 L305.5,66.4 L306.1,64.3 L306.8,62.4 L307.5,60.6 L308.1,59.8 L308.8,58.7 L309.5,57.4 L310.2,56.8 L310.8,55.8 L311.5,55.1 L312.2,54.5 L312.9,54.6 L313.5,53.6 L314.2,53.1 L314.9,53.7 L315.5,54.7 L316.2,54.8 L316.9,56.2 L317.6,57.4 L318.2,58.6 L318.9,60.2 L319.6,62.3 L320.3,63.9 L320.9,65.2 L321.6,66.2 L322.3,67.2 L322.9,68.5 L323.6,69.3 L324.3,69.5 L325.0,69.5 L325.6,69.1 L326.3,68.6 L327.0,67.5 L327.7,66.8 L328.3,65.9 L329.0,64.5 L329.7,63.7 L330.3,62.4 L331.0,61.6 L331.7,60.3 L332.4,58.6 L333.0,58.1 L333.7,58.8 L334.4,60.4 L335.1,63.0 L335.7,64.7 L336.4,67.0 L337.1,69.4 L337.7,71.6 L338.4,72.7 L339.1,73.8 L339.8,73.3 L340.4,72.1 L341.1,71.7 L341.8,70.6 L342.5,69.1 L343.1,68.5 L343.8,68.1 L344.5,67.2 L345.1,66.1 L345.8,65.2 L346.5,63.8 L347.2,62.2 L347.8,60.6 L348.5,59.1 L349.2,57.4 L349.9,56.1 L350.5,56.2 L351.2,56.2 L351.9,56.4 L352.6,56.7 L353.2,56.4 L353.9,56.1 L354.6,55.6 L355.2,55.9 L355.9,56.3 L356.6,56.1 L357.3,55.9 L357.9,55.9 L358.6,55.9 L359.3,56.3 L360.0,56.1 L360.6,56.1 L361.3,56.5 L362.0,57.1 L362.6,57.6 L363.3,59.0 L364.0,59.8 L364.7,60.0 L365.3,60.6 L366.0,61.2 L366.7,62.0 L367.4,63.8 L368.0,65.5 L368.7,67.2 L369.4,68.8 L370.0,70.3 L370.7,72.2 L371.4,74.4 L372.1,76.1 L372.7,77.0 L373.4,76.9 L374.1,76.5 L374.8,76.2 L375.4,75.8 L376.1,74.9 L376.8,73.7 L377.4,72.6 L378.1,71.0 L378.8,69.3 L379.5,67.5 L380.1,65.4 L380.8,64.0 L381.5,62.4 L382.2,62.6 L382.8,63.0 L383.5,63.6 L384.2,63.4 L384.8,64.2 L385.5,64.2 L386.2,63.4 L386.9,62.1 L387.5,59.9 L388.2,58.5 L388.9,57.1 L389.6,56.7 L390.2,57.0 L390.9,57.9 L391.6,59.4 L392.2,60.9 L392.9,63.1 L393.6,64.6 L394.3,66.9 L394.9,68.8 L395.6,70.0 L396.3,71.9 L397.0,74.0 L397.6,75.6 L398.3,77.5 L399.0,79.7 L399.6,81.5 L400.3,83.0 L401.0,84.2 L401.7,85.0 L402.3,84.2 L403.0,82.7 L403.7,81.3 L404.4,79.7 L405.0,78.0 L405.7,75.4 L406.4,73.4 L407.0,70.8 L407.7,68.7 L408.4,67.0 L409.1,65.5 L409.7,64.3 L410.4,64.2 L411.1,64.9 L411.8,65.3 L412.4,66.2 L413.1,67.0 L413.8,66.9 L414.5,66.4 L415.1,66.5 L415.8,65.2 L416.5,64.6 L417.1,63.8 L417.8,63.4 L418.5,62.7 L419.2,62.6 L419.8,61.0 L420.5,59.3 L421.2,58.9 L421.9,59.6 L422.5,61.1 L423.2,61.7 L423.9,63.3 L424.5,65.1 L425.2,67.2 L425.9,69.4 L426.6,72.1 L427.2,74.4 L427.9,77.2 L428.6,79.5 L429.3,81.5 L429.9,83.4 L430.6,85.6 L431.3,88.0 L431.9,90.0 L432.6,92.0 L433.3,93.3 L434.0,94.6 L434.6,96.4 L435.3,98.4 L436.0,99.7 L436.7,100.1 L437.3,99.2 L438.0,97.2 L438.7,94.4 L439.3,91.1 L440.0,86.8 L440.7,83.5 L441.4,80.0 L442.0,75.0 L442.7,73.1 L443.4,71.7 L444.1,70.6 L444.7,69.7 L445.4,69.1 L446.1,68.4 L446.7,67.4 L447.4,66.3 L448.1,64.8 L448.8,64.3 L449.4,63.5 L450.1,62.2 L450.8,61.2 L451.5,60.2 L452.1,58.9 L452.8,58.7 L453.5,58.4 L454.1,58.4 L454.8,58.9 L455.5,59.7 L456.2,60.8 L456.8,62.6 L457.5,64.0 L458.2,65.0 L458.9,66.5 L459.5,67.7 L460.2,68.6 L460.9,70.1 L461.5,71.1 L462.2,71.4 L462.9,72.7 L463.6,73.8 L464.2,74.6 L464.9,74.2 L465.6,73.8 L466.3,72.9 L466.9,72.4 L467.6,71.5 L468.3,70.4 L469.0,70.3 L469.6,69.7 L470.3,69.7 L471.0,70.6 L471.6,70.6 L472.3,70.6 L473.0,70.3 L473.7,70.0 L474.3,70.4 L475.0,70.3 L475.7,69.3 L476.4,69.1 L477.0,69.2 L477.7,69.6 L478.4,70.0 L479.0,69.7 L479.7,68.7 L480.4,67.9 L481.1,66.6 L481.7,64.2 L482.4,62.5 L483.1,61.0 L483.8,58.7 L484.4,56.1 L485.1,54.3 L485.8,52.8 L486.4,51.5 L487.1,50.9 L487.8,51.6 L488.5,52.3 L489.1,53.3 L489.8,54.1 L490.5,55.3 L491.2,56.8 L491.8,58.5 L492.5,59.7 L493.2,60.9 L493.8,62.8 L494.5,64.4 L495.2,66.5 L495.9,68.4 L496.5,69.9 L497.2,71.0 L497.9,72.8 L498.6,74.5 L499.2,76.1 L499.9,77.3 L500.6,77.1 L501.2,76.2 L501.9,74.3 L502.6,72.4 L503.3,70.5 L503.9,67.6 L504.6,64.1 L505.3,61.0 L506.0,57.2 L506.6,54.0 L507.3,52.3 L508.0,51.1 L508.6,51.5 L509.3,52.0 L510.0,52.6 L510.7,53.0 L511.3,54.0 L512.0,55.1 L512.7,56.7 L513.4,58.0 L514.0,58.8 L514.7,60.4 L515.4,60.3 L516.0,60.7 L516.7,60.6 L517.4,59.9 L518.1,58.6 L518.7,58.1 L519.4,58.1 L520.1,57.1 L520.8,55.9 L521.4,54.9 L522.1,53.2 L522.8,52.6 L523.4,52.4 L524.1,52.0 L524.8,51.9 L525.5,51.3 L526.1,51.9 L526.8,52.3 L527.5,53.6 L528.2,53.0 L528.8,52.5 L529.5,51.2 L530.2,49.4 L530.9,48.6 L531.5,48.1 L532.2,47.8 L532.9,47.6 L533.5,47.3 L534.2,46.4 L534.9,45.6 L535.6,44.9 L536.2,44.4 L536.9,43.5 L537.6,42.7 L538.3,42.4 L538.9,41.6 L539.6,41.4 L540.3,44.1 L540.9,46.8 L541.6,51.3 L542.3,57.1 L543.0,60.0 L543.6,62.1 L544.3,64.3 L545.0,64.8 L545.7,65.2 L546.3,65.0 L547.0,64.8 L547.7,64.7 L548.3,64.9 L549.0,64.0 L549.7,63.2 L550.4,62.4 L551.0,61.4 L551.7,60.5 L552.4,59.3 L553.1,58.6 L553.7,57.8 L554.4,57.9 L555.1,57.4 L555.7,56.2 L556.4,54.9 L557.1,54.7 L557.8,54.8 L558.4,54.7 L559.1,56.4 L559.8,57.5 L560.5,57.8 L561.1,58.5 L561.8,58.7 L562.5,59.4 L563.1,59.7 L563.8,61.0 L564.5,62.9 L565.2,64.9 L565.8,66.1 L566.5,67.3 L567.2,67.8 L567.9,67.0 L568.5,66.0 L569.2,64.4 L569.9,62.8 L570.5,61.8 L571.2,60.6 L571.9,60.3 L572.6,59.3 L573.2,59.2 L573.9,58.9 L574.6,58.5 L575.3,58.2 L575.9,57.6 L576.6,57.3 L577.3,57.5 L577.9,57.5 L578.6,57.0 L579.3,57.3 L580.0,57.6 L580.6,57.6 L581.3,58.0 L582.0,59.2 L582.7,58.8 L583.3,58.3 L584.0,59.5 L584.7,60.1 L585.4,60.4 L586.0,60.2 L586.7,60.2 L587.4,60.5 L588.0,61.2 L588.7,61.4 L589.4,61.0 L590.1,61.4 L590.7,61.9 L591.4,61.9 L592.1,63.2 L592.8,64.2 L593.4,65.4 L594.1,66.3 L594.8,67.2 L595.4,68.1 L596.1,68.6 L596.8,68.7 L597.5,68.9 L598.1,68.7 L598.8,68.1 L599.5,67.3 L600.2,66.0 L600.8,65.4 L601.5,64.7 L602.2,64.6 L602.8,62.5 L603.5,61.2 L604.2,59.7 L604.9,57.9 L605.5,56.9 L606.2,55.3 L606.9,53.8 L607.6,53.1 L608.2,51.8 L608.9,50.2 L609.6,50.0 L610.2,49.0 L610.9,48.2 L611.6,47.4 L612.3,46.8 L612.9,45.9 L613.6,45.8 L614.3,45.4 L615.0,45.5 L615.6,45.3 L616.3,45.5 L617.0,45.3 L617.6,44.1 L618.3,43.3 L619.0,43.0 L619.7,43.0 L620.3,43.0 L621.0,42.7 L621.7,42.3 L622.4,42.4 L623.0,42.8 L623.7,43.6 L624.4,43.7 L625.0,44.2 L625.7,44.8 L626.4,44.6 L627.1,44.5 L627.7,44.6 L628.4,47.0 L629.1,50.2 L629.8,51.4 L630.4,51.4 L631.1,51.1 L631.8,49.3 L632.4,48.0 L633.1,47.4 L633.8,46.4 L634.5,45.9 L635.1,45.6 L635.8,45.0 L636.5,44.2 L637.2,44.4 L637.8,44.3 L638.5,44.8 L639.2,44.0 L639.8,44.6 L640.5,44.8 L641.2,46.0 L641.9,46.6 L642.5,46.5 L643.2,48.8 L643.9,50.4 L644.6,51.2 L645.2,52.8 L645.9,55.3 L646.6,56.9 L647.3,59.7 L647.9,63.5 L648.6,66.5 L649.3,70.4 L649.9,73.0 L650.6,75.9 L651.3,78.3 L652.0,79.9 L652.6,81.8 L653.3,84.2 L654.0,86.1 L654.7,85.6 L655.3,84.3 L656.0,83.8 L656.7,82.7 L657.3,81.8 L658.0,81.5 L658.7,83.4 L659.4,85.4 L660.0,87.2 L660.7,89.3 L661.4,91.7 L662.1,94.8 L662.7,96.0 L663.4,96.0 L664.1,95.1 L664.7,95.4 L665.4,95.6 L666.1,95.2 L666.8,93.8 L667.4,92.1 L668.1,89.5 L668.8,87.2 L669.5,84.4 L670.1,81.6 L670.8,78.5 L671.5,75.7 L672.1,73.8 L672.8,71.2 L673.5,69.1 L674.2,67.7 L674.8,66.4 L675.5,64.9 L676.2,64.4 L676.9,63.8 L677.5,63.0 L678.2,62.2 L678.9,62.0 L679.5,62.6 L680.2,62.0 L680.9,61.7 L681.6,61.7 L682.2,61.9 L682.9,62.0 L683.6,62.3 L684.3,63.0 L684.9,63.6 L685.6,64.0 L686.3,64.4 L686.9,64.9 L687.6,64.7 L688.3,65.0 L689.0,64.5 L689.6,64.5 L690.3,63.9 L691.0,62.9 L691.7,62.3 L692.3,62.2 L693.0,61.9 L693.7,61.4 L694.3,61.8 L695.0,61.7 L695.7,61.2 L696.4,60.9 L697.0,60.5 L697.7,59.9 L698.4,59.2 L699.1,58.6 L699.7,58.3 L700.4,58.5 L701.1,58.6 L701.8,58.8 L702.4,59.0 L703.1,59.5 L703.8,61.2 L704.4,63.1 L705.1,64.9 L705.8,67.6 L706.5,69.6 L707.1,71.0 L707.8,72.6 L708.5,72.7 L709.2,76.3 L709.8,79.8 L710.5,84.3 L711.2,87.9 L711.8,90.7 L712.5,95.9 L713.2,100.5 L713.9,104.5 L714.5,107.1 L715.2,107.9 L715.9,108.7 L716.6,107.0 L717.2,104.3 L717.9,101.0 L718.6,97.5 L719.2,92.8 L719.9,88.5 L720.6,84.5 L721.3,81.2 L721.9,79.0 L722.6,76.3 L723.3,74.2 L724.0,73.4 L724.6,74.4 L725.3,74.3 L726.0,73.0 L726.6,71.3 L727.3,68.6 L728.0,65.4 L728.7,63.8 L729.3,63.0 L730.0,61.3 L730.7,59.2 L731.4,57.9 L732.0,58.0 L732.7,59.6 L733.4,62.0 L734.0,64.1 L734.7,66.2 L735.4,67.6 L736.1,67.8 L736.7,66.4 L737.4,64.9 L738.1,64.7 L738.8,64.7 L739.4,64.3 L740.1,64.2 L740.8,63.3 L741.4,62.8 L742.1,62.9 L742.8,62.0 L743.5,61.8 L744.1,61.3 L744.8,60.7 L745.5,60.0 L746.2,59.0 L746.8,58.4 L747.5,58.2 L748.2,58.1 L748.8,57.5 L749.5,56.4 L750.2,55.0 L750.9,53.5 L751.5,51.9 L752.2,50.7 L752.9,50.3 L753.6,50.2 L754.2,50.8 L754.9,50.8 L755.6,50.4 L756.3,50.0 L756.9,50.1 L757.6,50.4 L758.3,50.2 L758.9,50.5 L759.6,50.6 L760.3,50.7 L761.0,51.2 L761.6,51.4 L762.3,52.4 L763.0,53.4 L763.7,54.6 L764.3,55.8 L765.0,56.5 L765.7,57.4 L766.3,59.4 L767.0,61.2 L767.7,62.5 L768.4,63.6 L769.0,64.5 L769.7,66.1 L770.4,67.3 L771.1,67.5 L771.7,66.9 L772.4,66.6 L773.1,66.7 L773.7,66.4 L774.4,66.1 L775.1,65.7 L775.8,64.3 L776.4,63.5 L777.1,62.7 L777.8,60.9 L778.5,59.5 L779.1,58.7 L779.8,58.5 L780.5,57.9 L781.1,56.8 L781.8,56.0 L782.5,55.2 L783.2,54.9 L783.8,54.5 L784.5,54.3 L785.2,53.3 L785.9,52.3 L786.5,52.7 L787.2,52.9 L787.9,53.1 L788.5,53.7 L789.2,54.2 L789.9,54.4 L790.6,54.0 L791.2,55.0 L791.9,57.5 L792.6,61.1 L793.3,62.7 L793.9,64.0 L794.6,64.9 L795.3,65.7 L795.9,65.8 L796.6,65.8 L797.3,65.1 L798.0,63.9 L798.6,62.8 L799.3,61.6 L800.0,60.8 L800.7,59.5 L801.3,60.8 L802.0,64.1 L802.7,67.7 L803.3,70.7 L804.0,72.4 L804.7,72.5 L805.4,71.2 L806.0,69.7 L806.7,67.1 L807.4,63.3 L808.1,59.5 L808.7,56.1 L809.4,53.4 L810.1,51.3 L810.7,49.6 L811.4,47.8 L812.1,46.7 L812.8,46.8 L813.4,46.2 L814.1,45.8 L814.8,44.8 L815.5,44.4 L816.1,43.9 L816.8,42.7 L817.5,44.3 L818.2,46.9 L818.8,50.0 L819.5,53.7 L820.2,57.3 L820.8,60.1 L821.5,62.0 L822.2,63.8 L822.9,66.8 L823.5,68.5 L824.2,68.2" fill="none" stroke="#000" stroke-width="1.8"/>
<rect x="116.5" y="71.8" width="74.0" height="29.200000000000003" fill="rgba(255,70,60,0.45)" stroke="#e45050" stroke-width="1.6"/>
<rect x="388.7" y="71.8" width="84.5" height="29.200000000000003" fill="rgba(255,70,60,0.45)" stroke="#e45050" stroke-width="1.6"/>
<rect x="649.5" y="72.3" width="84.0" height="31.700000000000003" fill="rgba(255,70,60,0.45)" stroke="#e45050" stroke-width="1.6"/>
</g>
<g clip-path="url(#c1)">
<path d="M34.3,466.3 L35.0,464.7 L35.6,464.4 L36.3,463.8 L37.0,463.6 L37.7,462.2 L38.3,459.8 L39.0,459.4 L39.7,458.3 L40.4,458.3 L41.0,457.7 L41.7,457.4 L42.4,458.7 L43.0,459.7 L43.7,462.4 L44.4,462.6 L45.1,463.2 L45.7,462.4 L46.4,460.2 L47.1,458.0 L47.8,455.4 L48.4,454.8 L49.1,454.2 L49.8,455.1 L50.4,454.3 L51.1,453.1 L51.8,453.1 L52.5,450.1 L53.1,449.7 L53.8,448.3 L54.5,449.1 L55.2,448.4 L55.8,446.8 L56.5,445.2 L57.2,443.1 L57.8,441.9 L58.5,441.3 L59.2,441.2 L59.9,440.1 L60.5,437.5 L61.2,438.1 L61.9,436.7 L62.6,435.4 L63.2,435.2 L63.9,432.2 L64.6,428.6 L65.3,429.5 L65.9,426.6 L66.6,424.2 L67.3,424.5 L67.9,423.1 L68.6,423.1 L69.3,424.3 L70.0,421.6 L70.6,418.2 L71.3,414.9 L72.0,411.3 L72.7,420.1 L73.3,429.3" stroke="#000" stroke-width="1.6" fill="none" stroke-dasharray="2.2,1.6"/>
<path d="M74.00,426.0V435.0M74.67,427.8V434.5M75.34,427.9V431.3M76.02,425.2V431.3M76.69,422.5V428.7M77.36,425.4V428.0M78.03,424.9V432.7M78.71,430.1V432.6M79.38,429.6V443.3M80.05,438.3V447.2M80.73,437.6V444.6M81.40,438.5V445.7M82.07,439.3V444.3M82.74,440.7V452.8M83.42,447.4V452.9M84.09,440.9V451.8M84.76,441.4V447.4M85.44,441.0V449.7M86.11,444.8V450.4M86.78,445.4V452.0M87.45,446.9V460.2M88.13,454.3V465.2M88.80,460.9V471.8M89.47,465.9V473.1M90.15,469.9V478.1M90.82,471.6V477.9M91.49,472.6V484.8M92.16,479.2V494.6M92.84,490.2V495.5M93.51,490.5V501.3M94.18,497.1V509.6M94.85,501.6V508.5M95.53,493.5V509.5M96.20,479.7V497.4M96.87,479.3V486.4M97.55,478.7V486.7M98.22,481.5V486.0M98.89,482.4V498.4M99.56,489.7V495.3M100.24,489.4V494.9M100.91,482.7V495.4M101.58,476.6V489.1M102.26,467.3V481.9M102.93,461.2V473.1M103.60,460.5V464.4M104.27,458.5V469.9M104.95,461.7V467.4M105.62,460.0V469.3M106.29,460.8V470.3M106.97,460.6V469.2M107.64,460.9V469.1M108.31,458.7V464.8M108.98,460.6V470.6M109.66,465.1V474.2M110.33,470.7V474.5M111.00,469.4V478.3M111.68,473.8V479.2M112.35,469.8V479.6M113.02,472.6V480.1M113.69,469.2V478.7M114.37,469.1V478.8M115.04,473.7V477.0M115.71,467.7V477.2M116.39,470.4V475.8M117.06,469.3V477.3M117.73,472.2V476.7M118.40,470.0V474.7M119.08,465.9V472.5M119.75,462.5V469.9M120.42,461.0V466.2M121.10,458.0V466.6M121.77,454.8V460.1M122.44,451.6V456.8M123.11,448.1V457.0M123.79,447.6V452.6M124.46,442.7V453.7M125.13,442.6V450.3M125.81,444.1V450.9M126.48,444.5V450.3M127.15,442.2V448.0M127.82,442.1V451.5M128.50,442.0V445.7M129.17,440.7V445.8M129.84,437.4V443.6M130.52,434.5V447.4M131.19,443.3V449.7M131.86,438.5V447.6M132.53,434.8V444.5M133.21,436.3V443.6M133.88,436.4V446.9M134.55,441.0V448.4M135.22,443.2V454.2M135.90,449.0V459.7M136.57,450.5V457.3M137.24,451.6V459.3M137.92,456.9V465.8M138.59,463.8V469.2M139.26,466.6V473.6M139.93,469.9V477.8M140.61,471.6V486.2M141.28,477.2V484.8M141.95,469.8V480.5M142.63,466.9V473.3M143.30,464.7V472.6M143.97,460.5V469.4M144.64,454.9V464.7M145.32,452.1V460.3M145.99,448.3V461.7M146.66,452.5V462.0M147.34,458.2V461.4M148.01,459.0V461.5M148.68,456.4V462.7M149.35,455.8V471.1M150.03,461.2V473.1M150.70,462.4V466.4M151.37,457.2V468.2M152.05,458.1V463.0M152.72,455.1V463.2M153.39,451.4V459.5M154.06,453.2V462.4M154.74,455.4V459.1M155.41,454.2V457.5M156.08,455.0V458.3M156.76,455.4V459.9M157.43,454.9V460.3M158.10,455.9V461.4M158.77,458.4V469.5M159.45,466.9V469.4M160.12,467.1V472.3M160.79,467.5V472.0M161.47,466.6V470.9M162.14,467.1V470.8M162.81,465.7V469.5M163.48,465.1V468.1M164.16,465.8V468.7M164.83,466.0V471.2M165.50,469.5V472.8M166.18,470.1V473.1M166.85,468.1V474.0M167.52,471.5V475.5M168.19,471.9V476.9M168.87,472.9V476.5M169.54,472.2V475.5M170.21,472.8V476.6M170.89,472.0V479.5M171.56,476.6V479.3M172.23,477.5V481.3M172.90,477.6V481.8M173.58,477.8V481.0M174.25,478.3V483.7M174.92,475.6V482.8M175.59,475.2V478.5M176.27,474.7V477.0M176.94,474.4V476.9M177.61,471.0V478.4M178.29,470.3V474.3M178.96,467.6V473.3M179.63,465.9V470.8M180.30,465.0V468.4M180.98,461.6V466.4M181.65,461.7V465.9M182.32,459.3V464.7M183.00,455.5V461.1M183.67,455.2V459.8M184.34,454.5V461.3M185.01,457.2V460.6M185.69,455.6V460.5M186.36,458.1V461.9M187.03,459.1V461.2M187.71,458.7V461.7M188.38,457.5V462.0M189.05,458.0V463.3M189.72,459.9V463.8M190.40,458.9V463.1M191.07,456.9V462.8M191.74,455.2V459.6M192.42,455.5V458.9M193.09,455.2V459.5M193.76,453.3V458.9M194.43,453.7V456.4M195.11,452.3V458.2M195.78,451.6V454.9M196.45,449.5V455.0M197.13,448.4V454.5M197.80,448.1V451.6M198.47,447.9V452.8M199.14,446.9V452.0M199.82,446.7V452.4M200.49,447.1V450.9M201.16,447.6V450.4M201.84,444.5V450.8M202.51,443.9V447.1M203.18,441.3V448.2M203.85,441.8V445.3M204.53,439.2V444.2M205.20,440.4V443.5M205.87,437.5V442.8M206.55,434.2V440.5M207.22,435.9V440.2M207.89,436.6V441.3M208.56,437.9V443.3M209.24,441.1V447.3M209.91,444.0V450.6M210.58,448.6V450.7M211.26,444.7V450.9M211.93,445.3V450.3M212.60,446.0V448.8M213.27,444.3V450.1M213.95,443.5V447.2M214.62,443.7V447.7M215.29,444.2V446.6M215.96,443.8V446.6M216.64,443.3V448.2M217.31,445.1V449.1M217.98,445.3V448.3M218.66,443.8V448.2M219.33,444.1V447.3M220.00,444.0V446.8M220.67,444.8V447.4M221.35,444.8V447.4M222.02,444.7V450.3M222.69,444.0V447.3M223.37,442.9V447.2M224.04,443.4V447.4M224.71,443.5V448.9M225.38,444.0V447.9M226.06,443.2V448.9M226.73,445.7V449.1M227.40,445.3V448.4M228.08,446.8V452.8M228.75,448.8V453.3M229.42,448.1V451.0M230.09,448.5V451.7M230.77,448.5V452.8M231.44,447.3V450.7M232.11,448.1V452.9M232.79,446.9V451.7M233.46,445.5V450.7M234.13,445.2V450.8M234.80,443.6V446.6M235.48,444.0V446.7M236.15,440.8V448.5M236.82,439.1V443.1M237.50,440.1V442.9M238.17,439.8V444.5M238.84,436.6V443.3M239.51,438.7V442.9M240.19,437.6V443.2M240.86,435.2V442.6M241.53,435.0V438.8M242.21,433.9V438.1M242.88,430.8V436.2M243.55,431.1V432.5M244.22,428.7V432.4M244.90,428.3V430.6M245.57,427.8V433.2M246.24,428.5V431.3M246.92,425.8V431.6M247.59,425.4V430.0M248.26,426.1V430.3M248.93,425.8V429.1M249.61,425.9V429.7M250.28,426.5V429.3M250.95,424.0V428.4M251.63,424.5V426.2M252.30,424.6V427.1M252.97,424.3V428.0M253.64,420.1V426.8M254.32,420.7V423.5M254.99,421.2V423.8M255.66,421.3V427.0M256.33,421.6V427.3M257.01,419.7V425.9M257.68,418.1V424.9M258.35,419.2V422.0M259.03,419.8V422.8M259.70,420.0V422.1M260.37,419.4V425.3M261.04,418.2V425.6M261.72,420.5V423.2M262.39,420.8V424.5M263.06,421.9V424.4M263.74,421.0V423.5M264.41,421.8V427.0M265.08,424.6V427.6M265.75,426.1V428.2M266.43,424.3V427.8M267.10,423.4V427.2M267.77,423.3V426.1M268.45,419.0V425.6M269.12,416.5V420.6M269.79,417.4V420.6M270.46,418.3V421.1M271.14,413.5V419.8M271.81,412.1V416.7M272.48,409.5V414.4M273.16,408.6V411.8M273.83,409.5V411.7M274.50,407.4V411.6M275.17,408.1V410.9M275.85,406.3V411.6M276.52,403.2V408.6M277.19,403.1V407.0M277.87,402.5V404.9M278.54,401.4V405.1M279.21,398.6V403.6M279.88,398.9V402.5M280.56,397.1V401.7M281.23,397.5V400.4M281.90,396.8V399.9M282.58,394.3V399.2M283.25,393.1V397.3M283.92,393.5V397.5M284.59,393.1V398.1M285.27,392.0V396.5M285.94,391.5V395.2M286.61,390.5V393.2M287.29,390.1V392.5M287.96,389.9V391.6M288.63,389.6V391.6M289.30,388.5V393.3M289.98,390.3V393.0M290.65,388.7V392.9M291.32,389.2V392.0M292.00,389.1V391.8M292.67,389.7V392.8M293.34,388.9V393.1M294.01,391.3V395.2M294.69,391.2V394.1M295.36,390.8V393.5M296.03,390.1V394.7M296.70,389.3V393.8M297.38,390.7V397.4M298.05,395.6V400.0M298.72,395.1V399.7M299.40,396.6V401.3M300.07,398.4V403.0M300.74,397.4V401.3M301.41,395.4V400.1M302.09,393.9V400.1M302.76,392.7V396.7M303.43,389.3V395.8M304.11,388.8V393.7M304.78,389.9V394.1M305.45,388.2V391.5M306.12,385.4V390.6M306.80,384.9V388.0M307.47,384.4V387.9M308.14,384.0V387.2M308.82,383.9V388.3M309.49,382.2V386.5M310.16,382.0V384.7M310.83,379.2V384.2M311.51,380.6V382.8M312.18,379.5V382.4M312.85,379.3V384.1M313.53,377.1V382.4M314.20,377.2V380.1M314.87,377.7V381.5M315.54,379.3V381.8M316.22,376.8V382.3M316.89,377.2V383.1M317.56,380.3V382.1M318.24,379.5V382.6M318.91,380.7V383.7M319.58,381.8V385.5M320.25,382.6V385.4M320.93,382.8V385.8M321.60,382.4V385.5M322.27,381.9V386.1M322.95,383.0V386.5M323.62,382.5V387.2M324.29,382.7V386.1M324.96,381.5V384.5M325.64,380.7V383.7M326.31,379.5V383.6M326.98,377.9V382.8M327.66,378.7V380.8M328.33,377.5V381.4M329.00,375.9V379.9M329.67,373.4V378.1M330.35,373.0V377.9M331.02,374.4V376.9M331.69,372.1V377.1M332.37,370.5V375.6M333.04,370.3V374.0M333.71,371.8V377.4M334.38,374.2V378.6M335.06,376.1V382.1M335.73,377.8V382.7M336.40,377.7V387.3M337.07,380.2V384.1M337.75,381.1V384.6M338.42,380.8V384.9M339.09,380.4V383.9M339.77,378.6V383.5M340.44,376.7V380.1M341.11,375.4V381.9M341.78,376.2V380.2M342.46,374.0V377.9M343.13,372.5V377.8M343.80,375.1V378.1M344.48,374.1V377.1M345.15,372.2V376.6M345.82,372.1V374.9M346.49,370.3V374.5M347.17,367.6V373.2M347.84,368.2V371.0M348.51,366.4V370.2M349.19,364.5V368.7M349.86,364.9V367.5M350.53,364.6V369.3M351.20,364.9V368.9M351.88,366.3V369.7M352.55,365.1V368.0M353.22,364.6V368.4M353.90,363.3V367.4M354.57,361.8V368.4M355.24,361.8V366.4M355.91,363.6V365.6M356.59,361.1V365.7M357.26,360.2V364.6M357.93,359.2V363.0M358.61,359.6V363.1M359.28,360.1V363.3M359.95,358.8V364.1M360.62,358.4V361.9M361.30,359.1V362.1M361.97,359.0V362.2M362.64,359.5V363.1M363.32,359.2V363.4M363.99,359.8V364.9M364.66,358.8V362.3M365.33,359.0V362.4M366.01,358.8V362.5M366.68,357.0V362.5M367.35,359.8V364.8M368.03,362.4V365.9M368.70,363.5V366.0M369.37,363.9V367.0M370.04,363.9V368.7M370.72,363.0V368.7M371.39,367.1V372.1M372.06,368.3V371.1M372.74,366.6V371.3M373.41,366.2V370.0M374.08,364.3V367.7M374.75,364.8V367.9M375.43,365.4V366.8M376.10,362.3V370.0M376.77,362.2V365.8M377.44,361.8V364.5M378.12,360.0V363.5M378.79,359.0V362.1M379.46,357.6V362.6M380.14,356.1V360.5M380.81,355.2V357.9M381.48,355.1V357.8M382.15,354.3V359.6M382.83,357.3V360.1M383.50,357.8V361.9M384.17,355.8V361.0M384.85,356.6V361.3M385.52,357.1V362.4M386.19,354.4V360.8M386.86,351.9V357.6M387.54,349.6V354.4M388.21,349.8V353.4M388.88,348.3V352.4M389.56,347.1V351.9M390.23,349.6V354.4M390.90,349.6V356.1M391.57,352.4V355.4M392.25,353.2V355.9M392.92,353.9V358.9M393.59,354.1V359.9M394.27,355.8V359.9M394.94,358.1V360.6M395.61,357.4V361.0M396.28,357.8V362.3M396.96,360.5V364.2M397.63,361.8V363.5M398.30,361.8V366.4M398.98,362.5V367.6M399.65,365.4V367.8M400.32,364.8V373.3M400.99,366.5V368.7M401.67,366.2V369.1M402.34,362.1V368.8M403.01,360.9V364.9M403.69,360.9V364.4M404.36,359.5V362.8M405.03,358.9V362.3M405.70,355.1V362.5M406.38,354.6V358.4M407.05,351.8V358.5M407.72,353.6V355.9M408.40,353.4V355.0M409.07,352.2V355.8M409.74,351.8V354.6M410.41,352.1V356.1M411.09,353.9V357.6M411.76,355.2V358.5M412.43,355.4V358.2M413.11,355.0V359.2M413.78,353.7V358.9M414.45,353.4V356.2M415.12,353.5V356.5M415.80,349.4V356.3M416.47,349.9V354.1M417.14,349.8V353.8M417.81,349.7V352.3M418.49,349.5V352.5M419.16,349.2V352.9M419.83,345.5V352.0M420.51,344.2V349.3M421.18,344.2V349.7M421.85,345.4V350.9M422.52,348.3V354.0M423.20,349.0V352.8M423.87,348.4V354.5M424.54,350.9V354.5M425.22,352.2V356.6M425.89,353.9V357.8M426.56,355.5V361.8M427.23,356.9V360.5M427.91,357.3V363.5M428.58,361.9V363.9M429.25,361.6V364.5M429.93,361.8V366.2M430.60,363.7V367.8M431.27,365.6V370.6M431.94,367.3V370.5M432.62,368.2V373.9M433.29,369.5V372.3M433.96,370.2V374.2M434.64,370.2V375.8M435.31,374.2V378.9M435.98,371.2V378.8M436.65,375.0V379.5M437.33,371.4V377.1M438.00,367.8V373.9M438.67,367.1V371.5M439.35,364.5V368.8M440.02,360.0V366.7M440.69,361.5V364.5M441.36,360.1V364.9M442.04,355.0V361.7M442.71,353.8V362.0M443.38,359.2V362.9M444.06,359.4V362.5M444.73,359.4V361.9M445.40,359.8V361.4M446.07,359.3V361.8M446.75,356.4V360.9M447.42,356.0V360.7M448.09,355.3V359.2M448.77,355.3V359.1M449.44,355.4V358.8M450.11,353.3V357.1M450.78,352.9V355.3M451.46,351.2V354.7M452.13,350.2V354.9M452.80,350.8V354.3M453.48,351.3V354.1M454.15,349.7V353.8M454.82,350.8V354.7M455.49,351.0V355.8M456.17,352.5V356.0M456.84,352.8V358.2M457.51,355.1V357.5M458.19,353.6V357.5M458.86,354.9V358.4M459.53,356.2V359.0M460.20,356.4V358.8M460.88,355.2V360.2M461.55,357.8V360.2M462.22,355.9V359.5M462.89,356.4V360.7M463.57,359.3V362.7M464.24,359.6V362.4M464.91,356.2V362.1M465.59,356.6V359.1M466.26,354.7V358.6M466.93,355.1V357.2M467.60,354.6V358.3M468.28,352.9V357.5M468.95,351.9V356.9M469.62,353.4V356.5M470.30,353.5V358.1M470.97,354.9V359.1M471.64,354.7V359.3M472.31,354.1V358.0M472.99,352.8V357.6M473.66,352.8V356.7M474.33,352.9V357.4M475.01,354.3V357.5M475.68,351.8V356.9M476.35,351.6V356.3M477.02,352.4V355.7M477.70,354.2V357.6M478.37,354.5V357.0M479.04,352.2V358.3M479.72,350.4V356.0M480.39,351.3V353.4M481.06,349.1V352.9M481.73,345.9V351.3M482.41,345.5V350.1M483.08,344.4V347.8M483.75,342.3V347.1M484.43,340.0V343.7M485.10,339.8V342.6M485.77,337.4V341.3M486.44,337.2V340.6M487.12,336.8V340.6M487.79,338.3V342.1M488.46,339.2V342.5M489.14,338.5V342.5M489.81,339.9V342.3M490.48,339.2V343.1M491.15,340.7V343.2M491.83,341.5V344.6M492.50,341.3V346.3M493.17,342.0V345.4M493.85,340.3V347.2M494.52,344.3V346.0M495.19,344.3V348.6M495.86,345.6V348.7M496.54,345.9V349.5M497.21,346.5V348.8M497.88,346.2V351.6M498.56,347.5V352.0M499.23,350.0V352.4M499.90,349.7V353.3M500.57,347.0V352.9M501.25,345.1V350.0M501.92,342.4V348.2M502.59,341.8V344.7M503.26,340.9V344.4M503.94,336.8V344.1M504.61,333.5V338.8M505.28,332.9V336.8M505.96,329.9V335.8M506.63,328.7V331.4M507.30,327.5V331.9M507.97,328.5V331.3M508.65,329.1V333.1M509.32,331.3V334.7M509.99,330.6V334.3M510.67,330.2V332.5M511.34,330.2V334.6M512.01,331.7V334.7M512.68,330.8V335.0M513.36,332.7V335.8M514.03,331.6V334.4M514.70,331.4V335.5M515.38,330.0V335.6M516.05,329.4V333.7M516.72,329.6V332.5M517.39,327.3V331.2M518.07,324.7V330.4M518.74,324.9V328.4M519.41,325.4V330.1M520.09,323.2V329.1M520.76,321.2V326.3M521.43,320.4V324.6M522.10,317.5V323.8M522.78,318.5V321.7M523.45,317.7V321.6M524.12,318.7V321.7M524.80,318.4V321.9M525.47,316.3V321.6M526.14,315.4V320.3M526.81,317.3V320.3M527.49,317.0V321.8M528.16,314.3V321.3M528.83,314.3V318.0M529.51,310.9V316.1M530.18,308.1V313.6M530.85,307.8V311.4M531.52,309.0V311.9M532.20,307.8V311.3M532.87,306.3V310.1M533.54,306.8V309.6M534.22,303.9V310.1M534.89,303.4V305.6M535.56,302.1V305.4M536.23,299.7V303.9M536.91,298.3V303.2M537.58,298.1V301.0M538.25,296.9V300.4M538.92,293.7V300.3M539.60,294.7V297.4M540.27,291.7V302.9M540.94,295.9V316.9M541.62,300.8V311.2M542.29,307.3V316.2M542.96,307.7V316.3M543.63,307.5V309.6M544.31,307.4V312.7M544.98,304.5V310.4M545.65,304.7V306.8M546.33,302.8V306.2M547.00,302.1V304.8M547.67,301.6V306.9M548.34,302.4V305.0M549.02,300.6V306.4M549.69,299.5V303.0M550.36,298.4V302.2M551.04,297.2V301.4M551.71,296.9V300.0M552.38,294.1V300.1M553.05,295.5V297.8M553.73,293.5V297.3M554.40,293.9V298.1M555.07,293.7V298.5M555.75,291.7V296.4M556.42,290.4V294.6M557.09,288.0V294.2M557.76,291.9V293.3M558.44,290.2V293.6M559.11,290.5V298.4M559.78,293.8V297.4M560.46,291.8V295.8M561.13,291.7V294.2M561.80,291.0V294.3M562.47,290.5V293.8M563.15,290.1V294.5M563.82,291.1V296.1M564.49,293.1V297.5M565.17,295.5V300.7M565.84,294.3V299.1M566.51,294.4V299.2M567.18,293.8V298.4M567.86,291.2V296.5M568.53,290.3V292.8M569.20,288.2V292.4M569.88,286.6V289.8M570.55,286.6V289.2M571.22,285.8V290.2M571.89,285.0V289.1M572.57,284.6V288.9M573.24,282.5V287.8M573.91,285.1V288.2M574.59,282.7V286.8M575.26,283.7V286.2M575.93,281.5V286.4M576.60,281.6V284.7M577.28,282.5V285.3M577.95,280.9V285.1M578.62,280.1V283.9M579.29,280.1V284.1M579.97,281.4V284.5M580.64,280.3V283.5M581.31,279.7V283.1M581.99,280.8V284.2M582.66,279.3V285.2M583.33,277.7V280.9M584.00,278.2V284.3M584.68,279.7V283.3M585.35,279.3V282.3M586.02,278.1V281.0M586.70,277.8V280.2M587.37,277.3V281.4M588.04,278.5V282.2M588.71,277.9V281.5M589.39,276.2V279.6M590.06,276.0V279.8M590.73,276.5V279.6M591.41,276.2V279.9M592.08,274.3V281.8M592.75,279.4V283.3M593.42,279.3V281.8M594.10,280.0V283.2M594.77,279.9V282.0M595.44,279.7V282.7M596.12,280.1V282.0M596.79,278.9V281.8M597.46,279.2V281.8M598.13,278.2V281.3M598.81,277.2V280.7M599.48,276.0V279.0M600.15,273.9V277.7M600.83,272.1V276.7M601.50,274.3V276.8M602.17,273.8V277.8M602.84,270.3V277.2M603.52,269.7V272.2M604.19,268.1V272.9M604.86,265.4V271.7M605.54,266.3V270.3M606.21,264.6V270.6M606.88,262.9V267.6M607.55,263.6V267.8M608.23,261.0V267.2M608.90,259.5V263.5M609.57,259.2V263.0M610.25,257.9V263.0M610.92,257.4V260.2M611.59,255.5V260.3M612.26,253.0V258.5M612.94,253.0V258.4M613.61,252.6V256.5M614.28,252.5V255.9M614.96,251.2V254.7M615.63,250.7V256.6M616.30,251.4V253.6M616.97,248.6V253.7M617.65,246.0V253.0M618.32,245.0V248.4M618.99,243.5V248.3M619.66,244.1V247.1M620.34,243.6V248.7M621.01,240.1V245.3M621.68,241.1V245.9M622.36,239.5V244.7M623.03,240.8V243.4M623.70,239.6V242.9M624.37,238.5V242.6M625.05,238.5V241.6M625.72,236.7V240.8M626.39,234.2V240.1M627.07,235.6V237.6M627.74,233.2V236.9M628.41,234.7V244.1M629.08,239.7V244.1M629.76,238.3V246.7M630.43,235.2V240.6M631.10,232.3V237.6M631.78,229.2V236.1M632.45,228.3V231.9M633.12,227.7V231.7M633.79,225.9V231.2M634.47,227.0V229.1M635.14,225.5V229.0M635.81,224.1V228.2M636.49,220.3V227.0M637.16,221.8V225.2M637.83,221.8V225.1M638.50,222.1V225.1M639.18,218.9V225.1M639.85,218.4V222.4M640.52,219.4V222.9M641.20,217.9V223.7M641.87,219.3V223.5M642.54,214.3V222.2M643.21,216.1V224.4M643.89,220.6V226.3M644.56,218.0V223.2M645.23,218.8V223.0M645.91,220.9V225.2M646.58,222.6V227.2M647.25,220.9V227.2M647.92,224.4V232.2M648.60,229.4V231.7M649.27,229.4V236.6M649.94,231.1V235.7M650.62,232.6V236.5M651.29,234.0V237.5M651.96,233.6V237.8M652.63,231.9V239.8M653.31,236.6V241.6M653.98,238.4V244.1M654.65,232.4V241.0M655.33,230.7V235.7M656.00,231.3V235.6M656.67,231.6V237.0M657.34,232.5V234.4M658.02,231.8V236.5M658.69,233.2V242.0M659.36,238.9V243.5M660.03,239.4V246.1M660.71,241.0V253.6M661.38,245.3V249.3M662.05,247.4V254.6M662.73,247.9V254.7M663.40,246.2V250.1M664.07,244.0V248.5M664.74,243.0V250.6M665.42,247.6V250.9M666.09,245.8V250.1M666.76,244.9V250.3M667.44,243.3V246.5M668.11,241.2V246.2M668.78,241.1V243.7M669.45,238.9V243.3M670.13,237.4V241.1M670.80,236.3V242.4M671.47,233.7V238.0M672.15,234.7V239.5M672.82,233.6V237.8M673.49,233.0V235.4M674.16,232.7V236.0M674.84,233.1V235.9M675.51,231.3V234.6M676.18,231.8V234.9M676.86,231.3V235.1M677.53,231.2V233.9M678.20,230.1V233.0M678.87,230.2V232.7M679.55,230.9V235.5M680.22,228.6V234.5M680.89,229.1V231.7M681.57,228.8V231.7M682.24,230.1V232.7M682.91,229.7V232.0M683.58,229.2V232.9M684.26,229.7V232.7M684.93,230.1V233.4M685.60,229.8V232.8M686.28,230.3V233.5M686.95,230.3V233.2M687.62,228.0V232.3M688.29,228.8V231.3M688.97,227.0V232.4M689.64,227.8V231.3M690.31,226.2V231.2M690.99,225.1V229.4M691.66,225.0V227.3M692.33,224.7V229.5M693.00,224.9V228.5M693.68,224.0V228.3M694.35,224.3V227.8M695.02,223.2V227.2M695.70,223.0V226.4M696.37,222.0V224.6M697.04,220.6V224.9M697.71,220.6V225.1M698.39,219.6V222.6M699.06,219.5V221.6M699.73,218.3V222.4M700.40,219.1V221.7M701.08,218.7V222.9M701.75,219.1V222.2M702.42,218.7V222.7M703.10,219.4V221.3M703.77,219.3V224.7M704.44,221.3V229.4M705.11,223.6V226.1M705.79,223.6V229.2M706.46,226.4V229.9M707.13,225.3V230.2M707.81,226.6V230.2M708.48,224.7V230.8M709.15,223.1V236.7M709.82,233.9V238.1M710.50,229.6V249.6M711.17,242.0V245.2M711.84,242.0V244.9M712.52,241.8V254.3M713.19,251.9V257.4M713.86,247.3V261.1M714.53,253.9V258.6M715.21,250.6V256.7M715.88,250.4V253.9M716.55,243.8V254.1M717.23,241.4V248.2M717.90,239.7V248.2M718.57,239.2V245.7M719.24,235.2V242.9M719.92,234.8V237.8M720.59,233.9V236.8M721.26,233.8V235.9M721.94,233.7V237.7M722.61,232.5V236.9M723.28,231.9V235.0M723.95,231.8V236.6M724.63,234.6V241.1M725.30,236.6V241.4M725.97,233.9V238.7M726.65,232.2V236.0M727.32,226.9V234.9M727.99,225.7V230.6M728.66,224.3V229.7M729.34,227.7V231.9M730.01,225.6V232.2M730.68,223.4V227.5M731.36,223.2V226.4M732.03,224.0V228.2M732.70,226.3V231.9M733.37,229.5V233.9M734.05,230.8V237.4M734.72,230.2V235.1M735.39,232.7V236.0M736.07,229.6V234.2M736.74,225.1V232.7M737.41,224.7V227.7M738.08,224.3V228.7M738.76,226.9V229.0M739.43,225.9V231.8M740.10,224.8V228.9M740.77,223.8V228.0M741.45,223.3V225.7M742.12,223.4V226.9M742.79,222.6V228.5M743.47,222.6V225.8M744.14,221.8V225.2M744.81,221.2V224.0M745.48,218.7V223.1M746.16,218.6V222.2M746.83,218.9V222.5M747.50,217.4V221.9M748.18,217.0V220.7M748.85,217.0V220.8M749.52,214.5V218.5M750.19,211.8V217.4M750.87,210.4V214.7M751.54,210.0V213.6M752.21,209.5V213.2M752.89,209.1V212.3M753.56,209.3V212.6M754.23,209.7V213.4M754.90,208.2V213.1M755.58,206.5V210.8M756.25,205.9V209.0M756.92,206.1V209.1M757.60,204.4V208.9M758.27,203.3V208.5M758.94,204.2V206.6M759.61,203.8V206.7M760.29,203.4V206.6M760.96,203.8V206.0M761.63,202.0V205.8M762.31,201.7V206.3M762.98,204.1V205.8M763.65,203.3V205.9M764.32,204.1V206.2M765.00,201.8V208.2M765.67,203.8V207.8M766.34,203.9V209.9M767.02,206.8V209.9M767.69,205.9V208.7M768.36,204.9V208.3M769.03,205.6V208.9M769.71,206.1V210.6M770.38,208.0V210.1M771.05,206.0V209.9M771.73,203.8V208.9M772.40,203.2V205.6M773.07,204.0V206.1M773.74,202.6V206.3M774.42,203.4V206.3M775.09,201.9V205.0M775.76,199.1V204.6M776.44,198.9V202.0M777.11,199.6V202.8M777.78,196.4V201.2M778.45,196.1V198.0M779.13,194.7V198.0M779.80,196.0V198.5M780.47,195.2V198.5M781.14,192.8V198.2M781.82,190.9V196.5M782.49,192.1V195.7M783.16,192.0V194.0M783.84,189.4V193.7M784.51,189.8V193.2M785.18,187.2V193.5M785.85,185.9V191.1M786.53,186.5V191.2M787.20,188.3V192.3M787.87,187.8V190.0M788.55,187.6V190.9M789.22,186.3V191.2M789.89,186.1V190.5M790.56,183.7V189.2M791.24,184.7V190.0M791.91,186.5V193.5M792.58,191.1V198.4M793.26,191.8V197.7M793.93,191.9V195.0M794.60,191.1V193.3M795.27,189.5V192.9M795.95,189.2V193.5M796.62,189.5V193.2M797.29,187.6V191.5M797.97,184.5V190.2M798.64,184.0V187.5M799.31,182.4V188.1M799.98,183.2V185.5M800.66,181.7V186.2M801.33,180.4V189.3M802.00,186.3V195.1M802.68,180.6V202.2M803.35,195.8V197.8M804.02,193.8V197.7M804.69,189.7V195.9M805.37,186.6V192.2M806.04,185.3V189.6M806.71,181.1V187.7M807.39,177.7V184.5M808.06,175.5V179.8M808.73,173.5V178.1M809.40,172.0V176.8M810.08,171.8V176.5M810.75,171.3V174.3M811.42,169.3V173.9M812.10,169.4V171.6M812.77,167.6V174.0M813.44,167.2V173.3M814.11,167.2V170.9M814.79,165.2V169.8M815.46,165.4V167.0M816.13,163.4V166.6M816.81,161.4V166.2M817.48,159.2V169.1M818.15,165.7V169.9M818.82,167.7V173.0M819.50,170.1V175.6M820.17,172.7V177.9M820.84,172.7V177.4M821.51,172.2V176.8M822.19,172.5V177.5M822.86,173.0V179.9M823.53,174.6V179.6M824.21,170.7V178.5" stroke="#000" stroke-width="2.1" fill="none"/>
<path d="M74.00,426.6V434.4M78.03,425.5V432.1M79.38,430.2V442.7M80.05,438.9V446.6M82.07,439.9V443.7M82.74,441.3V452.2M84.76,442.0V446.8M85.44,441.6V449.1M86.78,446.0V451.4M87.45,447.5V459.6M88.13,454.9V464.6M88.80,461.5V471.2M89.47,466.5V472.5M90.15,470.5V477.5M91.49,473.2V484.2M92.16,479.8V494.0M92.84,490.8V494.9M93.51,491.1V500.7M94.18,497.7V509.0M94.85,502.2V507.9M96.87,479.9V485.8M97.55,479.3V486.1M98.89,483.0V497.8M100.24,490.0V494.3M104.27,459.1V469.3M104.95,462.3V466.8M106.29,461.4V469.7M106.97,461.2V468.6M108.98,461.2V470.0M109.66,465.7V473.6M111.00,470.0V477.7M111.68,474.4V478.6M113.02,473.2V479.5M114.37,469.7V478.2M117.06,469.9V476.7M125.13,443.2V449.7M125.81,444.7V450.3M128.50,442.6V445.1M130.52,435.1V446.8M133.21,436.9V443.0M133.88,437.0V446.3M134.55,441.6V447.8M135.22,443.8V453.6M135.90,449.6V459.1M137.24,452.2V458.7M137.92,457.5V465.2M138.59,464.4V468.6M139.26,467.2V473.0M139.93,470.5V477.2M140.61,472.2V485.6M145.99,448.9V461.1M147.34,458.8V460.8M149.35,456.4V470.5M150.70,463.0V465.8M152.05,458.7V462.4M154.06,453.8V461.8M156.08,455.6V457.7M156.76,456.0V459.3M158.10,456.5V460.8M158.77,459.0V468.9M160.12,467.7V471.7M164.83,466.6V470.6M165.50,470.1V472.2M166.85,468.7V473.4M167.52,472.1V474.9M168.19,472.5V476.3M170.89,472.6V478.9M172.23,478.1V480.7M174.25,478.9V483.1M184.34,455.1V460.7M185.01,457.8V460.0M186.36,458.7V461.3M188.38,458.1V461.4M189.05,458.6V462.7M198.47,448.5V452.2M199.82,447.3V451.8M207.22,436.5V439.6M207.89,437.2V440.7M208.56,438.5V442.7M209.24,441.7V446.7M209.91,444.6V450.0M211.93,445.9V449.7M216.64,443.9V447.6M219.33,444.7V446.7M224.04,444.0V446.8M225.38,444.6V447.3M226.06,443.8V448.3M227.40,445.9V447.8M228.08,447.4V452.2M230.09,449.1V451.1M235.48,444.6V446.1M237.50,440.7V442.3M239.51,439.3V442.3M241.53,435.6V438.2M245.57,428.4V432.6M255.66,421.9V426.4M260.37,420.0V424.7M261.72,421.1V422.6M262.39,421.4V423.9M264.41,422.4V426.4M265.08,425.2V427.0M269.79,418.0V420.0M275.17,408.7V410.3M289.30,389.1V392.7M292.00,389.7V391.2M293.34,389.5V392.5M294.01,391.9V394.6M296.70,389.9V393.2M297.38,391.3V396.8M298.05,396.2V399.4M299.40,397.2V400.7M308.14,384.6V386.6M314.87,378.3V380.9M316.89,377.8V382.5M318.91,381.3V383.1M319.58,382.4V384.9M322.95,383.6V385.9M333.04,370.9V373.4M333.71,372.4V376.8M334.38,374.8V378.0M335.06,376.7V381.5M336.40,378.3V386.7M337.07,380.8V383.5M341.11,376.0V381.3M343.13,373.1V377.2M350.53,365.2V368.7M355.24,362.4V365.8M363.32,359.8V362.8M365.33,359.6V361.8M366.68,357.6V361.9M367.35,360.4V364.2M368.70,364.1V365.4M370.72,363.6V368.1M371.39,367.7V371.5M382.15,354.9V359.0M384.85,357.2V360.7M389.56,347.7V351.3M390.23,350.2V353.8M390.90,350.2V355.5M391.57,353.0V354.8M392.92,354.5V358.3M394.27,356.4V359.3M396.28,358.4V361.7M396.96,361.1V363.6M398.30,362.4V365.8M398.98,363.1V367.0M410.41,352.7V355.5M411.09,354.5V357.0M412.43,356.0V357.6M421.18,344.8V349.1M421.85,346.0V350.3M422.52,348.9V353.4M423.87,349.0V353.9M424.54,351.5V353.9M425.22,352.8V356.0M425.89,354.5V357.2M426.56,356.1V361.2M427.91,357.9V362.9M429.93,362.4V365.6M430.60,364.3V367.2M431.27,366.2V370.0M432.62,368.8V373.3M433.96,370.8V373.6M434.64,370.8V375.2M435.31,374.8V378.3M442.71,354.4V361.4M448.77,355.9V358.5M452.80,351.4V353.7M454.82,351.4V354.1M456.17,353.1V355.4M456.84,353.4V357.6M458.86,355.5V357.8M460.88,355.8V359.6M462.89,357.0V360.1M468.95,352.5V356.3M470.30,354.1V357.5M470.97,355.5V358.5M474.33,353.5V356.8M476.35,352.2V355.7M487.79,338.9V341.5M490.48,339.8V342.5M491.15,341.3V342.6M491.83,342.1V344.0M493.85,340.9V346.6M495.19,344.9V348.0M497.88,346.8V351.0M498.56,348.1V351.4M507.30,328.1V331.3M508.65,329.7V332.5M511.34,330.8V334.0M512.68,331.4V334.4M514.70,332.0V334.9M516.05,330.0V333.1M519.41,326.0V329.5M522.78,319.1V321.1M526.14,316.0V319.7M527.49,317.6V321.2M540.27,292.3V302.3M540.94,296.5V316.3M541.62,301.4V310.6M542.29,307.9V315.6M544.31,308.0V312.1M554.40,294.5V297.5M557.09,288.6V293.6M559.11,291.1V297.8M562.47,291.1V293.2M563.82,291.7V295.5M564.49,293.7V296.9M565.17,296.1V300.1M571.89,285.6V288.5M573.24,283.1V287.2M579.29,280.7V283.5M581.99,281.4V283.6M584.00,278.8V283.7M590.06,276.6V279.2M592.08,274.9V281.2M593.42,279.9V281.2M600.83,272.7V276.1M602.17,274.4V277.2M609.57,259.8V262.4M628.41,235.3V243.5M629.08,240.3V243.5M637.16,222.4V224.6M639.85,219.0V221.8M641.20,218.5V223.1M643.21,216.7V223.8M645.23,219.4V222.4M645.91,221.5V224.6M647.25,221.5V226.6M647.92,225.0V231.6M649.27,230.0V236.0M650.62,233.2V235.9M652.63,232.5V239.2M653.31,237.2V241.0M656.00,231.9V235.0M658.02,232.4V235.9M658.69,233.8V241.4M659.36,239.5V242.9M660.03,240.0V245.5M660.71,241.6V253.0M661.38,245.9V248.7M662.05,248.0V254.0M664.74,243.6V250.0M672.15,235.3V238.9M676.18,232.4V234.3M679.55,231.5V234.9M688.29,229.4V230.7M694.35,224.9V227.2M703.77,219.9V224.1M704.44,221.9V228.8M705.11,224.2V225.5M705.79,224.2V228.6M707.81,227.2V229.6M709.15,223.7V236.1M709.82,234.5V237.5M710.50,230.2V249.0M712.52,242.4V253.7M713.19,252.5V256.8M713.86,247.9V260.5M715.88,251.0V253.3M721.94,234.3V237.1M723.95,232.4V236.0M724.63,235.2V240.5M728.66,224.9V229.1M729.34,228.3V231.3M732.03,224.6V227.6M732.70,226.9V231.3M733.37,230.1V233.3M734.72,230.8V234.5M738.08,224.9V228.1M742.12,224.0V226.3M743.47,223.2V225.2M754.23,210.3V212.8M762.31,202.3V205.7M766.34,204.5V209.3M769.71,206.7V210.0M786.53,187.1V190.6M791.24,185.3V189.4M791.91,187.1V192.9M792.58,191.7V197.8M801.33,181.0V188.7M802.00,186.9V194.5M802.68,181.2V201.6M812.77,168.2V173.4M817.48,159.8V168.5M818.15,166.3V169.3M818.82,168.3V172.4M819.50,170.7V175.0M820.17,173.3V177.3M822.86,173.6V179.3" stroke="#c01818" stroke-width="1.2" fill="none"/>
<path d="M47.8,460.7 L48.4,460.2 L49.1,459.5 L49.8,459.1 L50.4,458.6 L51.1,458.1 L51.8,457.6 L52.5,456.8 L53.1,456.1 L53.8,455.3 L54.5,454.7 L55.2,454.0 L55.8,453.3 L56.5,452.5 L57.2,451.5 L57.8,450.5 L58.5,449.5 L59.2,448.7 L59.9,447.8 L60.5,446.7 L61.2,445.8 L61.9,444.9 L62.6,443.9 L63.2,443.0 L63.9,441.9 L64.6,440.4 L65.3,439.3 L65.9,437.9 L66.6,436.4 L67.3,435.2 L67.9,433.9 L68.6,432.7 L69.3,431.9 L70.0,430.8 L70.6,429.5 L71.3,427.9 L72.0,426.0 L72.7,425.4 L73.3,425.8 L74.0,426.4 L74.7,426.8 L75.3,427.0 L76.0,427.0 L76.7,427.0 L77.4,427.1 L78.0,427.4 L78.7,427.8 L79.4,428.8 L80.1,429.9 L80.7,430.9 L81.4,431.7 L82.1,432.7 L82.7,434.2 L83.4,435.6 L84.1,436.2 L84.8,436.9 L85.4,437.8 L86.1,438.7 L86.8,439.6 L87.5,441.1 L88.1,442.8 L88.8,444.7 L89.5,446.7 L90.1,448.9 L90.8,450.9 L91.5,453.2 L92.2,455.8 L92.8,458.4 L93.5,461.1 L94.2,464.0 L94.9,466.8 L95.5,468.9 L96.2,470.0 L96.9,471.1 L97.5,472.3 L98.2,473.4 L98.9,474.9 L99.6,476.2 L100.2,477.5 L100.9,478.3 L101.6,478.3 L102.3,477.4 L102.9,475.8 L103.6,474.2 L104.3,473.2 L104.9,472.5 L105.6,471.6 L106.3,471.0 L107.0,470.7 L107.6,469.8 L108.3,468.9 L109.0,468.8 L109.7,469.1 L110.3,469.5 L111.0,470.0 L111.7,470.7 L112.3,471.0 L113.0,471.6 L113.7,471.7 L114.4,472.0 L115.0,472.3 L115.7,472.4 L116.4,472.5 L117.1,472.7 L117.7,472.8 L118.4,472.6 L119.1,472.1 L119.7,471.3 L120.4,470.5 L121.1,469.3 L121.8,467.8 L122.4,466.3 L123.1,464.6 L123.8,462.9 L124.5,460.9 L125.1,459.3 L125.8,458.0 L126.5,456.9 L127.2,455.7 L127.8,454.3 L128.5,453.3 L129.2,452.2 L129.8,450.7 L130.5,450.2 L131.2,449.7 L131.9,448.8 L132.5,447.8 L133.2,447.1 L133.9,446.9 L134.6,446.9 L135.2,447.2 L135.9,447.9 L136.6,448.4 L137.2,449.3 L137.9,450.5 L138.6,451.9 L139.3,453.4 L139.9,455.0 L140.6,457.0 L141.3,458.6 L142.0,459.7 L142.6,460.7 L143.3,461.2 L144.0,461.2 L144.6,460.9 L145.3,460.1 L146.0,459.9 L146.7,459.8 L147.3,459.9 L148.0,459.9 L148.7,459.9 L149.4,460.7 L150.0,461.0 L150.7,461.3 L151.4,461.2 L152.0,461.3 L152.7,460.9 L153.4,460.1 L154.1,459.8 L154.7,459.4 L155.4,459.1 L156.1,458.9 L156.8,458.9 L157.4,458.7 L158.1,458.8 L158.8,459.6 L159.4,460.3 L160.1,461.2 L160.8,461.9 L161.5,462.5 L162.1,463.0 L162.8,463.4 L163.5,463.8 L164.2,464.1 L164.8,464.7 L165.5,465.4 L166.2,465.9 L166.8,466.5 L167.5,467.2 L168.2,467.9 L168.9,468.5 L169.5,469.0 L170.2,469.5 L170.9,470.2 L171.6,470.9 L172.2,471.7 L172.9,472.4 L173.6,473.0 L174.2,473.7 L174.9,474.1 L175.6,474.2 L176.3,474.4 L176.9,474.5 L177.6,474.3 L178.3,473.9 L179.0,473.5 L179.6,473.0 L180.3,472.2 L181.0,471.3 L181.7,470.5 L182.3,469.4 L183.0,468.2 L183.7,467.0 L184.3,466.1 L185.0,465.5 L185.7,464.8 L186.4,464.3 L187.0,463.9 L187.7,463.5 L188.4,463.2 L189.1,463.1 L189.7,462.9 L190.4,462.7 L191.1,462.2 L191.7,461.7 L192.4,461.3 L193.1,460.9 L193.8,460.3 L194.4,459.7 L195.1,459.1 L195.8,458.5 L196.5,457.9 L197.1,457.1 L197.8,456.3 L198.5,455.7 L199.1,454.9 L199.8,454.4 L200.5,453.9 L201.2,453.4 L201.8,452.5 L202.5,451.8 L203.2,451.0 L203.9,450.2 L204.5,449.3 L205.2,448.5 L205.9,447.6 L206.5,446.5 L207.2,445.6 L207.9,445.0 L208.6,444.7 L209.2,444.8 L209.9,445.2 L210.6,445.7 L211.3,445.8 L211.9,446.0 L212.6,446.1 L213.3,446.1 L213.9,446.0 L214.6,446.0 L215.3,445.9 L216.0,445.8 L216.6,445.9 L217.3,446.1 L218.0,446.1 L218.7,446.0 L219.3,445.9 L220.0,446.0 L220.7,446.0 L221.3,446.0 L222.0,446.0 L222.7,445.9 L223.4,445.8 L224.0,445.9 L224.7,445.8 L225.4,445.8 L226.1,446.1 L226.7,446.1 L227.4,446.2 L228.1,446.6 L228.7,446.9 L229.4,447.2 L230.1,447.5 L230.8,447.7 L231.4,447.9 L232.1,448.1 L232.8,448.3 L233.5,448.1 L234.1,447.9 L234.8,447.6 L235.5,447.5 L236.1,447.0 L236.8,446.4 L237.5,445.9 L238.2,445.5 L238.8,444.9 L239.5,444.7 L240.2,444.3 L240.9,443.5 L241.5,442.9 L242.2,442.1 L242.9,441.0 L243.6,440.1 L244.2,439.0 L244.9,438.0 L245.6,437.2 L246.2,436.4 L246.9,435.6 L247.6,434.8 L248.3,434.1 L248.9,433.4 L249.6,432.9 L250.3,432.4 L251.0,431.7 L251.6,431.0 L252.3,430.6 L253.0,430.1 L253.6,429.3 L254.3,428.6 L255.0,428.0 L255.7,427.8 L256.3,427.4 L257.0,426.8 L257.7,426.2 L258.4,425.7 L259.0,425.3 L259.7,424.8 L260.4,424.6 L261.0,424.3 L261.7,424.0 L262.4,424.0 L263.1,423.9 L263.7,423.7 L264.4,424.0 L265.1,424.2 L265.8,424.5 L266.4,424.6 L267.1,424.6 L267.8,424.6 L268.4,424.1 L269.1,423.6 L269.8,423.2 L270.5,422.8 L271.1,422.0 L271.8,421.1 L272.5,420.0 L273.2,419.0 L273.8,418.2 L274.5,417.3 L275.2,416.5 L275.8,415.6 L276.5,414.6 L277.2,413.4 L277.9,412.4 L278.5,411.4 L279.2,410.3 L279.9,409.2 L280.6,408.1 L281.2,407.1 L281.9,406.1 L282.6,405.0 L283.2,404.1 L283.9,403.2 L284.6,402.3 L285.3,401.4 L285.9,400.5 L286.6,399.5 L287.3,398.6 L288.0,397.8 L288.6,397.1 L289.3,396.6 L290.0,396.0 L290.6,395.4 L291.3,394.9 L292.0,394.5 L292.7,394.2 L293.3,394.0 L294.0,393.9 L294.7,393.7 L295.4,393.6 L296.0,393.3 L296.7,393.2 L297.4,393.6 L298.1,394.0 L298.7,394.4 L299.4,394.9 L300.1,395.4 L300.7,395.8 L301.4,395.9 L302.1,395.8 L302.8,395.7 L303.4,395.3 L304.1,394.9 L304.8,394.5 L305.5,394.0 L306.1,393.3 L306.8,392.6 L307.5,391.8 L308.1,391.2 L308.8,390.6 L309.5,389.8 L310.2,389.1 L310.8,388.4 L311.5,387.7 L312.2,387.0 L312.9,386.4 L313.5,385.6 L314.2,384.8 L314.9,384.4 L315.5,384.0 L316.2,383.5 L316.9,383.3 L317.6,383.1 L318.2,382.9 L318.9,382.9 L319.6,383.1 L320.3,383.2 L320.9,383.3 L321.6,383.3 L322.3,383.4 L322.9,383.6 L323.6,383.7 L324.3,383.7 L325.0,383.6 L325.6,383.4 L326.3,383.2 L327.0,382.8 L327.7,382.5 L328.3,382.2 L329.0,381.6 L329.7,381.2 L330.3,380.6 L331.0,380.1 L331.7,379.4 L332.4,378.6 L333.0,378.0 L333.7,377.8 L334.4,377.7 L335.1,378.0 L335.7,378.1 L336.4,378.5 L337.1,378.9 L337.7,379.4 L338.4,379.7 L339.1,380.0 L339.8,379.9 L340.4,379.7 L341.1,379.6 L341.8,379.3 L342.5,378.9 L343.1,378.6 L343.8,378.4 L344.5,378.1 L345.1,377.7 L345.8,377.2 L346.5,376.7 L347.2,376.0 L347.8,375.3 L348.5,374.5 L349.2,373.6 L349.9,372.8 L350.5,372.3 L351.2,371.8 L351.9,371.3 L352.6,370.9 L353.2,370.3 L353.9,369.7 L354.6,369.0 L355.2,368.6 L355.9,368.2 L356.6,367.6 L357.3,367.0 L357.9,366.5 L358.6,366.0 L359.3,365.6 L360.0,365.0 L360.6,364.5 L361.3,364.1 L362.0,363.7 L362.6,363.4 L363.3,363.3 L364.0,363.1 L364.7,362.8 L365.3,362.5 L366.0,362.3 L366.7,362.2 L367.4,362.3 L368.0,362.5 L368.7,362.8 L369.4,363.0 L370.0,363.3 L370.7,363.7 L371.4,364.3 L372.1,364.8 L372.7,365.1 L373.4,365.3 L374.1,365.4 L374.8,365.4 L375.4,365.5 L376.1,365.4 L376.8,365.2 L377.4,365.0 L378.1,364.6 L378.8,364.1 L379.5,363.6 L380.1,362.9 L380.8,362.3 L381.5,361.7 L382.2,361.4 L382.8,361.1 L383.5,361.0 L384.2,360.7 L384.8,360.6 L385.5,360.3 L386.2,359.9 L386.9,359.3 L387.5,358.4 L388.2,357.6 L388.9,356.8 L389.6,356.2 L390.2,355.8 L390.9,355.5 L391.6,355.4 L392.2,355.4 L392.9,355.6 L393.6,355.7 L394.3,356.0 L394.9,356.4 L395.6,356.6 L396.3,357.0 L397.0,357.5 L397.6,358.0 L398.3,358.6 L399.0,359.3 L399.6,359.9 L400.3,360.6 L401.0,361.2 L401.7,361.8 L402.3,362.0 L403.0,362.0 L403.7,362.0 L404.4,361.9 L405.0,361.7 L405.7,361.2 L406.4,360.8 L407.0,360.2 L407.7,359.6 L408.4,359.1 L409.1,358.5 L409.7,358.0 L410.4,357.7 L411.1,357.6 L411.8,357.4 L412.4,357.4 L413.1,357.4 L413.8,357.2 L414.5,356.9 L415.1,356.8 L415.8,356.3 L416.5,355.9 L417.1,355.4 L417.8,355.1 L418.5,354.6 L419.2,354.3 L419.8,353.6 L420.5,352.8 L421.2,352.2 L421.9,352.0 L422.5,352.0 L423.2,351.8 L423.9,351.8 L424.5,352.0 L425.2,352.3 L425.9,352.7 L426.6,353.3 L427.2,353.9 L427.9,354.6 L428.6,355.4 L429.3,356.1 L429.9,356.8 L430.6,357.7 L431.3,358.7 L431.9,359.6 L432.6,360.7 L433.3,361.5 L434.0,362.5 L434.6,363.6 L435.3,364.7 L436.0,365.8 L436.7,366.7 L437.3,367.3 L438.0,367.6 L438.7,367.6 L439.3,367.5 L440.0,367.0 L440.7,366.6 L441.4,366.0 L442.0,365.0 L442.7,364.6 L443.4,364.2 L444.1,363.8 L444.7,363.5 L445.4,363.3 L446.1,363.0 L446.7,362.5 L447.4,362.1 L448.1,361.5 L448.8,361.1 L449.4,360.6 L450.1,360.0 L450.8,359.4 L451.5,358.8 L452.1,358.0 L452.8,357.5 L453.5,357.0 L454.1,356.5 L454.8,356.2 L455.5,355.9 L456.2,355.8 L456.8,355.9 L457.5,356.0 L458.2,356.0 L458.9,356.1 L459.5,356.2 L460.2,356.3 L460.9,356.6 L461.5,356.8 L462.2,356.8 L462.9,357.1 L463.6,357.4 L464.2,357.7 L464.9,357.7 L465.6,357.7 L466.3,357.5 L466.9,357.4 L467.6,357.2 L468.3,356.9 L469.0,356.8 L469.6,356.6 L470.3,356.5 L471.0,356.7 L471.6,356.6 L472.3,356.6 L473.0,356.4 L473.7,356.3 L474.3,356.3 L475.0,356.2 L475.7,355.9 L476.4,355.8 L477.0,355.7 L477.7,355.7 L478.4,355.7 L479.0,355.6 L479.7,355.2 L480.4,354.9 L481.1,354.5 L481.7,353.7 L482.4,353.0 L483.1,352.3 L483.8,351.3 L484.4,350.2 L485.1,349.2 L485.8,348.2 L486.4,347.3 L487.1,346.4 L487.8,345.9 L488.5,345.3 L489.1,345.0 L489.8,344.6 L490.5,344.3 L491.2,344.1 L491.8,344.0 L492.5,343.9 L493.2,343.8 L493.8,344.0 L494.5,344.1 L495.2,344.4 L495.9,344.7 L496.5,345.0 L497.2,345.2 L497.9,345.6 L498.6,346.1 L499.2,346.6 L499.9,347.0 L500.6,347.1 L501.2,347.1 L501.9,346.8 L502.6,346.4 L503.3,345.9 L503.9,345.1 L504.6,344.1 L505.3,343.1 L506.0,341.7 L506.6,340.4 L507.3,339.4 L508.0,338.4 L508.6,337.8 L509.3,337.2 L510.0,336.7 L510.7,336.1 L511.3,335.8 L512.0,335.5 L512.7,335.3 L513.4,335.1 L514.0,334.9 L514.7,334.9 L515.4,334.5 L516.0,334.2 L516.7,333.8 L517.4,333.3 L518.1,332.6 L518.7,332.1 L519.4,331.6 L520.1,330.9 L520.8,330.1 L521.4,329.4 L522.1,328.4 L522.8,327.6 L523.4,326.9 L524.1,326.2 L524.8,325.5 L525.5,324.6 L526.1,324.1 L526.8,323.6 L527.5,323.3 L528.2,322.5 L528.8,321.8 L529.5,320.8 L530.2,319.7 L530.9,318.7 L531.5,317.8 L532.2,316.9 L532.9,316.1 L533.5,315.2 L534.2,314.1 L534.9,313.1 L535.6,312.0 L536.2,311.0 L536.9,309.8 L537.6,308.6 L538.3,307.5 L538.9,306.3 L539.6,305.2 L540.3,304.9 L540.9,304.7 L541.6,305.1 L542.3,305.9 L543.0,306.1 L543.6,306.3 L544.3,306.6 L545.0,306.5 L545.7,306.4 L546.3,306.2 L547.0,306.0 L547.7,305.7 L548.3,305.6 L549.0,305.2 L549.7,304.7 L550.4,304.3 L551.0,303.7 L551.7,303.2 L552.4,302.5 L553.1,301.9 L553.7,301.3 L554.4,300.9 L555.1,300.3 L555.7,299.5 L556.4,298.6 L557.1,298.0 L557.8,297.5 L558.4,296.9 L559.1,296.8 L559.8,296.6 L560.5,296.2 L561.1,295.9 L561.8,295.5 L562.5,295.3 L563.1,295.0 L563.8,294.9 L564.5,295.0 L565.2,295.3 L565.8,295.4 L566.5,295.5 L567.2,295.5 L567.9,295.2 L568.5,294.8 L569.2,294.2 L569.9,293.6 L570.5,293.0 L571.2,292.4 L571.9,292.0 L572.6,291.3 L573.2,290.9 L573.9,290.4 L574.6,289.9 L575.3,289.4 L575.9,288.7 L576.6,288.2 L577.3,287.8 L577.9,287.3 L578.6,286.7 L579.3,286.3 L580.0,285.9 L580.6,285.5 L581.3,285.1 L582.0,284.9 L582.7,284.4 L583.3,283.9 L584.0,283.7 L584.7,283.5 L585.4,283.2 L586.0,282.8 L586.7,282.4 L587.4,282.1 L588.0,281.9 L588.7,281.6 L589.4,281.2 L590.1,281.0 L590.7,280.8 L591.4,280.5 L592.1,280.5 L592.8,280.4 L593.4,280.5 L594.1,280.5 L594.8,280.6 L595.4,280.7 L596.1,280.7 L596.8,280.6 L597.5,280.6 L598.1,280.4 L598.8,280.2 L599.5,279.9 L600.2,279.4 L600.8,279.1 L601.5,278.7 L602.2,278.4 L602.8,277.7 L603.5,277.0 L604.2,276.3 L604.9,275.4 L605.5,274.7 L606.2,273.8 L606.9,272.8 L607.6,272.1 L608.2,271.1 L608.9,270.0 L609.6,269.2 L610.2,268.2 L610.9,267.2 L611.6,266.2 L612.3,265.2 L612.9,264.1 L613.6,263.2 L614.3,262.2 L615.0,261.4 L615.6,260.4 L616.3,259.6 L617.0,258.7 L617.6,257.4 L618.3,256.3 L619.0,255.2 L619.7,254.3 L620.3,253.3 L621.0,252.2 L621.7,251.1 L622.4,250.2 L623.0,249.3 L623.7,248.5 L624.4,247.6 L625.0,246.8 L625.7,246.0 L626.4,245.1 L627.1,244.2 L627.7,243.3 L628.4,243.0 L629.1,243.0 L629.8,242.6 L630.4,242.0 L631.1,241.2 L631.8,240.1 L632.4,239.0 L633.1,238.1 L633.8,237.0 L634.5,236.0 L635.1,235.1 L635.8,234.1 L636.5,233.0 L637.2,232.1 L637.8,231.2 L638.5,230.4 L639.2,229.3 L639.8,228.5 L640.5,227.6 L641.2,227.0 L641.9,226.3 L642.5,225.5 L643.2,225.2 L643.9,224.9 L644.6,224.4 L645.2,224.2 L645.9,224.2 L646.6,224.1 L647.3,224.3 L647.9,224.9 L648.6,225.5 L649.3,226.3 L649.9,226.9 L650.6,227.7 L651.3,228.4 L652.0,229.0 L652.6,229.7 L653.3,230.7 L654.0,231.5 L654.7,231.8 L655.3,231.9 L656.0,232.2 L656.7,232.3 L657.3,232.4 L658.0,232.6 L658.7,233.4 L659.4,234.2 L660.0,235.0 L660.7,236.0 L661.4,237.0 L662.1,238.3 L662.7,239.3 L663.4,240.0 L664.1,240.4 L664.7,241.2 L665.4,241.9 L666.1,242.5 L666.8,242.8 L667.4,243.0 L668.1,242.9 L668.8,242.9 L669.5,242.6 L670.1,242.2 L670.8,241.7 L671.5,241.2 L672.1,240.8 L672.8,240.1 L673.5,239.5 L674.2,239.1 L674.8,238.5 L675.5,237.9 L676.2,237.5 L676.9,237.1 L677.5,236.6 L678.2,236.1 L678.9,235.7 L679.5,235.5 L680.2,235.0 L680.9,234.6 L681.6,234.2 L682.2,233.9 L682.9,233.6 L683.6,233.4 L684.3,233.2 L684.9,233.0 L685.6,232.9 L686.3,232.7 L686.9,232.6 L687.6,232.3 L688.3,232.2 L689.0,231.8 L689.6,231.6 L690.3,231.2 L691.0,230.7 L691.7,230.2 L692.3,229.9 L693.0,229.5 L693.7,229.0 L694.3,228.8 L695.0,228.4 L695.7,228.0 L696.4,227.6 L697.0,227.1 L697.7,226.6 L698.4,226.0 L699.1,225.4 L699.7,224.9 L700.4,224.5 L701.1,224.1 L701.8,223.7 L702.4,223.4 L703.1,223.1 L703.8,223.1 L704.4,223.2 L705.1,223.4 L705.8,223.8 L706.5,224.2 L707.1,224.5 L707.8,224.9 L708.5,224.9 L709.2,225.9 L709.8,226.8 L710.5,228.2 L711.2,229.4 L711.8,230.5 L712.5,232.3 L713.2,234.1 L713.9,235.8 L714.5,237.4 L715.2,238.6 L715.9,239.8 L716.6,240.4 L717.2,240.8 L717.9,240.9 L718.6,240.9 L719.2,240.5 L719.9,240.0 L720.6,239.5 L721.3,239.0 L721.9,238.7 L722.6,238.2 L723.3,237.8 L724.0,237.6 L724.6,237.8 L725.3,237.8 L726.0,237.5 L726.6,237.1 L727.3,236.4 L728.0,235.4 L728.7,234.7 L729.3,234.2 L730.0,233.5 L730.7,232.5 L731.4,231.8 L732.0,231.3 L732.7,231.2 L733.4,231.4 L734.0,231.6 L734.7,231.8 L735.4,232.0 L736.1,231.9 L736.7,231.4 L737.4,230.9 L738.1,230.6 L738.8,230.4 L739.4,230.0 L740.1,229.7 L740.8,229.2 L741.4,228.8 L742.1,228.6 L742.8,228.0 L743.5,227.6 L744.1,227.2 L744.8,226.7 L745.5,226.2 L746.2,225.5 L746.8,224.9 L747.5,224.4 L748.2,223.9 L748.8,223.3 L749.5,222.6 L750.2,221.7 L750.9,220.8 L751.5,219.7 L752.2,218.8 L752.9,217.9 L753.6,217.2 L754.2,216.6 L754.9,215.9 L755.6,215.1 L756.3,214.3 L756.9,213.6 L757.6,212.9 L758.3,212.2 L758.9,211.5 L759.6,210.9 L760.3,210.2 L761.0,209.6 L761.6,209.0 L762.3,208.6 L763.0,208.2 L763.7,207.9 L764.3,207.7 L765.0,207.4 L765.7,207.1 L766.3,207.1 L767.0,207.2 L767.7,207.2 L768.4,207.2 L769.0,207.2 L769.7,207.4 L770.4,207.5 L771.1,207.4 L771.7,207.2 L772.4,207.0 L773.1,206.8 L773.7,206.6 L774.4,206.4 L775.1,206.1 L775.8,205.5 L776.4,205.1 L777.1,204.6 L777.8,203.9 L778.5,203.2 L779.1,202.6 L779.8,202.1 L780.5,201.5 L781.1,200.7 L781.8,200.0 L782.5,199.3 L783.2,198.7 L783.8,198.0 L784.5,197.4 L785.2,196.6 L785.9,195.7 L786.5,195.1 L787.2,194.6 L787.9,194.0 L788.5,193.5 L789.2,193.0 L789.9,192.5 L790.6,191.8 L791.2,191.5 L791.9,191.6 L792.6,192.1 L793.3,192.1 L793.9,192.2 L794.6,192.2 L795.3,192.2 L795.9,192.0 L796.6,191.8 L797.3,191.5 L798.0,191.0 L798.6,190.5 L799.3,189.9 L800.0,189.3 L800.7,188.6 L801.3,188.6 L802.0,189.0 L802.7,189.7 L803.3,190.3 L804.0,190.7 L804.7,190.8 L805.4,190.5 L806.0,190.1 L806.7,189.4 L807.4,188.3 L808.1,187.0 L808.7,185.8 L809.4,184.5 L810.1,183.4 L810.7,182.2 L811.4,181.0 L812.1,179.9 L812.8,179.0 L813.4,178.0 L814.1,177.0 L814.8,175.9 L815.5,174.8 L816.1,173.8 L816.8,172.5 L817.5,171.9 L818.2,171.7 L818.8,171.6 L819.5,171.9 L820.2,172.2 L820.8,172.5 L821.5,172.6 L822.2,172.8 L822.9,173.3 L823.5,173.6 L824.2,173.4" fill="none" stroke="#1f6e1f" stroke-width="1.1"/>
<path d="M67.3,448.4 L67.9,447.5 L68.6,446.6 L69.3,445.7 L70.0,444.8 L70.6,443.8 L71.3,442.7 L72.0,441.6 L72.7,440.7 L73.3,440.2 L74.0,439.7 L74.7,439.2 L75.3,438.7 L76.0,438.1 L76.7,437.5 L77.4,436.9 L78.0,436.4 L78.7,435.9 L79.4,435.5 L80.1,435.3 L80.7,435.0 L81.4,434.8 L82.1,434.6 L82.7,434.6 L83.4,434.5 L84.1,434.3 L84.8,434.2 L85.4,434.1 L86.1,434.1 L86.8,434.1 L87.5,434.2 L88.1,434.4 L88.8,434.6 L89.5,434.9 L90.1,435.3 L90.8,435.7 L91.5,436.2 L92.2,436.8 L92.8,437.4 L93.5,438.0 L94.2,438.8 L94.9,439.6 L95.5,440.3 L96.2,440.9 L96.9,441.6 L97.5,442.4 L98.2,443.3 L98.9,444.3 L99.6,445.3 L100.2,446.5 L100.9,447.6 L101.6,448.7 L102.3,449.7 L102.9,450.6 L103.6,451.6 L104.3,452.8 L104.9,454.2 L105.6,455.8 L106.3,457.0 L107.0,457.9 L107.6,458.7 L108.3,459.5 L109.0,460.5 L109.7,461.7 L110.3,462.9 L111.0,464.2 L111.7,465.4 L112.3,466.5 L113.0,467.4 L113.7,468.2 L114.4,469.0 L115.0,469.9 L115.7,470.7 L116.4,471.2 L117.1,471.8 L117.7,472.7 L118.4,473.4 L119.1,474.0 L119.7,474.5 L120.4,474.8 L121.1,474.9 L121.8,474.7 L122.4,474.3 L123.1,473.8 L123.8,473.1 L124.5,472.3 L125.1,471.4 L125.8,470.5 L126.5,469.5 L127.2,468.5 L127.8,467.3 L128.5,466.2 L129.2,465.1 L129.8,464.2 L130.5,463.4 L131.2,462.6 L131.9,461.7 L132.5,460.7 L133.2,459.8 L133.9,459.0 L134.6,458.3 L135.2,457.8 L135.9,457.5 L136.6,457.3 L137.2,457.3 L137.9,457.3 L138.6,457.3 L139.3,457.4 L139.9,457.5 L140.6,457.7 L141.3,458.0 L142.0,458.1 L142.6,458.2 L143.3,458.1 L144.0,457.9 L144.6,457.6 L145.3,457.2 L146.0,456.9 L146.7,456.6 L147.3,456.5 L148.0,456.2 L148.7,456.0 L149.4,455.9 L150.0,455.7 L150.7,455.6 L151.4,455.4 L152.0,455.2 L152.7,455.0 L153.4,454.9 L154.1,454.7 L154.7,454.7 L155.4,454.7 L156.1,454.8 L156.8,454.9 L157.4,455.1 L158.1,455.4 L158.8,455.8 L159.4,456.2 L160.1,456.7 L160.8,457.1 L161.5,457.7 L162.1,458.2 L162.8,458.7 L163.5,459.4 L164.2,459.8 L164.8,460.4 L165.5,461.0 L166.2,461.8 L166.8,462.5 L167.5,463.1 L168.2,463.7 L168.9,464.2 L169.5,464.6 L170.2,465.1 L170.9,465.4 L171.6,465.7 L172.2,465.9 L172.9,466.0 L173.6,466.1 L174.2,466.1 L174.9,466.1 L175.6,466.2 L176.3,466.3 L176.9,466.4 L177.6,466.7 L178.3,466.9 L179.0,467.3 L179.6,467.5 L180.3,467.7 L181.0,467.7 L181.7,467.8 L182.3,467.8 L183.0,467.6 L183.7,467.4 L184.3,467.3 L185.0,467.3 L185.7,467.2 L186.4,467.3 L187.0,467.4 L187.7,467.5 L188.4,467.6 L189.1,467.7 L189.7,467.8 L190.4,467.9 L191.1,467.9 L191.7,467.9 L192.4,467.6 L193.1,467.4 L193.8,467.0 L194.4,466.7 L195.1,466.4 L195.8,466.0 L196.5,465.7 L197.1,465.3 L197.8,464.9 L198.5,464.4 L199.1,463.9 L199.8,463.5 L200.5,463.0 L201.2,462.4 L201.8,461.8 L202.5,461.2 L203.2,460.6 L203.9,459.9 L204.5,459.2 L205.2,458.4 L205.9,457.6 L206.5,456.8 L207.2,456.0 L207.9,455.2 L208.6,454.5 L209.2,454.0 L209.9,453.6 L210.6,453.1 L211.3,452.7 L211.9,452.3 L212.6,451.9 L213.3,451.5 L213.9,451.1 L214.6,450.8 L215.3,450.4 L216.0,450.1 L216.6,449.9 L217.3,449.8 L218.0,449.5 L218.7,449.2 L219.3,449.0 L220.0,448.7 L220.7,448.5 L221.3,448.2 L222.0,448.0 L222.7,447.7 L223.4,447.4 L224.0,447.1 L224.7,446.9 L225.4,446.7 L226.1,446.5 L226.7,446.3 L227.4,446.2 L228.1,446.1 L228.7,446.1 L229.4,446.0 L230.1,446.0 L230.8,446.0 L231.4,446.0 L232.1,446.0 L232.8,446.0 L233.5,445.9 L234.1,445.9 L234.8,445.8 L235.5,445.8 L236.1,445.8 L236.8,445.7 L237.5,445.7 L238.2,445.7 L238.8,445.6 L239.5,445.7 L240.2,445.8 L240.9,445.7 L241.5,445.7 L242.2,445.5 L242.9,445.2 L243.6,444.8 L244.2,444.4 L244.9,444.0 L245.6,443.6 L246.2,443.2 L246.9,442.8 L247.6,442.4 L248.3,442.0 L248.9,441.6 L249.6,441.2 L250.3,440.8 L251.0,440.3 L251.6,439.9 L252.3,439.5 L253.0,439.0 L253.6,438.5 L254.3,438.0 L255.0,437.5 L255.7,437.1 L256.3,436.6 L257.0,436.1 L257.7,435.6 L258.4,435.1 L259.0,434.6 L259.7,434.0 L260.4,433.5 L261.0,433.0 L261.7,432.5 L262.4,432.0 L263.1,431.5 L263.7,431.0 L264.4,430.6 L265.1,430.2 L265.8,429.8 L266.4,429.4 L267.1,429.0 L267.8,428.6 L268.4,428.1 L269.1,427.6 L269.8,427.2 L270.5,426.8 L271.1,426.2 L271.8,425.7 L272.5,425.1 L273.2,424.5 L273.8,423.9 L274.5,423.3 L275.2,422.8 L275.8,422.2 L276.5,421.6 L277.2,421.0 L277.9,420.5 L278.5,419.9 L279.2,419.2 L279.9,418.6 L280.6,417.9 L281.2,417.2 L281.9,416.6 L282.6,415.9 L283.2,415.2 L283.9,414.5 L284.6,413.8 L285.3,413.1 L285.9,412.3 L286.6,411.6 L287.3,410.9 L288.0,410.2 L288.6,409.5 L289.3,408.8 L290.0,408.1 L290.6,407.5 L291.3,406.8 L292.0,406.2 L292.7,405.6 L293.3,405.0 L294.0,404.5 L294.7,403.9 L295.4,403.3 L296.0,402.7 L296.7,402.2 L297.4,401.7 L298.1,401.3 L298.7,400.8 L299.4,400.4 L300.1,400.0 L300.7,399.6 L301.4,399.1 L302.1,398.7 L302.8,398.3 L303.4,397.8 L304.1,397.3 L304.8,396.9 L305.5,396.5 L306.1,396.0 L306.8,395.6 L307.5,395.1 L308.1,394.6 L308.8,394.1 L309.5,393.6 L310.2,393.2 L310.8,392.8 L311.5,392.3 L312.2,391.9 L312.9,391.5 L313.5,391.0 L314.2,390.6 L314.9,390.2 L315.5,389.9 L316.2,389.5 L316.9,389.2 L317.6,388.9 L318.2,388.7 L318.9,388.4 L319.6,388.3 L320.3,388.1 L320.9,388.0 L321.6,387.9 L322.3,387.7 L322.9,387.6 L323.6,387.5 L324.3,387.3 L325.0,387.2 L325.6,387.0 L326.3,386.8 L327.0,386.6 L327.7,386.3 L328.3,386.0 L329.0,385.7 L329.7,385.4 L330.3,385.0 L331.0,384.6 L331.7,384.1 L332.4,383.6 L333.0,383.1 L333.7,382.6 L334.4,382.2 L335.1,382.0 L335.7,381.7 L336.4,381.5 L337.1,381.3 L337.7,381.2 L338.4,381.0 L339.1,380.9 L339.8,380.8 L340.4,380.6 L341.1,380.5 L341.8,380.3 L342.5,380.1 L343.1,380.0 L343.8,379.8 L344.5,379.7 L345.1,379.5 L345.8,379.4 L346.5,379.2 L347.2,379.0 L347.8,378.8 L348.5,378.5 L349.2,378.2 L349.9,377.9 L350.5,377.6 L351.2,377.3 L351.9,377.0 L352.6,376.6 L353.2,376.2 L353.9,375.8 L354.6,375.4 L355.2,375.0 L355.9,374.6 L356.6,374.1 L357.3,373.7 L357.9,373.2 L358.6,372.8 L359.3,372.4 L360.0,371.9 L360.6,371.5 L361.3,371.1 L362.0,370.7 L362.6,370.4 L363.3,370.1 L364.0,369.8 L364.7,369.5 L365.3,369.2 L366.0,368.9 L366.7,368.7 L367.4,368.5 L368.0,368.2 L368.7,367.9 L369.4,367.7 L370.0,367.4 L370.7,367.1 L371.4,366.9 L372.1,366.7 L372.7,366.5 L373.4,366.2 L374.1,366.0 L374.8,365.8 L375.4,365.6 L376.1,365.4 L376.8,365.2 L377.4,364.9 L378.1,364.7 L378.8,364.4 L379.5,364.1 L380.1,363.8 L380.8,363.6 L381.5,363.3 L382.2,363.1 L382.8,363.0 L383.5,362.9 L384.2,362.7 L384.8,362.5 L385.5,362.3 L386.2,362.1 L386.9,361.9 L387.5,361.6 L388.2,361.3 L388.9,361.0 L389.6,360.7 L390.2,360.5 L390.9,360.3 L391.6,360.1 L392.2,360.0 L392.9,359.9 L393.6,359.8 L394.3,359.8 L394.9,359.8 L395.6,359.8 L396.3,359.8 L397.0,359.8 L397.6,359.8 L398.3,359.9 L399.0,360.0 L399.6,360.2 L400.3,360.3 L401.0,360.3 L401.7,360.4 L402.3,360.4 L403.0,360.3 L403.7,360.2 L404.4,360.1 L405.0,359.9 L405.7,359.7 L406.4,359.5 L407.0,359.2 L407.7,359.0 L408.4,358.8 L409.1,358.5 L409.7,358.3 L410.4,358.1 L411.1,358.0 L411.8,357.9 L412.4,357.9 L413.1,357.9 L413.8,357.8 L414.5,357.8 L415.1,357.7 L415.8,357.6 L416.5,357.5 L417.1,357.3 L417.8,357.2 L418.5,357.0 L419.2,356.8 L419.8,356.6 L420.5,356.5 L421.2,356.4 L421.9,356.4 L422.5,356.4 L423.2,356.4 L423.9,356.4 L424.5,356.4 L425.2,356.4 L425.9,356.4 L426.6,356.5 L427.2,356.5 L427.9,356.6 L428.6,356.7 L429.3,356.7 L429.9,356.8 L430.6,356.9 L431.3,357.0 L431.9,357.1 L432.6,357.2 L433.3,357.2 L434.0,357.3 L434.6,357.4 L435.3,357.6 L436.0,357.8 L436.7,358.0 L437.3,358.2 L438.0,358.3 L438.7,358.5 L439.3,358.6 L440.0,358.8 L440.7,358.9 L441.4,359.1 L442.0,359.1 L442.7,359.3 L443.4,359.4 L444.1,359.5 L444.7,359.6 L445.4,359.7 L446.1,359.8 L446.7,359.8 L447.4,359.8 L448.1,359.9 L448.8,359.9 L449.4,360.0 L450.1,360.1 L450.8,360.1 L451.5,360.2 L452.1,360.2 L452.8,360.2 L453.5,360.4 L454.1,360.5 L454.8,360.7 L455.5,360.8 L456.2,360.8 L456.8,361.0 L457.5,361.1 L458.2,361.1 L458.9,361.2 L459.5,361.2 L460.2,361.2 L460.9,361.2 L461.5,361.1 L462.2,361.0 L462.9,360.9 L463.6,360.8 L464.2,360.7 L464.9,360.5 L465.6,360.2 L466.3,359.9 L466.9,359.7 L467.6,359.4 L468.3,359.0 L469.0,358.6 L469.6,358.2 L470.3,357.9 L471.0,357.6 L471.6,357.4 L472.3,357.1 L473.0,356.9 L473.7,356.8 L474.3,356.7 L475.0,356.6 L475.7,356.5 L476.4,356.4 L477.0,356.3 L477.7,356.2 L478.4,356.1 L479.0,356.0 L479.7,355.8 L480.4,355.7 L481.1,355.5 L481.7,355.3 L482.4,355.1 L483.1,354.9 L483.8,354.6 L484.4,354.3 L485.1,354.0 L485.8,353.7 L486.4,353.4 L487.1,353.1 L487.8,352.8 L488.5,352.5 L489.1,352.3 L489.8,352.0 L490.5,351.6 L491.2,351.4 L491.8,351.1 L492.5,350.8 L493.2,350.5 L493.8,350.3 L494.5,350.0 L495.2,349.8 L495.9,349.6 L496.5,349.4 L497.2,349.1 L497.9,349.0 L498.6,348.8 L499.2,348.7 L499.9,348.6 L500.6,348.5 L501.2,348.3 L501.9,348.1 L502.6,347.9 L503.3,347.6 L503.9,347.3 L504.6,346.8 L505.3,346.3 L506.0,345.8 L506.6,345.2 L507.3,344.7 L508.0,344.2 L508.6,343.7 L509.3,343.3 L510.0,342.8 L510.7,342.3 L511.3,341.9 L512.0,341.4 L512.7,341.1 L513.4,340.7 L514.0,340.3 L514.7,340.0 L515.4,339.7 L516.0,339.4 L516.7,339.1 L517.4,338.8 L518.1,338.4 L518.7,338.1 L519.4,337.9 L520.1,337.6 L520.8,337.2 L521.4,336.8 L522.1,336.3 L522.8,335.9 L523.4,335.4 L524.1,334.9 L524.8,334.4 L525.5,333.8 L526.1,333.3 L526.8,332.8 L527.5,332.3 L528.2,331.7 L528.8,331.1 L529.5,330.3 L530.2,329.5 L530.9,328.8 L531.5,328.0 L532.2,327.2 L532.9,326.3 L533.5,325.5 L534.2,324.6 L534.9,323.8 L535.6,322.9 L536.2,322.1 L536.9,321.2 L537.6,320.4 L538.3,319.6 L538.9,318.7 L539.6,317.9 L540.3,317.4 L540.9,316.8 L541.6,316.4 L542.3,316.1 L543.0,315.6 L543.6,315.2 L544.3,314.8 L545.0,314.3 L545.7,313.8 L546.3,313.3 L547.0,312.7 L547.7,312.2 L548.3,311.7 L549.0,311.1 L549.7,310.6 L550.4,310.0 L551.0,309.4 L551.7,308.9 L552.4,308.3 L553.1,307.7 L553.7,307.2 L554.4,306.7 L555.1,306.2 L555.7,305.6 L556.4,305.0 L557.1,304.5 L557.8,304.0 L558.4,303.4 L559.1,303.0 L559.8,302.5 L560.5,302.0 L561.1,301.6 L561.8,301.1 L562.5,300.7 L563.1,300.3 L563.8,300.0 L564.5,299.7 L565.2,299.5 L565.8,299.2 L566.5,299.0 L567.2,298.8 L567.9,298.5 L568.5,298.3 L569.2,298.0 L569.9,297.7 L570.5,297.4 L571.2,297.2 L571.9,296.9 L572.6,296.7 L573.2,296.5 L573.9,296.2 L574.6,295.8 L575.3,295.3 L575.9,294.7 L576.6,294.2 L577.3,293.8 L577.9,293.3 L578.6,292.8 L579.3,292.3 L580.0,291.9 L580.6,291.5 L581.3,291.0 L582.0,290.6 L582.7,290.2 L583.3,289.8 L584.0,289.4 L584.7,289.1 L585.4,288.7 L586.0,288.4 L586.7,288.0 L587.4,287.7 L588.0,287.4 L588.7,287.0 L589.4,286.7 L590.1,286.5 L590.7,286.2 L591.4,285.9 L592.1,285.6 L592.8,285.3 L593.4,285.1 L594.1,284.9 L594.8,284.6 L595.4,284.4 L596.1,284.2 L596.8,284.0 L597.5,283.7 L598.1,283.4 L598.8,283.0 L599.5,282.7 L600.2,282.3 L600.8,281.9 L601.5,281.6 L602.2,281.3 L602.8,280.9 L603.5,280.6 L604.2,280.2 L604.9,279.8 L605.5,279.4 L606.2,278.9 L606.9,278.5 L607.6,278.0 L608.2,277.5 L608.9,277.0 L609.6,276.5 L610.2,276.0 L610.9,275.5 L611.6,274.9 L612.3,274.3 L612.9,273.7 L613.6,273.1 L614.3,272.5 L615.0,271.9 L615.6,271.2 L616.3,270.6 L617.0,269.9 L617.6,269.1 L618.3,268.3 L619.0,267.6 L619.7,266.8 L620.3,266.1 L621.0,265.3 L621.7,264.4 L622.4,263.6 L623.0,262.8 L623.7,262.0 L624.4,261.2 L625.0,260.4 L625.7,259.5 L626.4,258.6 L627.1,257.7 L627.7,256.8 L628.4,256.0 L629.1,255.3 L629.8,254.5 L630.4,253.7 L631.1,252.8 L631.8,251.9 L632.4,250.9 L633.1,250.0 L633.8,249.1 L634.5,248.1 L635.1,247.2 L635.8,246.2 L636.5,245.3 L637.2,244.3 L637.8,243.4 L638.5,242.5 L639.2,241.6 L639.8,240.7 L640.5,239.8 L641.2,239.0 L641.9,238.2 L642.5,237.3 L643.2,236.6 L643.9,235.9 L644.6,235.2 L645.2,234.5 L645.9,233.9 L646.6,233.4 L647.3,232.9 L647.9,232.5 L648.6,232.1 L649.3,231.8 L649.9,231.5 L650.6,231.3 L651.3,231.1 L652.0,230.9 L652.6,230.8 L653.3,230.7 L654.0,230.6 L654.7,230.5 L655.3,230.3 L656.0,230.2 L656.7,230.0 L657.3,229.9 L658.0,229.8 L658.7,229.8 L659.4,229.9 L660.0,230.0 L660.7,230.2 L661.4,230.4 L662.1,230.6 L662.7,230.6 L663.4,230.8 L664.1,230.9 L664.7,231.1 L665.4,231.5 L666.1,231.8 L666.8,232.1 L667.4,232.4 L668.1,232.7 L668.8,232.9 L669.5,233.3 L670.1,233.6 L670.8,233.8 L671.5,234.1 L672.1,234.4 L672.8,234.8 L673.5,235.1 L674.2,235.4 L674.8,235.7 L675.5,236.0 L676.2,236.4 L676.9,236.6 L677.5,236.9 L678.2,237.2 L678.9,237.4 L679.5,237.6 L680.2,237.8 L680.9,237.9 L681.6,237.9 L682.2,237.9 L682.9,237.8 L683.6,237.8 L684.3,237.7 L684.9,237.6 L685.6,237.5 L686.3,237.4 L686.9,237.2 L687.6,237.0 L688.3,236.9 L689.0,236.8 L689.6,236.7 L690.3,236.5 L691.0,236.4 L691.7,236.2 L692.3,235.9 L693.0,235.5 L693.7,235.1 L694.3,234.8 L695.0,234.3 L695.7,233.8 L696.4,233.3 L697.0,232.8 L697.7,232.3 L698.4,231.8 L699.1,231.3 L699.7,230.7 L700.4,230.3 L701.1,229.8 L701.8,229.4 L702.4,228.9 L703.1,228.5 L703.8,228.2 L704.4,228.0 L705.1,227.8 L705.8,227.6 L706.5,227.5 L707.1,227.4 L707.8,227.3 L708.5,227.1 L709.2,227.2 L709.8,227.2 L710.5,227.4 L711.2,227.6 L711.8,227.8 L712.5,228.1 L713.2,228.4 L713.9,228.8 L714.5,229.1 L715.2,229.5 L715.9,229.8 L716.6,230.1 L717.2,230.3 L717.9,230.5 L718.6,230.7 L719.2,230.8 L719.9,230.9 L720.6,230.9 L721.3,231.0 L721.9,231.1 L722.6,231.2 L723.3,231.3 L724.0,231.5 L724.6,231.7 L725.3,232.0 L726.0,232.1 L726.6,232.3 L727.3,232.4 L728.0,232.4 L728.7,232.5 L729.3,232.6 L730.0,232.7 L730.7,232.7 L731.4,232.8 L732.0,233.0 L732.7,233.2 L733.4,233.5 L734.0,233.8 L734.7,234.1 L735.4,234.4 L736.1,234.7 L736.7,234.8 L737.4,234.9 L738.1,235.0 L738.8,235.1 L739.4,235.0 L740.1,235.0 L740.8,234.9 L741.4,234.9 L742.1,234.9 L742.8,234.6 L743.5,234.3 L744.1,233.9 L744.8,233.5 L745.5,233.0 L746.2,232.4 L746.8,231.7 L747.5,231.1 L748.2,230.5 L748.8,229.8 L749.5,229.2 L750.2,228.5 L750.9,227.9 L751.5,227.2 L752.2,226.6 L752.9,226.0 L753.6,225.5 L754.2,225.0 L754.9,224.5 L755.6,223.9 L756.3,223.3 L756.9,222.7 L757.6,222.1 L758.3,221.5 L758.9,220.8 L759.6,220.2 L760.3,219.6 L761.0,219.1 L761.6,218.6 L762.3,218.0 L763.0,217.5 L763.7,217.1 L764.3,216.7 L765.0,216.3 L765.7,215.8 L766.3,215.4 L767.0,214.9 L767.7,214.5 L768.4,214.0 L769.0,213.5 L769.7,213.1 L770.4,212.8 L771.1,212.4 L771.7,212.0 L772.4,211.6 L773.1,211.2 L773.7,210.8 L774.4,210.4 L775.1,210.0 L775.8,209.5 L776.4,209.1 L777.1,208.6 L777.8,208.1 L778.5,207.6 L779.1,207.2 L779.8,206.7 L780.5,206.3 L781.1,205.8 L781.8,205.3 L782.5,204.8 L783.2,204.3 L783.8,203.8 L784.5,203.4 L785.2,202.9 L785.9,202.5 L786.5,202.0 L787.2,201.6 L787.9,201.1 L788.5,200.7 L789.2,200.3 L789.9,199.9 L790.6,199.4 L791.2,199.0 L791.9,198.8 L792.6,198.6 L793.3,198.4 L793.9,198.1 L794.6,197.9 L795.3,197.6 L795.9,197.4 L796.6,197.1 L797.3,196.7 L798.0,196.3 L798.6,196.0 L799.3,195.5 L800.0,195.1 L800.7,194.6 L801.3,194.2 L802.0,194.0 L802.7,193.8 L803.3,193.6 L804.0,193.3 L804.7,193.1 L805.4,192.7 L806.0,192.4 L806.7,192.0 L807.4,191.5 L808.1,190.9 L808.7,190.3 L809.4,189.7 L810.1,189.1 L810.7,188.5 L811.4,188.0 L812.1,187.4 L812.8,186.8 L813.4,186.2 L814.1,185.6 L814.8,185.0 L815.5,184.4 L816.1,183.7 L816.8,183.0 L817.5,182.5 L818.2,182.0 L818.8,181.6 L819.5,181.3 L820.2,181.1 L820.8,180.8 L821.5,180.5 L822.2,180.2 L822.9,180.0 L823.5,179.8 L824.2,179.5" fill="none" stroke="#1e1e78" stroke-width="1.2"/>
<rect x="91.3" y="437.6" width="146.2" height="70.89999999999998" fill="rgba(255,70,60,0.45)" stroke="#e45050" stroke-width="1.6"/>
<rect x="390.6" y="345.5" width="92.69999999999999" height="33.30000000000001" fill="rgba(255,70,60,0.45)" stroke="#e45050" stroke-width="1.6"/>
<rect x="639.8" y="218.7" width="105.70000000000005" height="41.5" fill="rgba(255,70,60,0.45)" stroke="#e45050" stroke-width="1.6"/>
</g>
<g clip-path="url(#c2)">
<path d="M44.4,572.4 L44.4,583.1 L45.5,575.1 L46.7,567.6 L47.8,569.6 L48.9,570.9 L50.0,571.2 L51.1,567.0 L52.2,565.3 L53.3,561.3 L54.5,557.6 L55.6,553.1 L56.7,550.0 L57.8,550.2 L58.9,548.7 L60.0,552.7 L61.1,555.3 L62.2,555.0 L63.3,549.5 L64.4,549.8 L65.5,548.4 L66.7,546.9 L67.8,548.7 L68.9,549.2 L70.0,547.4 L71.1,545.3 L72.2,572.0 L73.3,600.9 L74.4,593.5 L75.6,590.9 L76.7,588.7 L77.8,597.3 L78.9,600.9 L80.0,607.0 L81.1,609.1 L82.2,612.0 L83.3,610.4 L84.4,607.6 L85.5,608.0 L86.7,609.5 L87.8,614.2 L88.9,616.6 L90.0,616.4 L91.1,619.3 L92.2,623.1 L93.3,620.7 L94.4,620.9 L95.6,608.7 L96.7,607.4 L97.8,610.7 L98.9,611.7 L100.0,613.1 L101.1,604.3 L102.2,592.0 L103.3,591.8 L104.5,592.2 L105.6,591.2 L106.7,590.9 L107.8,594.3 L108.9,595.9 L110.0,598.7 L111.1,596.8 L112.2,599.8 L113.3,596.4 L114.4,601.8 L115.6,602.0 L116.7,599.7 L117.8,594.9 L118.9,589.8 L120.0,583.3 L121.1,577.3 L122.2,572.1 L123.3,567.6 L124.4,565.6 L125.5,569.5 L126.7,567.9 L127.8,568.7 L128.9,568.6 L130.0,564.4 L131.1,563.1 L132.7,570.9 L133.7,579.2 L134.6,584.6 L135.6,588.7 L136.7,593.6 L137.8,602.2 L138.9,613.3 L140.0,618.7 L141.1,611.9 L142.2,607.9 L143.3,598.7 L144.4,596.3 L145.6,592.7 L146.7,593.1 L147.8,598.8 L148.9,603.1 L150.0,601.2 L151.1,595.2 L152.2,593.1 L153.3,592.8 L154.5,596.0 L155.6,598.7 L156.7,607.2 L157.8,610.9 L158.9,609.6 L160.0,603.6 L161.1,601.6 L162.2,598.2 L163.3,597.6 L164.4,598.4 L165.6,605.2 L166.7,605.1 L167.8,609.8 L168.9,611.4 L170.0,612.2 L171.1,612.2 L172.2,616.3 L173.3,616.4 L174.4,610.1 L175.6,608.3 L176.7,601.1 L177.8,598.7 L178.9,592.9 L180.0,586.5 L181.1,581.5 L182.2,579.8 L183.3,572.0 L184.4,576.6 L185.6,577.1 L186.7,583.2 L187.8,584.2 L188.9,580.1 L190.0,578.5 L191.1,576.4 L192.2,579.4 L193.3,579.4 L194.4,579.8 L195.5,573.3 L196.7,573.4 L197.8,566.4 L198.9,562.9 L200.0,561.1 L201.1,561.8 L202.2,557.5 L203.3,556.4 L204.4,558.3 L205.6,560.1 L206.7,565.3 L207.8,572.0 L208.9,578.0 L210.0,588.7 L211.1,596.4 L212.2,597.3 L213.3,600.9 L214.4,599.9 L215.6,597.2 L216.7,596.4 L217.8,598.1 L218.9,602.7 L220.0,602.2 L221.1,604.2 L222.2,595.7 L223.3,586.4 L224.2,589.5 L225.0,588.7 L226.1,591.5 L227.2,597.6 L228.3,597.6 L229.5,603.4 L230.6,603.1 L231.7,599.6 L232.8,591.5 L233.9,587.6 L235.0,582.1 L236.1,581.0 L237.2,578.2 L238.3,572.0 L239.4,575.4 L240.6,582.0 L241.7,578.8 L242.8,572.9 L243.9,565.3 L245.0,564.7 L246.1,563.1 L247.2,578.7 L248.3,575.3 L249.5,570.7 L250.6,569.8 L251.7,566.9 L252.8,568.7 L253.9,576.7 L255.0,579.8 L256.1,575.1 L257.2,573.1 L258.3,575.7 L259.5,574.8 L260.6,577.6 L261.7,584.1 L262.8,587.7 L263.9,592.0 L265.0,597.6 L266.1,591.2 L267.2,585.3 L268.3,582.8 L269.4,576.4 L270.5,569.7 L271.7,566.1 L272.8,563.1 L273.9,562.3 L275.0,562.7 L276.1,559.8 L277.2,558.4 L278.4,554.8 L279.5,556.1 L280.6,552.0 L281.7,552.7 L282.8,554.0 L283.9,558.7 L285.0,561.6 L286.1,566.6 L287.2,570.9 L288.3,573.0 L289.5,578.1 L290.6,584.2 L291.7,584.1 L292.8,585.3 L293.9,589.0 L295.0,592.0 L296.1,592.9 L297.2,596.8 L298.3,602.4 L299.4,603.1 L300.5,602.8 L301.7,597.6 L302.8,593.1 L303.9,588.0 L305.0,582.1 L306.1,576.4 L307.2,570.9 L308.4,566.8 L309.5,563.1 L310.6,562.0 L311.7,563.6 L312.8,560.9 L313.9,570.3 L315.0,577.6 L316.1,582.9 L317.2,581.0 L318.3,586.4 L319.4,590.8 L320.6,593.8 L321.7,597.6 L322.8,592.9 L323.9,584.8 L325.0,579.8 L326.1,577.9 L327.2,570.9 L328.3,568.7 L329.4,571.1 L330.6,572.1 L331.7,570.9 L332.8,577.8 L333.9,581.7 L335.0,585.3 L336.1,609.8 L337.2,604.2 L338.3,596.4 L339.4,596.1 L340.6,594.9 L341.7,590.9 L342.8,587.6 L343.9,586.9 L345.0,585.5 L346.1,580.9 L347.2,580.4 L348.3,575.6 L349.5,575.1 L350.6,573.0 L351.7,568.7 L352.8,568.5 L353.9,568.2 L355.0,566.4 L356.1,566.4 L357.2,567.6 L358.3,568.5 L359.4,568.7 L360.5,574.3 L361.7,584.2 L362.8,580.9 L363.9,578.6 L365.0,572.0 L366.1,579.0 L367.2,583.2 L368.3,586.4 L369.4,592.0 L370.5,602.1 L371.7,609.8 L372.8,600.2 L373.9,589.5 L375.0,579.8 L376.1,582.2 L377.2,579.0 L378.4,583.1 L379.5,580.0 L380.6,583.1 L381.7,587.0 L382.8,589.8 L383.9,586.4 L385.0,581.7 L386.1,580.8 L387.2,576.4 L388.3,573.1 L389.4,578.5 L390.6,585.0 L391.7,587.6 L392.8,589.1 L393.9,590.6 L395.0,594.9 L396.1,598.7 L397.2,604.4 L398.4,606.6 L399.5,611.2 L400.6,617.6 L401.7,613.4 L402.8,605.8 L403.9,598.7 L405.0,592.1 L406.1,588.1 L407.2,579.8 L408.3,583.7 L409.5,590.3 L410.6,594.2 L411.7,589.3 L412.8,587.2 L413.9,585.8 L415.0,583.1 L416.1,577.6 L417.1,577.9 L418.1,573.6 L419.0,573.0 L420.0,570.9 L421.1,571.0 L422.2,573.1 L423.3,585.3 L424.5,589.6 L425.6,597.6 L426.7,594.2 L427.8,590.9 L428.9,605.3 L430.0,609.3 L431.1,611.6 L432.2,612.0 L433.3,619.2 L434.4,624.2 L435.6,630.9 L436.7,625.4 L437.8,615.3 L438.9,605.6 L440.0,596.6 L441.1,589.8 L442.2,594.0 L443.3,598.7 L444.4,592.7 L445.6,587.5 L446.7,584.2 L447.8,583.3 L448.9,584.0 L450.0,582.8 L451.1,581.5 L452.2,582.0 L453.3,585.4 L454.4,585.3 L455.5,591.5 L456.7,592.5 L457.8,596.4 L458.9,595.0 L460.0,595.5 L461.1,598.7 L462.2,605.6 L463.3,608.7 L464.5,598.5 L465.6,593.1 L466.7,590.3 L467.8,585.3 L468.9,591.2 L470.0,596.4 L471.1,593.5 L472.2,594.1 L473.3,588.1 L474.4,588.7 L475.5,584.6 L476.7,584.0 L477.8,582.0 L478.9,586.2 L480.0,595.3 L481.1,590.7 L482.2,581.3 L483.3,576.4 L484.5,569.5 L485.6,566.4 L486.7,570.7 L487.8,579.8 L488.9,583.8 L490.0,586.2 L491.1,589.8 L492.2,594.2 L493.3,598.0 L494.4,600.9 L495.5,603.6 L496.7,603.1 L497.8,601.0 L498.9,594.2 L500.0,589.1 L501.1,582.0 L502.2,575.2 L503.3,571.5 L504.4,566.4 L505.5,566.6 L506.7,567.6 L507.8,572.0 L508.9,574.5 L510.0,578.3 L511.1,579.8 L512.2,582.9 L513.3,588.2 L514.4,594.2 L515.5,588.6 L516.7,585.6 L517.8,579.8 L518.9,576.2 L520.0,573.0 L521.1,568.7 L522.2,574.1 L523.3,576.3 L524.4,580.9 L525.5,576.6 L526.6,571.4 L527.8,561.3 L528.9,557.6 L530.0,567.6 L531.1,574.3 L532.2,580.9 L533.3,576.0 L534.5,574.7 L535.6,572.0 L536.7,569.0 L537.8,566.7 L538.9,560.9 L540.0,572.0 L541.1,603.1 L542.2,598.8 L543.3,596.1 L544.4,592.0 L545.5,593.4 L546.6,592.4 L547.8,592.7 L548.9,589.8 L550.0,587.4 L551.1,586.1 L552.2,581.6 L553.3,580.9 L554.5,577.1 L555.6,570.9 L556.7,574.0 L557.8,574.6 L558.9,575.3 L560.0,581.4 L561.1,585.3 L562.2,589.0 L563.3,597.8 L564.4,600.9 L565.5,595.2 L566.7,587.0 L567.8,576.4 L568.9,576.6 L570.0,577.9 L571.1,576.4 L572.2,577.1 L573.4,581.9 L574.5,583.3 L575.6,583.1 L576.7,581.5 L577.8,579.3 L578.9,580.3 L580.0,579.8 L581.1,578.7 L582.2,578.4 L583.3,575.5 L584.4,574.2 L585.5,571.4 L586.6,575.1 L587.8,570.8 L588.9,574.3 L590.0,570.7 L591.1,572.0 L592.2,576.7 L593.3,584.6 L594.4,588.7 L595.5,587.9 L596.7,590.9 L597.8,585.4 L598.9,583.7 L600.0,581.2 L601.1,576.4 L602.2,574.5 L603.3,570.0 L604.4,565.3 L605.5,565.4 L606.6,560.8 L607.8,561.0 L608.9,554.3 L610.0,554.2 L611.1,555.0 L612.2,558.8 L613.3,560.9 L614.1,558.5 L615.0,558.3 L616.2,563.0 L617.4,565.4 L618.6,561.4 L619.8,555.9 L621.0,562.0 L622.2,567.8 L623.4,565.4 L624.6,559.5 L625.8,561.0 L626.9,560.9 L628.1,563.1 L628.9,589.3 L629.8,581.9 L630.8,577.6 L631.7,569.0 L632.9,571.5 L634.1,568.3 L635.3,570.2 L636.5,576.2 L637.7,578.6 L638.9,577.4 L640.1,571.4 L641.3,576.3 L642.5,581.0 L643.7,580.2 L644.9,578.6 L646.1,582.2 L647.2,589.1 L648.4,594.1 L649.6,598.9 L650.8,603.7 L652.0,605.4 L653.2,603.6 L654.4,607.3 L655.6,607.3 L656.8,602.5 L658.0,606.1 L659.2,609.1 L660.4,613.2 L661.6,620.4 L662.8,617.6 L664.0,612.0 L665.2,607.3 L666.4,603.7 L667.5,601.1 L668.7,594.2 L669.9,592.9 L671.1,589.9 L672.3,586.1 L673.5,583.4 L674.7,587.7 L675.9,589.5 L677.1,589.3 L678.3,584.5 L679.5,582.0 L680.7,578.6 L681.9,578.3 L683.1,581.5 L684.3,583.4 L685.5,583.4 L686.7,582.3 L687.9,578.6 L689.1,577.3 L690.2,575.2 L691.4,575.0 L692.6,570.6 L693.8,570.0 L695.0,566.6 L696.2,567.6 L697.4,562.3 L698.6,563.1 L699.8,566.3 L701.0,566.6 L702.2,570.7 L703.4,579.8 L704.6,586.6 L705.8,596.5 L707.0,598.7 L708.2,603.7 L709.4,610.6 L710.6,615.6 L711.8,621.8 L713.0,629.9 L714.1,619.6 L715.3,610.8 L716.5,607.5 L717.7,600.8 L718.9,598.9 L720.1,596.9 L721.3,590.5 L722.5,589.3 L723.7,590.6 L724.9,590.4 L726.1,592.9 L727.3,587.0 L728.5,584.3 L729.7,579.8 L730.9,580.7 L732.1,582.2 L733.3,588.7 L734.5,596.5 L735.6,588.9 L736.8,582.2 L738.0,585.9 L739.2,589.3 L740.4,584.0 L741.6,580.6 L742.8,578.6 L744.0,577.3 L745.2,575.3 L746.4,572.6 L747.6,571.2 L748.8,571.2 L750.0,567.8 L751.2,568.0 L752.4,568.9 L753.6,566.6 L754.8,564.9 L756.0,567.3 L757.1,567.3 L758.3,565.4 L759.4,568.1 L760.6,565.6 L761.8,566.2 L762.9,567.8 L764.2,577.2 L765.5,582.2 L766.7,584.7 L767.9,592.7 L769.1,594.1 L770.3,592.1 L771.5,584.3 L772.7,582.2 L773.9,579.2 L775.1,580.2 L776.3,577.4 L777.5,574.1 L778.6,571.3 L779.8,571.4 L781.0,570.0 L782.2,564.7 L783.4,561.9 L784.6,559.2 L785.8,553.5 L787.0,561.7 L788.2,573.8 L789.4,569.1 L790.6,565.4 L791.8,581.9 L793.0,596.5 L794.2,588.4 L795.4,583.8 L796.6,579.8 L797.8,579.1 L798.9,578.7 L800.1,575.0 L801.3,591.8 L802.5,603.7 L803.7,593.7 L804.9,587.8 L806.1,579.8 L807.3,579.1 L808.5,575.8 L809.7,573.8 L810.9,571.6 L812.1,565.8 L813.3,564.3 L814.5,563.6 L815.7,565.4 L816.9,569.0 L818.1,574.2 L819.2,584.4 L820.4,591.7 L821.6,596.6 L822.8,601.3 L824.0,597.5 L825.2,592.9 L825.2,572.4 Z" fill="#76a49e" clip-path="url(#r70)"/>
<path d="M44.4,618.2 L44.4,583.1 L45.5,575.1 L46.7,567.6 L47.8,569.6 L48.9,570.9 L50.0,571.2 L51.1,567.0 L52.2,565.3 L53.3,561.3 L54.5,557.6 L55.6,553.1 L56.7,550.0 L57.8,550.2 L58.9,548.7 L60.0,552.7 L61.1,555.3 L62.2,555.0 L63.3,549.5 L64.4,549.8 L65.5,548.4 L66.7,546.9 L67.8,548.7 L68.9,549.2 L70.0,547.4 L71.1,545.3 L72.2,572.0 L73.3,600.9 L74.4,593.5 L75.6,590.9 L76.7,588.7 L77.8,597.3 L78.9,600.9 L80.0,607.0 L81.1,609.1 L82.2,612.0 L83.3,610.4 L84.4,607.6 L85.5,608.0 L86.7,609.5 L87.8,614.2 L88.9,616.6 L90.0,616.4 L91.1,619.3 L92.2,623.1 L93.3,620.7 L94.4,620.9 L95.6,608.7 L96.7,607.4 L97.8,610.7 L98.9,611.7 L100.0,613.1 L101.1,604.3 L102.2,592.0 L103.3,591.8 L104.5,592.2 L105.6,591.2 L106.7,590.9 L107.8,594.3 L108.9,595.9 L110.0,598.7 L111.1,596.8 L112.2,599.8 L113.3,596.4 L114.4,601.8 L115.6,602.0 L116.7,599.7 L117.8,594.9 L118.9,589.8 L120.0,583.3 L121.1,577.3 L122.2,572.1 L123.3,567.6 L124.4,565.6 L125.5,569.5 L126.7,567.9 L127.8,568.7 L128.9,568.6 L130.0,564.4 L131.1,563.1 L132.7,570.9 L133.7,579.2 L134.6,584.6 L135.6,588.7 L136.7,593.6 L137.8,602.2 L138.9,613.3 L140.0,618.7 L141.1,611.9 L142.2,607.9 L143.3,598.7 L144.4,596.3 L145.6,592.7 L146.7,593.1 L147.8,598.8 L148.9,603.1 L150.0,601.2 L151.1,595.2 L152.2,593.1 L153.3,592.8 L154.5,596.0 L155.6,598.7 L156.7,607.2 L157.8,610.9 L158.9,609.6 L160.0,603.6 L161.1,601.6 L162.2,598.2 L163.3,597.6 L164.4,598.4 L165.6,605.2 L166.7,605.1 L167.8,609.8 L168.9,611.4 L170.0,612.2 L171.1,612.2 L172.2,616.3 L173.3,616.4 L174.4,610.1 L175.6,608.3 L176.7,601.1 L177.8,598.7 L178.9,592.9 L180.0,586.5 L181.1,581.5 L182.2,579.8 L183.3,572.0 L184.4,576.6 L185.6,577.1 L186.7,583.2 L187.8,584.2 L188.9,580.1 L190.0,578.5 L191.1,576.4 L192.2,579.4 L193.3,579.4 L194.4,579.8 L195.5,573.3 L196.7,573.4 L197.8,566.4 L198.9,562.9 L200.0,561.1 L201.1,561.8 L202.2,557.5 L203.3,556.4 L204.4,558.3 L205.6,560.1 L206.7,565.3 L207.8,572.0 L208.9,578.0 L210.0,588.7 L211.1,596.4 L212.2,597.3 L213.3,600.9 L214.4,599.9 L215.6,597.2 L216.7,596.4 L217.8,598.1 L218.9,602.7 L220.0,602.2 L221.1,604.2 L222.2,595.7 L223.3,586.4 L224.2,589.5 L225.0,588.7 L226.1,591.5 L227.2,597.6 L228.3,597.6 L229.5,603.4 L230.6,603.1 L231.7,599.6 L232.8,591.5 L233.9,587.6 L235.0,582.1 L236.1,581.0 L237.2,578.2 L238.3,572.0 L239.4,575.4 L240.6,582.0 L241.7,578.8 L242.8,572.9 L243.9,565.3 L245.0,564.7 L246.1,563.1 L247.2,578.7 L248.3,575.3 L249.5,570.7 L250.6,569.8 L251.7,566.9 L252.8,568.7 L253.9,576.7 L255.0,579.8 L256.1,575.1 L257.2,573.1 L258.3,575.7 L259.5,574.8 L260.6,577.6 L261.7,584.1 L262.8,587.7 L263.9,592.0 L265.0,597.6 L266.1,591.2 L267.2,585.3 L268.3,582.8 L269.4,576.4 L270.5,569.7 L271.7,566.1 L272.8,563.1 L273.9,562.3 L275.0,562.7 L276.1,559.8 L277.2,558.4 L278.4,554.8 L279.5,556.1 L280.6,552.0 L281.7,552.7 L282.8,554.0 L283.9,558.7 L285.0,561.6 L286.1,566.6 L287.2,570.9 L288.3,573.0 L289.5,578.1 L290.6,584.2 L291.7,584.1 L292.8,585.3 L293.9,589.0 L295.0,592.0 L296.1,592.9 L297.2,596.8 L298.3,602.4 L299.4,603.1 L300.5,602.8 L301.7,597.6 L302.8,593.1 L303.9,588.0 L305.0,582.1 L306.1,576.4 L307.2,570.9 L308.4,566.8 L309.5,563.1 L310.6,562.0 L311.7,563.6 L312.8,560.9 L313.9,570.3 L315.0,577.6 L316.1,582.9 L317.2,581.0 L318.3,586.4 L319.4,590.8 L320.6,593.8 L321.7,597.6 L322.8,592.9 L323.9,584.8 L325.0,579.8 L326.1,577.9 L327.2,570.9 L328.3,568.7 L329.4,571.1 L330.6,572.1 L331.7,570.9 L332.8,577.8 L333.9,581.7 L335.0,585.3 L336.1,609.8 L337.2,604.2 L338.3,596.4 L339.4,596.1 L340.6,594.9 L341.7,590.9 L342.8,587.6 L343.9,586.9 L345.0,585.5 L346.1,580.9 L347.2,580.4 L348.3,575.6 L349.5,575.1 L350.6,573.0 L351.7,568.7 L352.8,568.5 L353.9,568.2 L355.0,566.4 L356.1,566.4 L357.2,567.6 L358.3,568.5 L359.4,568.7 L360.5,574.3 L361.7,584.2 L362.8,580.9 L363.9,578.6 L365.0,572.0 L366.1,579.0 L367.2,583.2 L368.3,586.4 L369.4,592.0 L370.5,602.1 L371.7,609.8 L372.8,600.2 L373.9,589.5 L375.0,579.8 L376.1,582.2 L377.2,579.0 L378.4,583.1 L379.5,580.0 L380.6,583.1 L381.7,587.0 L382.8,589.8 L383.9,586.4 L385.0,581.7 L386.1,580.8 L387.2,576.4 L388.3,573.1 L389.4,578.5 L390.6,585.0 L391.7,587.6 L392.8,589.1 L393.9,590.6 L395.0,594.9 L396.1,598.7 L397.2,604.4 L398.4,606.6 L399.5,611.2 L400.6,617.6 L401.7,613.4 L402.8,605.8 L403.9,598.7 L405.0,592.1 L406.1,588.1 L407.2,579.8 L408.3,583.7 L409.5,590.3 L410.6,594.2 L411.7,589.3 L412.8,587.2 L413.9,585.8 L415.0,583.1 L416.1,577.6 L417.1,577.9 L418.1,573.6 L419.0,573.0 L420.0,570.9 L421.1,571.0 L422.2,573.1 L423.3,585.3 L424.5,589.6 L425.6,597.6 L426.7,594.2 L427.8,590.9 L428.9,605.3 L430.0,609.3 L431.1,611.6 L432.2,612.0 L433.3,619.2 L434.4,624.2 L435.6,630.9 L436.7,625.4 L437.8,615.3 L438.9,605.6 L440.0,596.6 L441.1,589.8 L442.2,594.0 L443.3,598.7 L444.4,592.7 L445.6,587.5 L446.7,584.2 L447.8,583.3 L448.9,584.0 L450.0,582.8 L451.1,581.5 L452.2,582.0 L453.3,585.4 L454.4,585.3 L455.5,591.5 L456.7,592.5 L457.8,596.4 L458.9,595.0 L460.0,595.5 L461.1,598.7 L462.2,605.6 L463.3,608.7 L464.5,598.5 L465.6,593.1 L466.7,590.3 L467.8,585.3 L468.9,591.2 L470.0,596.4 L471.1,593.5 L472.2,594.1 L473.3,588.1 L474.4,588.7 L475.5,584.6 L476.7,584.0 L477.8,582.0 L478.9,586.2 L480.0,595.3 L481.1,590.7 L482.2,581.3 L483.3,576.4 L484.5,569.5 L485.6,566.4 L486.7,570.7 L487.8,579.8 L488.9,583.8 L490.0,586.2 L491.1,589.8 L492.2,594.2 L493.3,598.0 L494.4,600.9 L495.5,603.6 L496.7,603.1 L497.8,601.0 L498.9,594.2 L500.0,589.1 L501.1,582.0 L502.2,575.2 L503.3,571.5 L504.4,566.4 L505.5,566.6 L506.7,567.6 L507.8,572.0 L508.9,574.5 L510.0,578.3 L511.1,579.8 L512.2,582.9 L513.3,588.2 L514.4,594.2 L515.5,588.6 L516.7,585.6 L517.8,579.8 L518.9,576.2 L520.0,573.0 L521.1,568.7 L522.2,574.1 L523.3,576.3 L524.4,580.9 L525.5,576.6 L526.6,571.4 L527.8,561.3 L528.9,557.6 L530.0,567.6 L531.1,574.3 L532.2,580.9 L533.3,576.0 L534.5,574.7 L535.6,572.0 L536.7,569.0 L537.8,566.7 L538.9,560.9 L540.0,572.0 L541.1,603.1 L542.2,598.8 L543.3,596.1 L544.4,592.0 L545.5,593.4 L546.6,592.4 L547.8,592.7 L548.9,589.8 L550.0,587.4 L551.1,586.1 L552.2,581.6 L553.3,580.9 L554.5,577.1 L555.6,570.9 L556.7,574.0 L557.8,574.6 L558.9,575.3 L560.0,581.4 L561.1,585.3 L562.2,589.0 L563.3,597.8 L564.4,600.9 L565.5,595.2 L566.7,587.0 L567.8,576.4 L568.9,576.6 L570.0,577.9 L571.1,576.4 L572.2,577.1 L573.4,581.9 L574.5,583.3 L575.6,583.1 L576.7,581.5 L577.8,579.3 L578.9,580.3 L580.0,579.8 L581.1,578.7 L582.2,578.4 L583.3,575.5 L584.4,574.2 L585.5,571.4 L586.6,575.1 L587.8,570.8 L588.9,574.3 L590.0,570.7 L591.1,572.0 L592.2,576.7 L593.3,584.6 L594.4,588.7 L595.5,587.9 L596.7,590.9 L597.8,585.4 L598.9,583.7 L600.0,581.2 L601.1,576.4 L602.2,574.5 L603.3,570.0 L604.4,565.3 L605.5,565.4 L606.6,560.8 L607.8,561.0 L608.9,554.3 L610.0,554.2 L611.1,555.0 L612.2,558.8 L613.3,560.9 L614.1,558.5 L615.0,558.3 L616.2,563.0 L617.4,565.4 L618.6,561.4 L619.8,555.9 L621.0,562.0 L622.2,567.8 L623.4,565.4 L624.6,559.5 L625.8,561.0 L626.9,560.9 L628.1,563.1 L628.9,589.3 L629.8,581.9 L630.8,577.6 L631.7,569.0 L632.9,571.5 L634.1,568.3 L635.3,570.2 L636.5,576.2 L637.7,578.6 L638.9,577.4 L640.1,571.4 L641.3,576.3 L642.5,581.0 L643.7,580.2 L644.9,578.6 L646.1,582.2 L647.2,589.1 L648.4,594.1 L649.6,598.9 L650.8,603.7 L652.0,605.4 L653.2,603.6 L654.4,607.3 L655.6,607.3 L656.8,602.5 L658.0,606.1 L659.2,609.1 L660.4,613.2 L661.6,620.4 L662.8,617.6 L664.0,612.0 L665.2,607.3 L666.4,603.7 L667.5,601.1 L668.7,594.2 L669.9,592.9 L671.1,589.9 L672.3,586.1 L673.5,583.4 L674.7,587.7 L675.9,589.5 L677.1,589.3 L678.3,584.5 L679.5,582.0 L680.7,578.6 L681.9,578.3 L683.1,581.5 L684.3,583.4 L685.5,583.4 L686.7,582.3 L687.9,578.6 L689.1,577.3 L690.2,575.2 L691.4,575.0 L692.6,570.6 L693.8,570.0 L695.0,566.6 L696.2,567.6 L697.4,562.3 L698.6,563.1 L699.8,566.3 L701.0,566.6 L702.2,570.7 L703.4,579.8 L704.6,586.6 L705.8,596.5 L707.0,598.7 L708.2,603.7 L709.4,610.6 L710.6,615.6 L711.8,621.8 L713.0,629.9 L714.1,619.6 L715.3,610.8 L716.5,607.5 L717.7,600.8 L718.9,598.9 L720.1,596.9 L721.3,590.5 L722.5,589.3 L723.7,590.6 L724.9,590.4 L726.1,592.9 L727.3,587.0 L728.5,584.3 L729.7,579.8 L730.9,580.7 L732.1,582.2 L733.3,588.7 L734.5,596.5 L735.6,588.9 L736.8,582.2 L738.0,585.9 L739.2,589.3 L740.4,584.0 L741.6,580.6 L742.8,578.6 L744.0,577.3 L745.2,575.3 L746.4,572.6 L747.6,571.2 L748.8,571.2 L750.0,567.8 L751.2,568.0 L752.4,568.9 L753.6,566.6 L754.8,564.9 L756.0,567.3 L757.1,567.3 L758.3,565.4 L759.4,568.1 L760.6,565.6 L761.8,566.2 L762.9,567.8 L764.2,577.2 L765.5,582.2 L766.7,584.7 L767.9,592.7 L769.1,594.1 L770.3,592.1 L771.5,584.3 L772.7,582.2 L773.9,579.2 L775.1,580.2 L776.3,577.4 L777.5,574.1 L778.6,571.3 L779.8,571.4 L781.0,570.0 L782.2,564.7 L783.4,561.9 L784.6,559.2 L785.8,553.5 L787.0,561.7 L788.2,573.8 L789.4,569.1 L790.6,565.4 L791.8,581.9 L793.0,596.5 L794.2,588.4 L795.4,583.8 L796.6,579.8 L797.8,579.1 L798.9,578.7 L800.1,575.0 L801.3,591.8 L802.5,603.7 L803.7,593.7 L804.9,587.8 L806.1,579.8 L807.3,579.1 L808.5,575.8 L809.7,573.8 L810.9,571.6 L812.1,565.8 L813.3,564.3 L814.5,563.6 L815.7,565.4 L816.9,569.0 L818.1,574.2 L819.2,584.4 L820.4,591.7 L821.6,596.6 L822.8,601.3 L824.0,597.5 L825.2,592.9 L825.2,618.2 Z" fill="#76a49e" clip-path="url(#r30)"/>
<line x1="16" y1="572.5" x2="830" y2="572.5" stroke="#707078"/><line x1="16" y1="618.5" x2="830" y2="618.5" stroke="#707078"/>
<line x1="16" y1="595.5" x2="830" y2="595.5" stroke="#8a8a92" stroke-dasharray="7,3,2,3"/>
<path d="M44.4,583.1 L45.5,575.1 L46.7,567.6 L47.8,569.6 L48.9,570.9 L50.0,571.2 L51.1,567.0 L52.2,565.3 L53.3,561.3 L54.5,557.6 L55.6,553.1 L56.7,550.0 L57.8,550.2 L58.9,548.7 L60.0,552.7 L61.1,555.3 L62.2,555.0 L63.3,549.5 L64.4,549.8 L65.5,548.4 L66.7,546.9 L67.8,548.7 L68.9,549.2 L70.0,547.4 L71.1,545.3 L72.2,572.0 L73.3,600.9 L74.4,593.5 L75.6,590.9 L76.7,588.7 L77.8,597.3 L78.9,600.9 L80.0,607.0 L81.1,609.1 L82.2,612.0 L83.3,610.4 L84.4,607.6 L85.5,608.0 L86.7,609.5 L87.8,614.2 L88.9,616.6 L90.0,616.4 L91.1,619.3 L92.2,623.1 L93.3,620.7 L94.4,620.9 L95.6,608.7 L96.7,607.4 L97.8,610.7 L98.9,611.7 L100.0,613.1 L101.1,604.3 L102.2,592.0 L103.3,591.8 L104.5,592.2 L105.6,591.2 L106.7,590.9 L107.8,594.3 L108.9,595.9 L110.0,598.7 L111.1,596.8 L112.2,599.8 L113.3,596.4 L114.4,601.8 L115.6,602.0 L116.7,599.7 L117.8,594.9 L118.9,589.8 L120.0,583.3 L121.1,577.3 L122.2,572.1 L123.3,567.6 L124.4,565.6 L125.5,569.5 L126.7,567.9 L127.8,568.7 L128.9,568.6 L130.0,564.4 L131.1,563.1 L132.7,570.9 L133.7,579.2 L134.6,584.6 L135.6,588.7 L136.7,593.6 L137.8,602.2 L138.9,613.3 L140.0,618.7 L141.1,611.9 L142.2,607.9 L143.3,598.7 L144.4,596.3 L145.6,592.7 L146.7,593.1 L147.8,598.8 L148.9,603.1 L150.0,601.2 L151.1,595.2 L152.2,593.1 L153.3,592.8 L154.5,596.0 L155.6,598.7 L156.7,607.2 L157.8,610.9 L158.9,609.6 L160.0,603.6 L161.1,601.6 L162.2,598.2 L163.3,597.6 L164.4,598.4 L165.6,605.2 L166.7,605.1 L167.8,609.8 L168.9,611.4 L170.0,612.2 L171.1,612.2 L172.2,616.3 L173.3,616.4 L174.4,610.1 L175.6,608.3 L176.7,601.1 L177.8,598.7 L178.9,592.9 L180.0,586.5 L181.1,581.5 L182.2,579.8 L183.3,572.0 L184.4,576.6 L185.6,577.1 L186.7,583.2 L187.8,584.2 L188.9,580.1 L190.0,578.5 L191.1,576.4 L192.2,579.4 L193.3,579.4 L194.4,579.8 L195.5,573.3 L196.7,573.4 L197.8,566.4 L198.9,562.9 L200.0,561.1 L201.1,561.8 L202.2,557.5 L203.3,556.4 L204.4,558.3 L205.6,560.1 L206.7,565.3 L207.8,572.0 L208.9,578.0 L210.0,588.7 L211.1,596.4 L212.2,597.3 L213.3,600.9 L214.4,599.9 L215.6,597.2 L216.7,596.4 L217.8,598.1 L218.9,602.7 L220.0,602.2 L221.1,604.2 L222.2,595.7 L223.3,586.4 L224.2,589.5 L225.0,588.7 L226.1,591.5 L227.2,597.6 L228.3,597.6 L229.5,603.4 L230.6,603.1 L231.7,599.6 L232.8,591.5 L233.9,587.6 L235.0,582.1 L236.1,581.0 L237.2,578.2 L238.3,572.0 L239.4,575.4 L240.6,582.0 L241.7,578.8 L242.8,572.9 L243.9,565.3 L245.0,564.7 L246.1,563.1 L247.2,578.7 L248.3,575.3 L249.5,570.7 L250.6,569.8 L251.7,566.9 L252.8,568.7 L253.9,576.7 L255.0,579.8 L256.1,575.1 L257.2,573.1 L258.3,575.7 L259.5,574.8 L260.6,577.6 L261.7,584.1 L262.8,587.7 L263.9,592.0 L265.0,597.6 L266.1,591.2 L267.2,585.3 L268.3,582.8 L269.4,576.4 L270.5,569.7 L271.7,566.1 L272.8,563.1 L273.9,562.3 L275.0,562.7 L276.1,559.8 L277.2,558.4 L278.4,554.8 L279.5,556.1 L280.6,552.0 L281.7,552.7 L282.8,554.0 L283.9,558.7 L285.0,561.6 L286.1,566.6 L287.2,570.9 L288.3,573.0 L289.5,578.1 L290.6,584.2 L291.7,584.1 L292.8,585.3 L293.9,589.0 L295.0,592.0 L296.1,592.9 L297.2,596.8 L298.3,602.4 L299.4,603.1 L300.5,602.8 L301.7,597.6 L302.8,593.1 L303.9,588.0 L305.0,582.1 L306.1,576.4 L307.2,570.9 L308.4,566.8 L309.5,563.1 L310.6,562.0 L311.7,563.6 L312.8,560.9 L313.9,570.3 L315.0,577.6 L316.1,582.9 L317.2,581.0 L318.3,586.4 L319.4,590.8 L320.6,593.8 L321.7,597.6 L322.8,592.9 L323.9,584.8 L325.0,579.8 L326.1,577.9 L327.2,570.9 L328.3,568.7 L329.4,571.1 L330.6,572.1 L331.7,570.9 L332.8,577.8 L333.9,581.7 L335.0,585.3 L336.1,609.8 L337.2,604.2 L338.3,596.4 L339.4,596.1 L340.6,594.9 L341.7,590.9 L342.8,587.6 L343.9,586.9 L345.0,585.5 L346.1,580.9 L347.2,580.4 L348.3,575.6 L349.5,575.1 L350.6,573.0 L351.7,568.7 L352.8,568.5 L353.9,568.2 L355.0,566.4 L356.1,566.4 L357.2,567.6 L358.3,568.5 L359.4,568.7 L360.5,574.3 L361.7,584.2 L362.8,580.9 L363.9,578.6 L365.0,572.0 L366.1,579.0 L367.2,583.2 L368.3,586.4 L369.4,592.0 L370.5,602.1 L371.7,609.8 L372.8,600.2 L373.9,589.5 L375.0,579.8 L376.1,582.2 L377.2,579.0 L378.4,583.1 L379.5,580.0 L380.6,583.1 L381.7,587.0 L382.8,589.8 L383.9,586.4 L385.0,581.7 L386.1,580.8 L387.2,576.4 L388.3,573.1 L389.4,578.5 L390.6,585.0 L391.7,587.6 L392.8,589.1 L393.9,590.6 L395.0,594.9 L396.1,598.7 L397.2,604.4 L398.4,606.6 L399.5,611.2 L400.6,617.6 L401.7,613.4 L402.8,605.8 L403.9,598.7 L405.0,592.1 L406.1,588.1 L407.2,579.8 L408.3,583.7 L409.5,590.3 L410.6,594.2 L411.7,589.3 L412.8,587.2 L413.9,585.8 L415.0,583.1 L416.1,577.6 L417.1,577.9 L418.1,573.6 L419.0,573.0 L420.0,570.9 L421.1,571.0 L422.2,573.1 L423.3,585.3 L424.5,589.6 L425.6,597.6 L426.7,594.2 L427.8,590.9 L428.9,605.3 L430.0,609.3 L431.1,611.6 L432.2,612.0 L433.3,619.2 L434.4,624.2 L435.6,630.9 L436.7,625.4 L437.8,615.3 L438.9,605.6 L440.0,596.6 L441.1,589.8 L442.2,594.0 L443.3,598.7 L444.4,592.7 L445.6,587.5 L446.7,584.2 L447.8,583.3 L448.9,584.0 L450.0,582.8 L451.1,581.5 L452.2,582.0 L453.3,585.4 L454.4,585.3 L455.5,591.5 L456.7,592.5 L457.8,596.4 L458.9,595.0 L460.0,595.5 L461.1,598.7 L462.2,605.6 L463.3,608.7 L464.5,598.5 L465.6,593.1 L466.7,590.3 L467.8,585.3 L468.9,591.2 L470.0,596.4 L471.1,593.5 L472.2,594.1 L473.3,588.1 L474.4,588.7 L475.5,584.6 L476.7,584.0 L477.8,582.0 L478.9,586.2 L480.0,595.3 L481.1,590.7 L482.2,581.3 L483.3,576.4 L484.5,569.5 L485.6,566.4 L486.7,570.7 L487.8,579.8 L488.9,583.8 L490.0,586.2 L491.1,589.8 L492.2,594.2 L493.3,598.0 L494.4,600.9 L495.5,603.6 L496.7,603.1 L497.8,601.0 L498.9,594.2 L500.0,589.1 L501.1,582.0 L502.2,575.2 L503.3,571.5 L504.4,566.4 L505.5,566.6 L506.7,567.6 L507.8,572.0 L508.9,574.5 L510.0,578.3 L511.1,579.8 L512.2,582.9 L513.3,588.2 L514.4,594.2 L515.5,588.6 L516.7,585.6 L517.8,579.8 L518.9,576.2 L520.0,573.0 L521.1,568.7 L522.2,574.1 L523.3,576.3 L524.4,580.9 L525.5,576.6 L526.6,571.4 L527.8,561.3 L528.9,557.6 L530.0,567.6 L531.1,574.3 L532.2,580.9 L533.3,576.0 L534.5,574.7 L535.6,572.0 L536.7,569.0 L537.8,566.7 L538.9,560.9 L540.0,572.0 L541.1,603.1 L542.2,598.8 L543.3,596.1 L544.4,592.0 L545.5,593.4 L546.6,592.4 L547.8,592.7 L548.9,589.8 L550.0,587.4 L551.1,586.1 L552.2,581.6 L553.3,580.9 L554.5,577.1 L555.6,570.9 L556.7,574.0 L557.8,574.6 L558.9,575.3 L560.0,581.4 L561.1,585.3 L562.2,589.0 L563.3,597.8 L564.4,600.9 L565.5,595.2 L566.7,587.0 L567.8,576.4 L568.9,576.6 L570.0,577.9 L571.1,576.4 L572.2,577.1 L573.4,581.9 L574.5,583.3 L575.6,583.1 L576.7,581.5 L577.8,579.3 L578.9,580.3 L580.0,579.8 L581.1,578.7 L582.2,578.4 L583.3,575.5 L584.4,574.2 L585.5,571.4 L586.6,575.1 L587.8,570.8 L588.9,574.3 L590.0,570.7 L591.1,572.0 L592.2,576.7 L593.3,584.6 L594.4,588.7 L595.5,587.9 L596.7,590.9 L597.8,585.4 L598.9,583.7 L600.0,581.2 L601.1,576.4 L602.2,574.5 L603.3,570.0 L604.4,565.3 L605.5,565.4 L606.6,560.8 L607.8,561.0 L608.9,554.3 L610.0,554.2 L611.1,555.0 L612.2,558.8 L613.3,560.9 L614.1,558.5 L615.0,558.3 L616.2,563.0 L617.4,565.4 L618.6,561.4 L619.8,555.9 L621.0,562.0 L622.2,567.8 L623.4,565.4 L624.6,559.5 L625.8,561.0 L626.9,560.9 L628.1,563.1 L628.9,589.3 L629.8,581.9 L630.8,577.6 L631.7,569.0 L632.9,571.5 L634.1,568.3 L635.3,570.2 L636.5,576.2 L637.7,578.6 L638.9,577.4 L640.1,571.4 L641.3,576.3 L642.5,581.0 L643.7,580.2 L644.9,578.6 L646.1,582.2 L647.2,589.1 L648.4,594.1 L649.6,598.9 L650.8,603.7 L652.0,605.4 L653.2,603.6 L654.4,607.3 L655.6,607.3 L656.8,602.5 L658.0,606.1 L659.2,609.1 L660.4,613.2 L661.6,620.4 L662.8,617.6 L664.0,612.0 L665.2,607.3 L666.4,603.7 L667.5,601.1 L668.7,594.2 L669.9,592.9 L671.1,589.9 L672.3,586.1 L673.5,583.4 L674.7,587.7 L675.9,589.5 L677.1,589.3 L678.3,584.5 L679.5,582.0 L680.7,578.6 L681.9,578.3 L683.1,581.5 L684.3,583.4 L685.5,583.4 L686.7,582.3 L687.9,578.6 L689.1,577.3 L690.2,575.2 L691.4,575.0 L692.6,570.6 L693.8,570.0 L695.0,566.6 L696.2,567.6 L697.4,562.3 L698.6,563.1 L699.8,566.3 L701.0,566.6 L702.2,570.7 L703.4,579.8 L704.6,586.6 L705.8,596.5 L707.0,598.7 L708.2,603.7 L709.4,610.6 L710.6,615.6 L711.8,621.8 L713.0,629.9 L714.1,619.6 L715.3,610.8 L716.5,607.5 L717.7,600.8 L718.9,598.9 L720.1,596.9 L721.3,590.5 L722.5,589.3 L723.7,590.6 L724.9,590.4 L726.1,592.9 L727.3,587.0 L728.5,584.3 L729.7,579.8 L730.9,580.7 L732.1,582.2 L733.3,588.7 L734.5,596.5 L735.6,588.9 L736.8,582.2 L738.0,585.9 L739.2,589.3 L740.4,584.0 L741.6,580.6 L742.8,578.6 L744.0,577.3 L745.2,575.3 L746.4,572.6 L747.6,571.2 L748.8,571.2 L750.0,567.8 L751.2,568.0 L752.4,568.9 L753.6,566.6 L754.8,564.9 L756.0,567.3 L757.1,567.3 L758.3,565.4 L759.4,568.1 L760.6,565.6 L761.8,566.2 L762.9,567.8 L764.2,577.2 L765.5,582.2 L766.7,584.7 L767.9,592.7 L769.1,594.1 L770.3,592.1 L771.5,584.3 L772.7,582.2 L773.9,579.2 L775.1,580.2 L776.3,577.4 L777.5,574.1 L778.6,571.3 L779.8,571.4 L781.0,570.0 L782.2,564.7 L783.4,561.9 L784.6,559.2 L785.8,553.5 L787.0,561.7 L788.2,573.8 L789.4,569.1 L790.6,565.4 L791.8,581.9 L793.0,596.5 L794.2,588.4 L795.4,583.8 L796.6,579.8 L797.8,579.1 L798.9,578.7 L800.1,575.0 L801.3,591.8 L802.5,603.7 L803.7,593.7 L804.9,587.8 L806.1,579.8 L807.3,579.1 L808.5,575.8 L809.7,573.8 L810.9,571.6 L812.1,565.8 L813.3,564.3 L814.5,563.6 L815.7,565.4 L816.9,569.0 L818.1,574.2 L819.2,584.4 L820.4,591.7 L821.6,596.6 L822.8,601.3 L824.0,597.5 L825.2,592.9" fill="none" stroke="#5a6498" stroke-width="1.1" stroke-linejoin="round"/>
</g>
<g font-family='"Liberation Sans", sans-serif' font-size="10.5" fill="#000" stroke="#000" stroke-width="0.2"><text x="848" y="53.0" text-anchor="end">10</text><text x="848" y="77.1" text-anchor="end">0</text><text x="848" y="101.2" text-anchor="end">-10</text><text x="848" y="125.3" text-anchor="end">-20</text><text x="848" y="149.4" text-anchor="end">-30</text><text x="883.5" y="166.1" text-anchor="end" font-size="10.8">5000.0000</text><text x="883.5" y="168.7" text-anchor="end" font-size="10.8">4750.0000</text><text x="883.5" y="171.3" text-anchor="end" font-size="10.8">4500.0000</text><text x="883.5" y="174.2" text-anchor="end" font-size="10.8">4250.0000</text><text x="883.5" y="177.2" text-anchor="end" font-size="10.8">4000.0000</text><text x="883.5" y="180.4" text-anchor="end" font-size="10.8">3750.0000</text><text x="883.5" y="183.8" text-anchor="end" font-size="10.8">3500.0000</text><text x="883.5" y="187.5" text-anchor="end" font-size="10.8">3250.0000</text><text x="883.5" y="191.4" text-anchor="end" font-size="10.8">3000.0000</text><text x="883.5" y="195.7" text-anchor="end" font-size="10.8">2750.0000</text><text x="883.5" y="200.4" text-anchor="end" font-size="10.8">2500.0000</text><text x="883.5" y="205.7" text-anchor="end" font-size="10.8">2250.0000</text><text x="883.5" y="211.5" text-anchor="end" font-size="10.8">2000.0000</text><text x="883.5" y="218.1" text-anchor="end" font-size="10.8">1750.0000</text><text x="883.5" y="225.7" text-anchor="end" font-size="10.8">1500.0000</text><text x="883.5" y="234.8" text-anchor="end" font-size="10.8">1250.0000</text><text x="883.5" y="245.8" text-anchor="end" font-size="10.8">1000.0000</text><text x="883.5" y="260.0" text-anchor="end" font-size="10.8">750.0000</text><text x="883.5" y="280.1" text-anchor="end" font-size="10.8">500.0000</text><text x="883.5" y="314.4" text-anchor="end" font-size="10.8">250.0000</text><text x="883.5" y="383.0" text-anchor="end" font-size="10.8">62.5000</text><text x="883.5" y="417.4" text-anchor="end" font-size="10.8">31.2500</text><text x="883.5" y="451.7" text-anchor="end" font-size="10.8">15.6250</text><text x="883.5" y="486.0" text-anchor="end" font-size="10.8">7.8125</text><text x="844.5" y="554.0" text-anchor="end">90</text><text x="844.5" y="576.9" text-anchor="end">70</text><text x="844.5" y="599.8" text-anchor="end">50</text><text x="844.5" y="622.6" text-anchor="end">30</text><text x="844.5" y="645.5" text-anchor="end">10</text><text x="33.6" y="528.4" text-anchor="middle">25</text><text x="33.6" y="668.3" text-anchor="middle">25</text><text x="74.6" y="528.4" text-anchor="middle">30</text><text x="74.6" y="668.3" text-anchor="middle">30</text><text x="114.6" y="528.4" text-anchor="middle">35</text><text x="114.6" y="668.3" text-anchor="middle">35</text><text x="154.6" y="528.4" text-anchor="middle">40</text><text x="154.6" y="668.3" text-anchor="middle">40</text><text x="195.6" y="528.4" text-anchor="middle">45</text><text x="195.6" y="668.3" text-anchor="middle">45</text><text x="235.6" y="528.4" text-anchor="middle">50</text><text x="235.6" y="668.3" text-anchor="middle">50</text><text x="276.6" y="528.4" text-anchor="middle">55</text><text x="276.6" y="668.3" text-anchor="middle">55</text><text x="316.6" y="528.4" text-anchor="middle">60</text><text x="316.6" y="668.3" text-anchor="middle">60</text><text x="356.6" y="528.4" text-anchor="middle">65</text><text x="356.6" y="668.3" text-anchor="middle">65</text><text x="397.6" y="528.4" text-anchor="middle">70</text><text x="397.6" y="668.3" text-anchor="middle">70</text><text x="437.6" y="528.4" text-anchor="middle">75</text><text x="437.6" y="668.3" text-anchor="middle">75</text><text x="477.6" y="528.4" text-anchor="middle">80</text><text x="477.6" y="668.3" text-anchor="middle">80</text><text x="518.6" y="528.4" text-anchor="middle">85</text><text x="518.6" y="668.3" text-anchor="middle">85</text><text x="558.6" y="528.4" text-anchor="middle">90</text><text x="558.6" y="668.3" text-anchor="middle">90</text><text x="598.6" y="528.4" text-anchor="middle">95</text><text x="598.6" y="668.3" text-anchor="middle">95</text><text x="639.6" y="528.4" text-anchor="middle">00</text><text x="639.6" y="668.3" text-anchor="middle">00</text><text x="679.6" y="528.4" text-anchor="middle">05</text><text x="679.6" y="668.3" text-anchor="middle">05</text><text x="720.6" y="528.4" text-anchor="middle">10</text><text x="720.6" y="668.3" text-anchor="middle">10</text><text x="760.6" y="528.4" text-anchor="middle">15</text><text x="760.6" y="668.3" text-anchor="middle">15</text><text x="800.6" y="528.4" text-anchor="middle">20</text><text x="800.6" y="668.3" text-anchor="middle">20</text></g>
<path d="M830,48.5h4M830,72.5h4M830,96.5h4M830,120.5h4M830,144.5h4M830,36.5h2M830,60.5h2M830,84.5h2M830,108.5h2M830,132.5h2M830,161.5h4M830,163.5h4M830,166.5h4M830,169.5h4M830,172.5h4M830,175.5h4M830,178.5h4M830,182.5h4M830,186.5h4M830,190.5h4M830,195.5h4M830,200.5h4M830,206.5h4M830,213.5h4M830,220.5h4M830,229.5h4M830,241.5h4M830,255.5h4M830,275.5h4M830,309.5h4M830,378.5h4M830,412.5h4M830,446.5h4M830,481.5h4M830,343.5h4M830,286.5h2M830,300.5h2M830,320.5h2M830,334.5h2M830,354.5h2M830,360.5h2M830,366.5h2M830,372.5h2M830,389.5h2M830,400.5h2M830,423.5h2M830,434.5h2M830,457.5h2M830,468.5h2M830,474.5h2M830,480.5h2M830,494.5h2M830,503.5h2M830,652.5h2M830,641.5h4M830,629.5h2M830,618.5h4M830,606.5h2M830,595.5h4M830,583.5h2M830,572.5h4M830,561.5h2M830,549.5h4M830,538.5h2M830,646.5h2M830,635.5h2M830,623.5h2M830,612.5h2M830,601.5h2M830,589.5h2M830,578.5h2M830,566.5h2M830,555.5h2M830,543.5h2M34.5,517v3M34.5,528v3M34.5,658v3M74.5,517v3M74.5,528v3M74.5,658v3M115.5,517v3M115.5,528v3M115.5,658v3M155.5,517v3M155.5,528v3M155.5,658v3M195.5,517v3M195.5,528v3M195.5,658v3M236.5,517v3M236.5,528v3M236.5,658v3M276.5,517v3M276.5,528v3M276.5,658v3M316.5,517v3M316.5,528v3M316.5,658v3M357.5,517v3M357.5,528v3M357.5,658v3M397.5,517v3M397.5,528v3M397.5,658v3M438.5,517v3M438.5,528v3M438.5,658v3M478.5,517v3M478.5,528v3M478.5,658v3M518.5,517v3M518.5,528v3M518.5,658v3M559.5,517v3M559.5,528v3M559.5,658v3M599.5,517v3M599.5,528v3M599.5,658v3M639.5,517v3M639.5,528v3M639.5,658v3M680.5,517v3M680.5,528v3M680.5,658v3M720.5,517v3M720.5,528v3M720.5,658v3M760.5,517v3M760.5,528v3M760.5,658v3M801.5,517v3M801.5,528v3M801.5,658v3" stroke="#6a6a72" stroke-width="1" fill="none"/>
<text x="87" y="422.5" font-size="16" font-weight="bold" fill="#d42a2a">Secular Bear Market</text>
<rect x="16.5" y="28.5" width="814" height="127" fill="none" stroke="#6a6a72" stroke-width="1"/>
<rect x="16.5" y="155.5" width="814" height="362" fill="none" stroke="#6a6a72" stroke-width="1"/>
<rect x="16.5" y="531.5" width="814" height="127" fill="none" stroke="#6a6a72" stroke-width="1"/>
<text x="15.3" y="13.6" font-size="13" font-weight="bold" fill="#000">$SPX</text><text x="52.6" y="12.8" font-size="10.7" font-weight="normal" fill="#000" stroke="#000" stroke-width="0.22">S&amp;P 500 Large Cap Index</text><text x="181" y="12.8" font-size="9.2" font-weight="normal" fill="#000" stroke="#000" stroke-width="0.22">INDX</text><text x="15.3" y="25.6" font-size="10.3" font-weight="normal" fill="#000" stroke="#000" stroke-width="0.22">25-Nov-2022</text><text x="268.6" y="25.8" font-size="11" font-weight="bold" fill="#000">Open</text><text x="300.3" y="25.8" font-size="10.7" font-weight="normal" fill="#000" stroke="#000" stroke-width="0.22">3901.7900</text><text x="357" y="25.8" font-size="11" font-weight="bold" fill="#000">High</text><text x="384.2" y="25.8" font-size="10.7" font-weight="normal" fill="#000" stroke="#000" stroke-width="0.22">4034.0200</text><text x="441" y="25.8" font-size="11" font-weight="bold" fill="#000">Low</text><text x="468" y="25.8" font-size="10.7" font-weight="normal" fill="#000" stroke="#000" stroke-width="0.22">3698.1499</text><text x="525.3" y="25.8" font-size="11" font-weight="bold" fill="#000">Close</text><text x="560.4" y="25.8" font-size="10.7" font-weight="normal" fill="#000" stroke="#000" stroke-width="0.22">4026.1201</text><text x="617.7" y="25.8" font-size="11" font-weight="bold" fill="#000">Volume</text><text x="663.5" y="25.8" font-size="10.7" font-weight="normal" fill="#000" stroke="#000" stroke-width="0.22">44.1B</text><text x="697.1" y="25.8" font-size="11" font-weight="bold" fill="#000">Chg</text><text x="722.2" y="25.8" font-size="10.7" font-weight="normal" fill="#000" stroke="#000" stroke-width="0.22">+154.1401</text><text x="775.5" y="25.8" font-size="10.7" font-weight="normal" fill="#000" stroke="#000" stroke-width="0.22">(+3.98%)</text><path d="M821.5,26 L825.8,21 L830,26 Z" fill="#8a90a0"/><text x="739.3" y="12.8" font-size="10.5" font-weight="normal" fill="#505058" stroke="#505058" stroke-width="0.22">© StockCharts.com</text>
<rect x="17" y="29" width="214" height="14" fill="#fcfcfe"/><rect x="19" y="34" width="9.2" height="2" fill="#000"/><text x="31.5" y="39.3" font-size="9.5" letter-spacing="1.52" stroke-width="0.12"><tspan fill="#000" stroke="#000">PPO(12,26,9) 1.972</tspan><tspan fill="#7a2040" stroke="#7a2040">, 4.727</tspan><tspan fill="#5a8a78" stroke="#5a8a78">, -2.755</tspan></text><rect x="17" y="156" width="164" height="12" fill="#fcfcfe"/><rect x="17" y="168" width="98" height="22" fill="#fcfcfe"/><g fill="#000"><rect x="19" y="158" width="2" height="7"/><rect x="22" y="160" width="2" height="6"/><rect x="25" y="159" width="3" height="6"/></g><text x="31.2" y="166" font-size="10" letter-spacing="1.16" fill="#000" stroke="#000" stroke-width="0.12">$SPX (Monthly) 4026.1201</text><rect x="19" y="173" width="8" height="2" fill="#1c1c80"/><text x="29.5" y="177.2" font-size="9.5" font-weight="normal" fill="#1c1c80" stroke="#1c1c80" stroke-width="0.22">MA(50) 3564.4250</text><rect x="19" y="183" width="8" height="2" fill="#1c5a1c"/><text x="29.5" y="187.6" font-size="9.5" font-weight="normal" fill="#1c6a1c" stroke="#1c6a1c" stroke-width="0.22">EMA(20) 4025.2722</text><rect x="17" y="532" width="96" height="13" fill="#fcfcfe"/><path d="M19,542 L21,535 L23,538 L25,534 L28,542 Z" fill="#7aa0a0" stroke="#4a6a8a" stroke-width="0.8"/><text x="31.5" y="541.8" font-size="9.5" letter-spacing="1.59" fill="#000" stroke="#000" stroke-width="0.12">RSI(14) 51.46</text>
<text x="86.5" y="422.6" font-size="16" font-weight="bold" fill="#d01826">Secular Bear Market</text><text x="409" y="297.6" font-size="16" font-weight="bold" fill="#d01826">Secular</text><text x="409" y="316.40000000000003" font-size="16" font-weight="bold" fill="#d01826">Bear</text><text x="409" y="335.20000000000005" font-size="16" font-weight="bold" fill="#d01826">Market</text><text x="666.6" y="166.7" font-size="16" font-weight="bold" fill="#d01826">Secular</text><text x="666.6" y="185.7" font-size="16" font-weight="bold" fill="#d01826">Bear</text><text x="666.6" y="204.7" font-size="16" font-weight="bold" fill="#d01826">Market</text><text x="235.5" y="329.2" font-size="16" font-weight="bold" fill="#1212c8">Secular Bull Market</text><text x="481.2" y="203.2" font-size="16" font-weight="bold" fill="#1212c8">Secular Bull Market</text><text x="747.6" y="107.1" font-size="16" font-weight="bold" fill="#1212c8">Secular</text><text x="747.6" y="126.0" font-size="16" font-weight="bold" fill="#1212c8">Bull</text><text x="747.6" y="144.89999999999998" font-size="16" font-weight="bold" fill="#1212c8">Market</text>
<line x1="241.4" y1="434.4" x2="379.7" y2="352.1" stroke="#1212c8" stroke-width="2.1"/><path d="M390,346 L380.9,358.1 L375.0,348.2 Z" fill="#1212c8"/>
<line x1="486.4" y1="342.7" x2="631.1" y2="227.2" stroke="#1212c8" stroke-width="2.1"/><path d="M640.5,219.7 L633.2,233.0 L625.9,223.9 Z" fill="#1212c8"/>
<line x1="747.8" y1="217.8" x2="810.5" y2="165.9" stroke="#1212c8" stroke-width="2.1"/><path d="M819.8,158.3 L812.7,171.7 L805.3,162.7 Z" fill="#1212c8"/>
<circle cx="822.7" cy="65.7" r="10.4" fill="none" stroke="#1212c8" stroke-width="2.2"/>
<g stroke="#000" stroke-width="2.5"><line x1="236" y1="605.5" x2="390" y2="605.5"/><line x1="484" y1="605.5" x2="638" y2="605.5"/><line x1="733" y1="605.5" x2="825" y2="605.5"/></g>
</svg></body></html>
